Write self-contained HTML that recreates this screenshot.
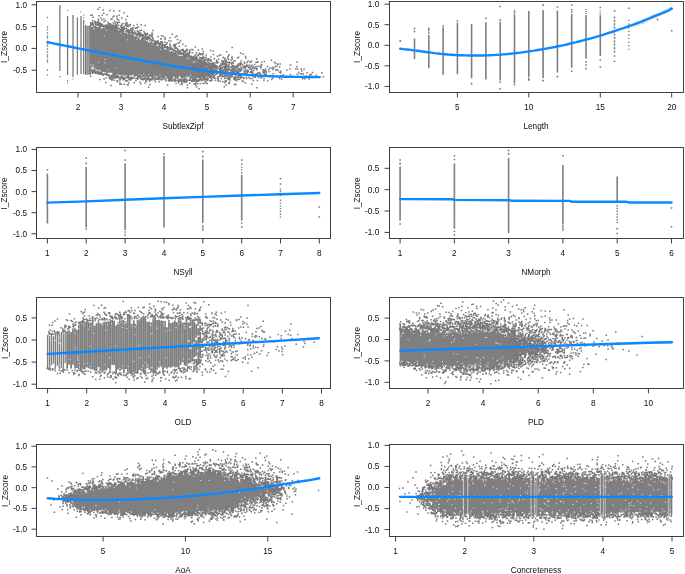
<!DOCTYPE html>
<html><head><meta charset="utf-8"><title>Scatter plots</title>
<style>
html,body{margin:0;padding:0;background:#fff}
svg{display:block}
text{font-family:"Liberation Sans",Arial,sans-serif;font-size:8.2px;fill:#0d0d0d;filter:grayscale(1)}
</style></head><body>
<svg width="685" height="574" viewBox="0 0 685 574">
<rect width="685" height="574" fill="#fff"/>
<g>
<path d="M59.9 5V71M67.6 16V75M73 15V77M77.4 17.5V74.8M81 16V74M83.7 20V74M85.6 25V75M87.2 25.7V74.8M88.9 25.7V74.8M90.3 25V74.8" stroke="#777" stroke-width="1.25" fill="none"/>
<path d="M47.5 17.5h0M47.5 27h0M47.5 29.5h0M47.5 33h0M47.5 36h0M47.5 38h0M47.5 44h0M47.5 46h0M47.5 49h0M47.5 52h0M47.5 55h0M47.5 57h0M47.5 60h0M47.5 62h0M47.5 70h0M47.5 74.8h0" stroke="#787878" stroke-width="1.3" stroke-linecap="square" fill="none" opacity="1"/>
<path d="M59.9 76.6h0M67.6 10.5h0M67.6 80.6h0M67.6 83h0M73 79h0M59.9 8h0M81 12h0M83.7 15h0M83.7 18h0" stroke="#787878" stroke-width="1.2" stroke-linecap="square" fill="none" opacity="1"/>
<path d="M91 26.5 L92 27 L93 26.4 L94 25.8 L95 26.4 L96 25.9 L97 27.2 L98 28.9 L99 26.8 L100 26.8 L101 28.2 L102 28.2 L103 28.1 L104 27 L105 28.2 L106 29.2 L107 26.9 L108 28.2 L109 26.6 L110 27.5 L111 27 L112 29.2 L113 28.2 L114 30.2 L115 30.3 L116 30.2 L117 27.6 L118 30.2 L119 31 L120 31.4 L121 29.7 L122 31.2 L123 30.8 L124 31.4 L125 33.9 L126 32 L127 33.3 L128 34.7 L129 33.3 L130 34.2 L131 34.8 L132 35.1 L133 33.9 L134 35.8 L135 37.6 L136 34.5 L137 37.8 L138 37.3 L139 36.7 L140 40.3 L141 39.2 L142 37.2 L143 39.1 L144 40.1 L145 39.5 L146 40.9 L147 40.4 L148 41.7 L149 43.1 L150 41 L151 42.4 L152 42.1 L153 43.2 L154 42 L155 43.2 L156 44.1 L157 45.8 L158 46.5 L159 44 L160 45 L161 47.2 L162 44.5 L163 46.8 L164 47.7 L165 49.8 L166 49.5 L167 48.8 L168 49.2 L169 49.7 L170 52.3 L171 50.4 L172 51 L173 52.3 L174 52.2 L175 52.5 L176 51.9 L177 53.6 L178 53.6 L179 55.9 L180 55.8 L181 55.4 L182 56.6 L183 55.8 L184 57.9 L185 57 L186 58.1 L187 56.3 L188 58.6 L189 56.6 L190 56.6 L191 59.1 L192 58.9 L193 60.7 L194 63.7 L195 60.5 L196 61.3 L197 62.7 L198 63.6 L199 63.3 L200 63.8 L201 65.5 L202 65.9 L203 64.6 L204 66.4 L205 67.2 L206 66.5 L207 68.7 L208 68 L209 70.8 L210 70.6 L211 71.1 L212 71 L213 72.2 L214 70.6 L214 71.4 L213 74.5 L212 76.4 L211 75.2 L210 76.1 L209 76.4 L208 77.9 L207 76.6 L206 75.6 L205 77.5 L204 77.6 L203 79 L202 76.5 L201 80.7 L200 78.9 L199 78.9 L198 77.6 L197 78.7 L196 77.4 L195 77.3 L194 77.7 L193 77.3 L192 79 L191 78.4 L190 79.1 L189 76.5 L188 77.3 L187 78.3 L186 76.7 L185 77.5 L184 78.5 L183 78.2 L182 78.6 L181 78.8 L180 76 L179 76.5 L178 79.4 L177 78.3 L176 77.1 L175 79.2 L174 76.2 L173 76.8 L172 79.9 L171 80.3 L170 79 L169 78.5 L168 78.9 L167 76.4 L166 79.6 L165 77.2 L164 78.8 L163 78.6 L162 78.5 L161 78.2 L160 77.3 L159 78.6 L158 78.6 L157 75.7 L156 76.7 L155 77.8 L154 78.1 L153 78.6 L152 77.2 L151 77 L150 76.8 L149 77.8 L148 76.4 L147 76.5 L146 76.9 L145 77.3 L144 76.3 L143 78.4 L142 75.3 L141 75.4 L140 76.5 L139 76 L138 77.2 L137 75.7 L136 76.6 L135 76.5 L134 77.3 L133 74.3 L132 75.6 L131 76.1 L130 74.5 L129 77.9 L128 76.6 L127 74.9 L126 75.3 L125 78.1 L124 75.1 L123 74.3 L122 75.4 L121 75.2 L120 75.4 L119 74.6 L118 74.6 L117 74 L116 74.7 L115 75.6 L114 74.1 L113 75.6 L112 72.4 L111 72.9 L110 72.5 L109 73.2 L108 72.3 L107 74.1 L106 71.3 L105 72.1 L104 71.7 L103 71.7 L102 73.2 L101 72.7 L100 69.2 L99 70.8 L98 71.3 L97 69 L96 70.6 L95 67.2 L94 70 L93 66.1 L92 68.8 L91 66.6Z" fill="#7f7f7f" stroke="none"/>
<path d="M157 78.9h0M116.6 75.1h0M120.9 32h0M131.1 77.2h0M146.6 38.3h0M100.6 72.6h0M183.7 57.3h0M161.8 46.1h0M128.5 33h0M99.5 72.3h0M184.7 55.7h0M106.7 75.1h0M107 73.2h0M106.5 73.5h0M101 26.3h0M202.7 80.1h0M123.8 77.7h0M128.3 77.1h0M193.7 59h0M167.1 48.2h0M113.9 27.5h0M143.9 39.1h0M200.3 78.2h0M136.7 34.7h0M179.4 54.2h0M103.4 25.9h0M181.2 54h0M186.5 56.8h0M193.2 78h0M174.1 50.4h0M136.3 37h0M97.7 72.7h0M155.5 41.7h0M184.4 56.3h0M113.6 73.9h0M123.8 78.2h0M156.5 78.3h0M183.3 56.5h0M202.4 64.2h0M106.5 28.3h0M113.1 29h0M190.2 57.6h0M170.2 48.2h0M180.1 80.4h0M214.5 73.2h0M207.1 67.4h0M194.8 79.5h0M187 55.3h0M138.5 38h0M170.2 49.5h0M113.2 76.3h0M184.9 79.2h0M184.4 78.7h0M180.3 79.7h0M145.8 39.7h0M136.6 34.5h0M142.6 76.3h0M94.7 69.3h0M194.8 78h0M157.9 79.1h0M139.4 77h0M157.8 42.9h0M180.4 80.7h0M138.2 34.8h0M193.4 60.3h0M204.9 76.6h0M138.5 77.3h0M108.3 75.4h0M184.7 55.2h0M213.6 73.6h0M109.3 27.2h0M179.2 80.7h0M192.7 80.9h0M204.8 65.4h0M106.4 74.6h0M101.8 25.8h0M213.2 71.8h0M104.6 71.8h0M112.3 27.7h0M161.6 47.2h0M146 39.5h0M183.5 81h0M114.1 75.5h0M204.3 78.8h0M116.6 77.2h0M185.8 57.1h0M99.3 24.9h0M149.1 79.3h0M94.8 69.9h0M129.1 33.6h0M129 34.3h0M180.4 80.8h0M146.8 76.9h0M98.3 28.2h0M214.1 76.2h0M201.2 79.6h0M203.9 65h0M121.2 77.3h0M139.2 75.9h0M118.9 31.6h0M105.5 27.4h0M95.5 27.6h0M153.2 78.3h0M105.7 74.2h0M112.2 75.4h0M196.8 79.9h0M151 42.9h0M113.4 74.2h0M173.9 50.1h0M122.8 75.7h0M155.8 43.2h0M125.6 33.7h0M154.7 79.6h0M167.8 77.8h0M156.7 44h0M139.6 36.7h0M189 80.2h0M198.7 61.2h0M113.2 28h0M107.4 28h0M104.8 71.7h0M212.1 70h0M207 79.6h0M118.6 31.9h0M210.6 77.4h0M116.4 30.5h0M153 78.1h0M152.3 78.3h0M203.6 65.1h0M96.1 24.6h0M130.4 77.9h0M165.4 47.6h0M98.5 72.3h0M120 30.4h0M147.9 77.8h0M200.3 63.4h0M184.6 79.5h0M192.8 78.8h0M185.3 56.9h0M178 78.2h0M196 79.3h0M175.5 52.4h0M181.8 53.8h0M127.5 31.6h0M110.9 28.7h0M183.7 79.9h0M110.6 27h0M205.1 78.1h0M164.5 78.9h0M131.1 77.2h0M207.1 78.7h0M109.8 75.9h0M154.1 43.7h0M102.3 73.9h0M210.1 68.8h0M162.3 79.5h0M190.1 79.9h0M124.7 78.2h0M190.1 78.9h0M178 52.4h0M169.7 78.2h0M208.1 68h0M144.3 37.8h0M141.6 38.7h0M176 77.7h0M194.2 80.4h0M131.9 33h0M173.8 50.8h0M115.9 30h0M159 44.1h0M186.2 57.9h0M99.1 72.2h0M180.6 54.1h0M92.3 25.2h0M209.4 68.8h0M148.6 77.1h0M140.7 36.5h0M179.7 54.1h0M155.3 42.1h0M181.4 79.1h0M100.5 28.2h0M159.8 78.6h0M159.7 44.6h0M206 79.7h0M95.4 24.8h0M146.6 76.4h0M168.7 79.8h0M159 77.7h0M100 25.9h0M164.2 47.2h0M117.9 75.5h0M114.6 29.2h0M198.9 62.4h0M115.5 76.1h0M147.3 39.1h0M183.6 55h0M178.3 53.5h0M158.8 44h0M191.3 59h0M147.5 78.4h0M167.4 48.3h0M191.7 58.8h0M175 77.4h0M170.2 79h0M141 76.8h0M159.7 45.4h0M139.6 76.1h0M182.8 80h0M137.6 34.9h0M147.7 77.6h0M183.6 57h0M153 78.6h0M131.9 35.3h0M193.1 80.7h0M137.8 76.3h0M194.5 79.1h0M187.8 57.2h0M146.3 76.6h0M178.8 78.9h0M94.9 26.7h0M139.3 35.8h0M196.9 81h0M162.4 46.3h0M160.4 79.4h0M172.8 77.9h0M175.2 79.5h0M162.8 78.4h0M142.6 38.7h0M112.9 27.7h0M127.1 31.6h0M127.4 75.9h0M143.6 39.1h0M214.2 76h0M134 33.2h0M145.6 78.3h0M137.5 78.7h0M163.2 44.9h0M207.6 78.8h0M201.4 79.8h0M136.6 36.7h0M123.6 31.8h0M199.8 62.6h0M152.4 79.5h0M175.5 52.9h0M100.4 26.8h0M198.1 63.8h0M128.6 77.9h0M152.1 78h0M115 76.4h0M143.1 38.9h0M193.2 80h0M193.2 59h0M149.5 40.5h0M185.7 78.4h0M147.3 39.8h0M136.9 78.3h0M158.3 77.3h0M115.4 30.6h0M130.5 77.2h0M177.8 54h0M186 80.4h0M98.4 25.3h0M181.4 53.1h0M191.9 80.5h0M146.4 38.7h0M97.9 27.4h0M174.9 80.2h0M121.3 29.8h0M170 79.8h0M136.9 78.2h0M169.9 80h0M122.9 31.7h0M149.6 78.7h0M155.6 78.4h0M169.3 49.6h0M116.1 75.1h0M210.2 70.5h0M126.3 77.1h0M127.7 76.8h0M121.7 76.6h0M98.8 72.7h0M142.8 78.4h0M186.3 55.8h0M177.9 80.9h0M114.8 30.1h0M107.1 27.5h0M129.7 34.8h0M185.6 79.2h0M151.2 79.5h0M205.3 77.1h0M171.8 49.6h0M167.1 47h0M185.5 56.4h0M183.9 80.4h0M133.1 77.2h0M121.8 76.3h0M144.8 77.9h0" stroke="#787878" stroke-width="1.5" stroke-linecap="square" fill="none" opacity="1"/>
<path d="M111.6 25.6h0M124.3 27.9h0M124.1 12.9h0M212.7 70h0M127.5 31.4h0M115.2 23.3h0M207.8 79.6h0M106.4 26.6h0M210.9 77.6h0M196.4 57.9h0M167.8 48h0M138.5 26.8h0M111.6 76.3h0M102.2 24.4h0M101.8 19.9h0M128.9 78.9h0M136.1 34.6h0M205.5 62.2h0M151.7 80h0M213.6 69.2h0M178.2 51.8h0M105.7 82.4h0M155 42.3h0M107.8 24.5h0M94.7 72.1h0M208.4 64.7h0M127 23.2h0M111.2 75.4h0M102.2 24.9h0M169.3 81.2h0M141.8 78.8h0M91.6 70.8h0M178 49.4h0M117.7 20h0M186.5 81.8h0M146.4 78.5h0M152.1 36.2h0M141.9 35.8h0M171.6 47.9h0M213.3 67.6h0M189 57.1h0M97.7 22.2h0M147.5 37.8h0M116.5 25.3h0M102.4 24.8h0M112.3 27.5h0M117 26.5h0M209.8 59.8h0M182.2 80.2h0M195.7 59.6h0M175.1 44.5h0M124.6 79.2h0M133.5 78h0M140.2 78.3h0M121.8 24.2h0M137.2 28.3h0M185.3 54.1h0M99.3 25.2h0M121.1 77.6h0M145.3 83.1h0M172.2 49.3h0M168.4 80.5h0M179.4 52.1h0M101.5 73.6h0M109.8 25.3h0M123.9 29.3h0M120.8 26h0M182.7 80.5h0M214.4 76.2h0M172.5 80.6h0M93.7 70.8h0M123.3 78.8h0M189.7 51.7h0M205.8 78.9h0M160.5 43.1h0M129.3 32.2h0M128.9 25.3h0M165.6 79.5h0M197.8 80.1h0M128.5 30.6h0M111.3 75.6h0M90.6 76.2h0M106.2 25.3h0M195.9 54.7h0M165.2 38h0M213.8 71.3h0M97.6 72.6h0M130.5 78.6h0M188.8 56.6h0M170.4 46.2h0M98.4 24h0M135.2 28.2h0M167.2 42.7h0M173.7 46h0M140.9 33.2h0M111.4 27.5h0M211.5 68.1h0M142.9 79.2h0M178.3 43h0M152.4 34.4h0M100.5 74.2h0M115.8 77.4h0M98.2 72.2h0M110.9 24.2h0M112 75.7h0M137 33.3h0M125.8 25.4h0M129.5 30.6h0M191.3 57.4h0M93.2 72.8h0M102.3 15.2h0M189.7 83.3h0M151.7 36.3h0M140.1 82.2h0M119.4 28.7h0M153 40h0M113.7 28.2h0M197.1 60.6h0M192.5 58.4h0M126.4 31.5h0M93.4 25.1h0M200.9 61.2h0M122.8 27.5h0M169.4 47.4h0M197.3 80.2h0M189.4 55.4h0M197.9 81.2h0M145.8 80.7h0M194.7 59.8h0M142.4 79.4h0M119.4 22.2h0M144.9 37.9h0M127.4 84.8h0M184.9 81.7h0M193.9 59.1h0M106.1 78h0M107.7 26.6h0M132.8 27.7h0M142.8 35.3h0M209.8 64.1h0M208 66.4h0M210.6 68.2h0M180.3 51.1h0M171.7 80.5h0M119.9 77.7h0M131.1 32.2h0M90.6 22.7h0M193.9 58.5h0M120.1 29.4h0M99.1 15.8h0M125.4 81.1h0M126.3 23.1h0M178.6 81.5h0M91.3 69.7h0M115 28.1h0M202.2 61.8h0M196.7 59.9h0M165 39.4h0M155.2 79.2h0M115.3 25.6h0M199.3 61.5h0M183.7 80.1h0M149.3 37.9h0M108.1 26.2h0M114.2 26.5h0M132.4 29.7h0M126.9 80.7h0M98.4 24.6h0M136.4 27.5h0M141.3 79.6h0M121.9 30h0M133 78.3h0M126.7 31.2h0M132.3 27.7h0M164.4 45.5h0M146.7 78.5h0M112.2 25.9h0M189.2 52.8h0M177 36.1h0M182.8 44.3h0M195.5 83.4h0M191.3 56.2h0M170.8 48.9h0M178 52.1h0M107.7 26.9h0M175.1 81h0M117.9 22.7h0M118.3 77h0M104.2 25.4h0M134.2 82.7h0M92.8 70.3h0M168.6 47.8h0M182.4 80.7h0M186.4 82.3h0M105.1 26.6h0M167.4 47.2h0M194.2 59.2h0M95.1 21.7h0M110.9 76.9h0M119.9 84.3h0M143 34.8h0M108.7 23.8h0M152.9 37.9h0M128 31.9h0M168.5 47.7h0M173.8 79.8h0M117.1 80.7h0M176.3 51.4h0M180.1 80.6h0M178.2 80.3h0M98.1 22.4h0M208.8 64.2h0M157.9 41.1h0M120.3 79.7h0M139.4 32.9h0M149.7 81.3h0M149.5 37.3h0M117.5 27.8h0M119.4 80h0M130.1 80.1h0M187.3 84.9h0M139.1 34.2h0M95.4 73.2h0M140.7 35.4h0M111.9 27.8h0M92.2 73.2h0M211.7 80.2h0M122.2 78.2h0M151.8 41h0M130.2 24.4h0M97.3 73.2h0M202.9 58.4h0M207.5 66.2h0M111.1 85.6h0M137.3 24.5h0M108.6 74.9h0M170.2 80.5h0M187.4 87.8h0M184.1 82.3h0M172.4 80.9h0M92.6 23.8h0M115.4 28.7h0M149.4 79.7h0M176.1 79.9h0M132.9 29.5h0M141.2 24.8h0M194.7 55.8h0M93.2 24.5h0M120.2 77.9h0M122 77.4h0M213.8 66h0M114.5 21.3h0M95.7 24.1h0M137.3 31h0M167.7 48.1h0M194.7 59.4h0M112 80.3h0M176.1 48.2h0M108.4 74.7h0M200.4 54.6h0M112.5 27.1h0M180.4 80h0M194 57.3h0M117.6 81.7h0M101.5 73.4h0M158.7 79.4h0M147.1 38.4h0M144.8 38.1h0M187.3 49.4h0M142.7 78.8h0M146.9 39h0M145.7 35.4h0M142.4 78.4h0M135.1 32.7h0M108.1 26.2h0M122.8 28.6h0M118.7 28.6h0M117.4 28.3h0M187.3 80h0M103.2 75.3h0M113.5 26h0M151.1 78.8h0M124.7 78.6h0M116.1 78h0M131.8 78.6h0M148 38.3h0M172 48.7h0M212.1 80h0M196.4 52.7h0M138.3 33.5h0M140.9 84.1h0M137.3 78.4h0M116.4 76.8h0M209.3 66.4h0M98.1 9.3h0M113.4 76h0M170 38.1h0M159.6 44.4h0M120.8 78h0M207.2 80.6h0M135.9 80.7h0M160.9 44.3h0M100.9 23.9h0M201.7 80.6h0M101.6 73.6h0M133.5 33.8h0M201.2 60.6h0M207.8 67.3h0M203 62.3h0M193.4 59h0M116.1 27.3h0M94.3 72.2h0M141.3 78.5h0M209.6 67.1h0M90.9 23.3h0M126.4 28.4h0M113 17h0M92.4 15.1h0M146.7 79.6h0M98.6 74h0M203.4 62h0M173.9 50.8h0M131 79.6h0M195.4 46.9h0M188.7 54h0M126.5 22.6h0M195.9 80.1h0M206.7 64.4h0M163.7 45.5h0M129 32.1h0M203 79.5h0M208.4 58.8h0M128.6 30.6h0M99.5 22.7h0M197.7 80.9h0M170.1 45.5h0M116.3 25.3h0M157 41.5h0M124.1 26.4h0M205.1 81.8h0M127.5 29.5h0M111.7 27.3h0M96.5 22.4h0M127.8 31.5h0M213.4 69.2h0M114 16.1h0M141.7 30.2h0M90.7 15.2h0M122.8 28.1h0M191.9 57.1h0M100.9 23.5h0M206 57.7h0M194 80.3h0M105.5 26.3h0M159.8 43.5h0M155.5 81.7h0M174.5 80.9h0M124.2 84.2h0M133 33.5h0M117.2 80.9h0M121.8 77.7h0M109.9 10.4h0M203 79.6h0M201.4 58.2h0M129.8 32.7h0M173.6 50.8h0M145.5 36.4h0M121.4 29.9h0M128.8 83.1h0M210.6 69.3h0M128.1 85h0M158.3 42.4h0M208.1 59h0M122.7 30.5h0M189.9 80.1h0M102.8 26.1h0M179.5 80.4h0M190.5 56.4h0M211.6 77.6h0M177.4 49.1h0M212.5 68.4h0M121.3 27.6h0M149.8 35.5h0M113.7 11.1h0M100 73.4h0M140.1 30.4h0M186.5 53.9h0M93.4 70.8h0M207.8 61.4h0M117.1 28.5h0M121.6 30h0M194 59h0M201.6 63.3h0M179.6 42.5h0M126.6 30.7h0M142.8 36.3h0M193.8 80.9h0M189.6 53.2h0M186.6 49.4h0M143.2 35.7h0M202.2 54.2h0M133.2 33.6h0M182.2 53.8h0M167.2 46.8h0M127.1 26.3h0M152.2 79.2h0M161.6 35.7h0M151.7 40.9h0M103.2 26.3h0M213.7 75.9h0M211 66h0M94.8 71.2h0M207.9 79.3h0M152.3 40.9h0M104.2 21.4h0M191.9 81.2h0M138.8 32.1h0M177.3 51.8h0M193.2 57.1h0M152.9 30.5h0M96.4 72.5h0M192.2 80.4h0M175.5 47.5h0M204.2 64.6h0M120.4 77.3h0M187.1 53.6h0M199.2 80.6h0M129.3 79h0M135.6 78.5h0M127 80.5h0M91.1 24.3h0M115.6 26.9h0M127.3 24.5h0M102.2 73.5h0M184.4 80.5h0M137.9 31.2h0M157 42.4h0M121.4 29.4h0M129.9 32.6h0M183.3 52.3h0M143.9 31.8h0M160.8 38.9h0M137.8 34.8h0M154.7 79.7h0M201.9 58.1h0M118.7 19.9h0M150.3 38.5h0M174.5 50.1h0M99.6 23.5h0M209.6 66.8h0M146.5 79h0M117.4 24.1h0M183.6 53.1h0M191.2 80.7h0M165.8 80h0M204.7 80.1h0M99.7 23.8h0M151.2 35.2h0M180.5 40.4h0M205.4 81.7h0M167.1 46.7h0M161.7 42.2h0M132.7 28.5h0M157.2 79.3h0M155.1 41.3h0M202.8 63.2h0M192.8 49.8h0M181 81h0M206.4 83h0M98 24.1h0M185.3 52.2h0M143.1 79.7h0M183.1 53.1h0M123 23.5h0M143.2 34.8h0M193 81.2h0M95.2 71.9h0M121.7 25.4h0M145.8 36.7h0M196.4 59.6h0M119.9 82.6h0M192.3 52.8h0M117.4 76.9h0M123.1 79.8h0M154.6 80h0M169.3 47.4h0M200.2 62.1h0M199.8 62.5h0M118.4 76.8h0M182 83.9h0M132.6 31.9h0M185.7 45.9h0M202.1 80.1h0M145.3 34.7h0M204.6 63.4h0M103.5 25.9h0M109.1 77.6h0M183.9 55.1h0M123.9 29.1h0M159.3 81.7h0M147.4 33.6h0M106.5 25.9h0M183.3 50.4h0M180.5 50.5h0M105.7 20.5h0M119.1 15.3h0M189.5 50.1h0M203.6 57.2h0M199 60.1h0M147.9 78.7h0M130.9 30.2h0M139.8 35.5h0M109.8 78.8h0M146.7 37.4h0M114.6 28.3h0M108.1 22.2h0M131.9 33.4h0M98.2 21.3h0M144.1 36.8h0M175.5 51.1h0M168.8 48h0M212.4 65.1h0M200.9 54.1h0M166.2 47.2h0M202.3 59.4h0M139.9 34.3h0M188.9 56.6h0M121.1 27h0M150.6 79.1h0M212 77.2h0M160.6 42h0M147.7 38.1h0M187.1 80.6h0M124.5 28.8h0M193.5 80.6h0M92.8 24h0M115.6 24.7h0M110 77.1h0M117.9 76.8h0M207.9 79.1h0M93.3 70.2h0M123.2 27.4h0M158.1 40.9h0M176.1 83.4h0M186.1 55.6h0M133.2 33.2h0M114.4 80.2h0M196.4 56.8h0M104.5 25.6h0M98.4 19.2h0M115.6 28.3h0M146 34.2h0M208.3 63.8h0M178.8 82.8h0M156.1 41.3h0M149.6 34.9h0M174.7 48h0M164.9 46.3h0M126.6 77.7h0M100.9 17.9h0M111.7 77.4h0M187.4 52.9h0M165.8 47h0M96.3 24.5h0M203.1 51.6h0M132.6 32.8h0M205.7 65.4h0M160.1 43.2h0M153.7 40.5h0M191.7 49.5h0M165.1 44.7h0M172 48.5h0M107.8 25.7h0M162.1 41.8h0M130.1 78.3h0M98.5 20.2h0M104.8 74.1h0M144.8 34h0M119.4 78.1h0M183.6 51.6h0M103.8 13.2h0M91.7 24.1h0M214.2 76.9h0M125.3 23.9h0M148.6 87.2h0M113.4 77.4h0M113.2 23.1h0M134.7 31h0M188.4 55h0M94.8 21.3h0M194.3 84.1h0M155 79.3h0M130 25.4h0M116.4 22.3h0M110.3 76.9h0M126 31.2h0M195.6 57.8h0M90.9 25h0M186.9 51.1h0M171.5 49.2h0M93.2 17.3h0M97.9 72h0M179.9 50.4h0M172.3 34.3h0M124.6 78.8h0M198.3 81.3h0M113.2 25.1h0M137.9 79.3h0M103.2 9.9h0M167.9 47.8h0M99.6 7.4h0M109.9 23.7h0M184.6 52.1h0M146.6 33.7h0M169.9 48.7h0M180.3 80.8h0M161.7 79.7h0M112 19.3h0M175.5 37.1h0M103.3 26h0M120.4 29.7h0M141.2 34.5h0M103.1 26.4h0M102.1 74.4h0M169.1 79.6h0M181 84.6h0M130.9 78.2h0M133.7 25.6h0M112.6 79h0M149.9 84.4h0M207.1 83.6h0M94.7 23.1h0M204.3 64.2h0M213.5 54.6h0M128.4 78.3h0M179.2 46.3h0M193.1 81.3h0M168.9 41.1h0M122.3 28.6h0M163.5 36.6h0M199.5 62.2h0M102 26h0M144.8 33h0M92.9 24.1h0M195 59.7h0M185.5 55.9h0M96.5 71.4h0M182.2 54.2h0M173.6 79.7h0M104.2 74.3h0M151 39.6h0M174.2 50.7h0M127.2 31h0M148.5 39h0M211.6 66.4h0M166.5 44.3h0M148 36.8h0M97.7 25.2h0M103.9 19.1h0M195.9 80.9h0M181.4 53.5h0M194 58.9h0M158.2 36.4h0M152 33h0M180.3 52.9h0M126.5 25.9h0M147.4 34.2h0M144.4 79.3h0M169.5 47.4h0M114 78.1h0M92.6 22.4h0M100 23.2h0M109.6 26.8h0M197.4 59.3h0M177.7 50.1h0M182.2 53.8h0M140.2 78.3h0M101.8 25.9h0M142.7 37.4h0M198.4 61.2h0M148.5 79.8h0M165.8 80.8h0M131.8 31.6h0M107.1 26.7h0M144.6 78.7h0M128.1 26.7h0M119.2 77.7h0M175.2 80.1h0M125 28.9h0M157.8 42.9h0M118.5 28.6h0M183 49.8h0M132.1 32.7h0M144.9 36.5h0M206.5 79.1h0M177.7 51.6h0M180.3 53.2h0M128.2 29.7h0M195.4 84.8h0M133.4 33.1h0M212.7 69.4h0M202.4 62.5h0M169.9 44h0M193.2 57.6h0M153.5 40.3h0M180.1 52.4h0M104.1 79h0M212.6 65.6h0M189.1 56.2h0M105.7 26.8h0M116.9 26.6h0M157.9 42.8h0M184.5 54.4h0M107.1 14.8h0M210.2 68.1h0M127.7 81.1h0M213.8 66h0M183.4 49.4h0M145.6 78.5h0M130.5 78.8h0M100.9 23.4h0M99.9 25.5h0M165 42.2h0M185.9 54.3h0M204 64.5h0M130.9 32.4h0M208.2 65.2h0M122.8 27.4h0M207.7 78.5h0M204.9 60h0M106.6 74.5h0M197.9 60.8h0M176 51.3h0M176.3 44.1h0M194.6 57.8h0M151.9 39.9h0M148.3 36.8h0M130.8 29.1h0M198.3 49.9h0M203.2 58.5h0M107.5 26.1h0M184.9 51.6h0M120.3 77.3h0M110 26.3h0M112.2 27.5h0M157.5 41.9h0M121.2 84.2h0M117 16.3h0M101.3 25.6h0M125.9 19.4h0M185.5 55.9h0M92.8 71.2h0M145.1 38.2h0M162.4 44.8h0M96.1 73h0M121.8 18h0M204.5 60.2h0M213.9 75.8h0M195.7 80.8h0M109.1 26.8h0M183.8 54.6h0M140.6 34.9h0M109.2 26h0M145.2 25.4h0M206.5 63.1h0M199.6 59.3h0M134.4 34h0M98.3 74.1h0M202.8 64.2h0M213 64.2h0M149.1 36.4h0M114.8 26.8h0M152.6 38.3h0M175.3 46.1h0M144.7 38.2h0M129 30.9h0M116.9 18.3h0M123.4 30.3h0M96.1 24.7h0M117.9 77.6h0M90.9 24.1h0M179.2 80.3h0M187.7 54.2h0M135.3 32.8h0M161.3 39.1h0M114.3 76.7h0M171 41h0M176.7 48h0M180.1 52.2h0M146.4 81.4h0M210.8 80.7h0M197.5 60.1h0M156.7 43.2h0M173.4 50h0M119.5 11.1h0M207.6 64.3h0M167.6 85.1h0M202.4 48.9h0M121.9 28h0M213.2 51h0M102.2 25.5h0M151.9 36.4h0M103.2 74.2h0M111 19.1h0M184 81.2h0M97.8 72.3h0M132.5 31.5h0M111.1 79.1h0M195.8 84.9h0M99.8 73.3h0M127.4 16.3h0M196.9 58h0M173.6 45.1h0M176.1 80.8h0M92.6 20.7h0M169.8 47.5h0M182.1 50.3h0M181.8 82.4h0M177.5 39.4h0M99.3 74h0M100 79.5h0M185.4 51h0M162.5 43.2h0M118.7 25.5h0M92.4 72.3h0M152 40.7h0M100.7 24.3h0M182.1 49.6h0M128.2 31.4h0M190.1 51.6h0M100.5 25.6h0M146.5 35.1h0" stroke="#787878" stroke-width="1.5" stroke-linecap="square" fill="none" opacity="1"/>
<path d="M195.7 64.5h0M146.9 40.5h0M93.8 28.4h0M160.6 49.6h0M133.4 76.1h0M178.8 78.2h0M104.3 36.1h0M116.4 68h0M188.8 77.9h0M174.5 77.7h0M187 76.4h0M136.7 39.2h0M154.4 75.8h0M190.7 75.2h0M152.2 44.3h0M98.5 62.2h0M104.8 59.7h0M90.7 65.2h0M101.4 28.5h0M93.1 64.6h0M125.2 76h0M146.6 76.9h0M177.8 54.6h0M127.4 39.9h0M105.1 62.9h0M187.3 58.4h0M188 78.1h0M201.7 66.7h0M93.4 66.5h0M143.8 73.9h0M148.7 74.6h0M139.1 74.3h0M106.6 30.5h0M189.3 58.7h0M139.2 37.8h0M93.9 28.8h0M121 33.3h0M160 75.1h0M108.6 69.7h0M165.6 76.5h0" stroke="#fff" stroke-width="1.0" stroke-linecap="square" fill="none" opacity="0.8"/>
<path d="M215.2 72.5h0M204.2 63h0M202.2 70.5h0M198.5 75.5h0M202.7 70.7h0M201.3 53.9h0M213.4 73.4h0M212 69.6h0M232.6 65.4h0M233.6 78.7h0M218.6 59h0M225.3 81.4h0M214.8 65.5h0M207.4 79.1h0M216.6 69.3h0M223.7 62.1h0M252.5 72.2h0M236.8 72.7h0M197.5 71.8h0M224.2 76.5h0M198.5 62.2h0M223.2 73h0M239.7 75.1h0M228 68.7h0M199.6 62h0M212.6 63.2h0M202.6 73.5h0M225.5 75h0M228.8 65.5h0M230.6 62.7h0M209.5 77h0M221.8 60.5h0M203.1 69.6h0M248.7 67.2h0M249.9 62.2h0M195.7 68.9h0M219.8 68.6h0M229.3 78.8h0M204 83.6h0M195.9 66.8h0M193 74.9h0M228.5 76.5h0M194.4 64.3h0M210.9 63.6h0M235.3 79.9h0M196.9 65.6h0M228.5 70.2h0M213 67.4h0M211 68.3h0M215.6 65.7h0M209.3 73.8h0M240.9 78h0M226.1 68h0M210.9 60.3h0M199.6 68.6h0M216.6 60.3h0M265.7 69h0M244 77.9h0M197.6 83.8h0M209.5 71.4h0M214.9 62.8h0M211.8 74.1h0M199.3 53.2h0M202.2 63.9h0M218.3 79.1h0M229.5 74.8h0M229.2 62.3h0M226.2 60.4h0M226.3 75.3h0M194 67.6h0M203.5 64.7h0M208.6 71.6h0M205.1 65h0M210.9 56.9h0M211.5 74.3h0M208.7 64.8h0M194.2 61h0M241.2 63.7h0M252.8 73h0M222.8 65.1h0M205.8 72.8h0M213.9 67.7h0M246.4 77.2h0M221.9 67.6h0M227.8 66.5h0M228.1 58.7h0M257.9 66.4h0M225.2 74.5h0M199.1 88.8h0M216.7 61.8h0M247.7 65.9h0M199.9 70.6h0M196.8 71.3h0M196.8 63.5h0M197.6 68.7h0M201.3 57.8h0M233.1 68.9h0M221.8 75.4h0M230.2 80h0M219.4 68.7h0M209.4 67.4h0M234.3 73.3h0M201.5 75.8h0M209.6 72.2h0M212.2 64.5h0M226.8 72.4h0M232.3 76.2h0M220 65.4h0M222.3 61.9h0M206.2 72.1h0M221.5 72.1h0M239.1 76.4h0M213.4 69.9h0M231.7 66.8h0M216.8 66.9h0M217.1 63.2h0M222.3 64.3h0M200.4 64.6h0M203.4 65.4h0M201.8 75.9h0M218.3 62.1h0M226 70h0M228.6 66.9h0M203.1 78.4h0M208.5 70.7h0M200.6 65.9h0M225.1 75.1h0M212.5 69.7h0M205.8 65.7h0M203.8 78.7h0M251.5 75.4h0M215.5 80.3h0M261.1 78h0M207.9 74h0M203.4 69.5h0M229.1 64.1h0M246.4 75.2h0M201.3 69h0M240.9 74.8h0M221.1 69.9h0M245.4 67.6h0M251.1 66.4h0M212.8 73.8h0M250.3 78.5h0M202 66.7h0M213.6 72.3h0M213.6 78.1h0M204.6 63.3h0M215.6 67.4h0M231.7 64.1h0M199.1 76.3h0M215.5 71.2h0M217.8 66.9h0M202.6 57.7h0M224.4 69.1h0M204.9 75.3h0M220.2 68.1h0M220.3 67.3h0M231.4 74.3h0M249.4 65.1h0M248.2 71.8h0M216.5 73.4h0M205.4 63.8h0M204.5 63.3h0M234.3 72.2h0M232.3 70.1h0M234.9 69.5h0M238.2 72.2h0M219.9 71.3h0M244.6 66.3h0M225.3 66.3h0M223.7 72.9h0M238.6 77.3h0M225 78.3h0M232.9 65.8h0M248.7 77.4h0M211.3 74.1h0M231.6 70.5h0M206.9 72.1h0M215.7 74.8h0M242.1 81h0M256.1 66.6h0M251.3 74.9h0M232.1 69.9h0M239.6 69.9h0M243.2 77.6h0M222.4 75h0M204.6 62.2h0M194.8 66.2h0M232.4 72h0M232.3 62.6h0M230.2 75.6h0M220.7 69.5h0M225.3 71.3h0M229.3 72.5h0M218.1 80.9h0M225.4 70.5h0M203.8 66.4h0M218.2 80.5h0M223.6 67.2h0M220.1 66.8h0M205.1 59.9h0M199.8 75.7h0M225.1 71.9h0M199.3 71.6h0M234.9 71.8h0M202 67.8h0M233.2 66.3h0M209.5 64.2h0M245.1 73.8h0M203.8 69.6h0M201.1 79.4h0M226.4 65.9h0M233.3 68h0M209.2 62.7h0M215 78.2h0M225.6 63.1h0M206.8 74h0M211 78.4h0M220 69.1h0M207.1 73.7h0M200.6 54.5h0M245.9 69.4h0M199.7 57.5h0M259.7 73.1h0M239.2 71.2h0M213.8 64.7h0M240.8 76.4h0M197.4 70.7h0M219.8 66.8h0M209.4 65.9h0M207 59.6h0M244.3 70.4h0M196.2 82.6h0M240.9 67.3h0M198 71.2h0M226.6 67.2h0M206.4 74.2h0M217.8 72.5h0M248.1 70.4h0M235.2 60.8h0M198.8 65h0M207.2 76.8h0M215.8 68.2h0M229.2 74.2h0M193.6 64.8h0M241.1 61h0M239 73.5h0M252.7 73.5h0M202.9 65h0M203.3 66.4h0M238.2 72.7h0M217.2 66.1h0M204.6 71.1h0M194.8 66.8h0M203.4 53.4h0M226.4 69.6h0M230.3 67.2h0M209.4 63.9h0M247.1 73.7h0M216.9 66.8h0M217.3 73.1h0M211.3 76.3h0M211.7 70.3h0M209.6 59.4h0M237.5 66.9h0M213.4 75.2h0M204.1 67.2h0M213.2 64.5h0M248.1 71.1h0M224.2 73.3h0M199 70.2h0M212.4 73.5h0M214.7 64.5h0M194.5 66.3h0M253.7 70.6h0M246.9 71.5h0M198.9 54.5h0M219.2 68.5h0M207.5 60.5h0M203.2 77.9h0M205.9 79.1h0M196.9 79.7h0M227.3 75.3h0M210 66.2h0M228 76.2h0M236.7 69.9h0M220.3 73.8h0M208.9 63.5h0M200.4 64.7h0M224.9 73.1h0M226.4 80.9h0M233.9 70.7h0M200.3 83.6h0M196.6 86.9h0M242.6 64.4h0M222.2 70h0M198.6 62.1h0M228.7 69.8h0M197.1 64.8h0M223.8 69.9h0M219.3 75.9h0M229.1 76.1h0M198.6 70.2h0M245.9 71.6h0M250.2 72.4h0M259 72.9h0M232.7 74.1h0M207.5 69.2h0M257.3 74.7h0M222.7 62.4h0M229.3 75.3h0M225.6 80.8h0M203 70h0M240 63.4h0M224.7 78.4h0M203.6 66.7h0M210.5 50.4h0M200.5 67.2h0M213.1 73.4h0M260.5 74.3h0M210.7 77.3h0M211.3 73.4h0M235.6 71.7h0M198.1 55.3h0M199.6 61.2h0M231.2 71.8h0M200 73.1h0M222.5 64.1h0M236.8 67.6h0M219.8 72.9h0M198 55.7h0M203 56.1h0M218.6 68.6h0M252.4 73.2h0M225.1 67.6h0M227.8 57.1h0M221.6 70.3h0M208.1 60.7h0M222.3 74.2h0M194.1 67.5h0M212.2 71.2h0M236.4 74.7h0M202.9 65.4h0M224.8 75.3h0M229.4 77.9h0M201 71.3h0M240.5 78.6h0M204.6 64.9h0M253.9 76.7h0M208.9 71h0M222.5 64.3h0M251.5 71.5h0M237.1 68.1h0M215.7 66.3h0M202.5 69.4h0M222.7 76.6h0M221.2 68.2h0M197.4 69.3h0M210.7 60.1h0M247.5 72.2h0M217.8 77h0M202 74.1h0M224.5 73.2h0M214.1 66.4h0M246.6 66.4h0M215.9 69.2h0M195.5 59.2h0M201.2 60.6h0M201.8 75h0M251.9 67.1h0M209.6 80.8h0M209.1 60.2h0M256.7 74.3h0M203 61.2h0M223.2 71.3h0M251.3 66.4h0M246.1 71.8h0M201.2 67.7h0M215 66.9h0M204.9 72.3h0M228 79.4h0M204.7 65.1h0M201.8 74.6h0M205.8 69.6h0M200 68.4h0M229.2 83.4h0M206.1 55h0M211.5 65.2h0M205.9 57.3h0M210.6 67.4h0M207.2 67.7h0M228.6 72.7h0M201.7 80.6h0M227.2 78.2h0M209.1 66.5h0M198.6 71.7h0M199.6 79.7h0M245 72.5h0M196.4 69.8h0M205.9 72.3h0M241.1 63h0M198 63h0M203.2 71.1h0M205.6 72.6h0M238.4 66h0M199.4 66.4h0M251 71.2h0M199.6 67.6h0M219.9 74.3h0M233.3 71.5h0M219.5 71h0M216.8 61.1h0M213.3 63h0M204.9 71.1h0M261.7 64.5h0M211.7 71.2h0M224.2 66.4h0M220.9 65.2h0M253.8 75.3h0M204.6 64.5h0M201 63h0M244.8 67.8h0M216.9 70.2h0M224.3 86.8h0M223.3 57.6h0M234 70.8h0M238.6 69.8h0M228.1 76.2h0M193.5 65.6h0M238.6 57.3h0M196.4 77.3h0M240.5 65.2h0M192.7 67.6h0M233.4 63h0M224.2 63.8h0M195.4 64.9h0M231.8 75.7h0M220.7 75.2h0M199.6 64.5h0M242.4 74.1h0M221.4 67.8h0M214.5 70.3h0M250.9 72.6h0M202.9 72.8h0M201.8 64.6h0M244.1 70.7h0M201.2 70.1h0M236.9 71.5h0M203.2 63.5h0M236.5 80.7h0M211.9 66.5h0M222.9 74.7h0M222.3 71.4h0M211.3 77.1h0M217.4 56.3h0M224.8 82.6h0M200.2 67.1h0M246.8 64.9h0M237.3 71.7h0M203.1 83.6h0M203.8 72.1h0M211.2 61.5h0M233.1 68.1h0M217.3 78h0M207.6 60h0M232.9 69.7h0M202.6 66.8h0M228.6 83.2h0M231.8 69h0M198.9 77.2h0M220.2 65.8h0M221.5 65.2h0M255.6 77.2h0M206.9 73h0M214.4 58.7h0M249.5 75.1h0M200 72.8h0M244.6 68.1h0M209.9 70.6h0M208.9 70.9h0M262.9 69.9h0M211.1 65.6h0M204.7 64.5h0M203.1 66.9h0M227.8 62.6h0M224 70h0M204.4 59h0M216.2 70.1h0M206.4 68.4h0M238.6 65.3h0M209.5 74.6h0M222.8 81.8h0M246.6 78.6h0M204.4 59.9h0M252.1 78.5h0M215.7 71h0M224.3 69.9h0M205.8 65h0M227.7 70.4h0M229.7 78.7h0M221.4 73.3h0M241 68.9h0M215 65.4h0M194.6 65.3h0M246.5 74.6h0M220.1 81.3h0M222.7 63.8h0M221.8 70.1h0M196.3 65.6h0M206.4 64.1h0M198.4 71h0M224.8 73.6h0M240.2 63.3h0M225.5 64.2h0M236.5 77.7h0M208.4 71.1h0M195.8 71.7h0M212 66.2h0M201.5 66.1h0M207.2 72h0M204.4 65.6h0M202 61.3h0M227.2 70.4h0M221.7 75.5h0M237.3 65.2h0M258.8 77.5h0M204.3 73.4h0M249.8 67.1h0M232.8 70.8h0M219.8 69.7h0M255.9 75.2h0M217.1 73.8h0M195.6 59.3h0M199.8 59.5h0M207.5 75.7h0M227.8 71.1h0M220 72.5h0M226.9 72.4h0M194.9 78.5h0M204.7 61h0M219.3 76.5h0M225.1 65.4h0M213 74h0M203.5 77.5h0M207.4 60.1h0M232.3 73h0M229.2 68.9h0M204.7 66.9h0M251.8 72h0M196.5 61.1h0M204.2 62.5h0M213.3 73.6h0M235.7 75.7h0M219.9 66.5h0M226.5 61.8h0M251.9 83.9h0M210 76.2h0M202 71h0" stroke="#787878" stroke-width="1.5" stroke-linecap="square" fill="none" opacity="1"/>
<path d="M226.9 64.9h0M231.7 74.8h0M297.3 77.2h0M244.3 71.9h0M256.3 69h0M232 57.1h0M251.9 75.3h0M220.2 72.2h0M257.4 61.8h0M303.3 74.1h0M266.8 75.8h0M264.8 70.5h0M255.4 76.1h0M238.7 75.7h0M275.6 63.5h0M243.2 67.7h0M239.8 73.7h0M254.8 77h0M309.2 79h0M271.4 60.2h0M265.6 70.8h0M227.1 75.3h0M279.6 78.6h0M245.6 82.9h0M261.5 64.8h0M255.8 68h0M277 66.1h0M221 76.1h0M225.4 58.6h0M236.2 79.1h0M231.4 77.1h0M266.2 74.3h0M226.5 51.7h0M225.1 63.8h0M253.4 75.8h0M223.6 57.6h0M278 70.6h0M239.3 69.1h0M237.6 76.8h0M258.8 72.7h0M309.7 75.1h0M236.3 66.3h0M232.8 69.7h0M241.8 69h0M276.2 75.9h0M298.7 72.6h0M228.6 77.9h0M220.8 55h0M237.8 79.2h0M238.7 68.6h0M272.8 78.2h0M266.2 71.8h0M272.8 76.6h0M243.5 81.4h0M246 65.9h0M300.5 73.8h0M222.3 67.9h0M219.9 71h0M219.3 55.6h0M280.7 71.2h0M252.5 68.6h0M267.5 66.4h0M263.7 69.8h0M280.2 63.9h0M253.4 80.5h0M239.2 73.4h0M226.2 84.9h0M244.7 63.4h0M231 60.2h0M297.3 74.4h0M274.5 62.2h0M236.4 71.6h0M252 65.3h0M248.9 67.7h0M259.4 72.5h0M301.6 73.7h0M235.9 84.4h0M260.2 75.1h0M251.5 60.9h0M303.4 77.4h0M232.4 58.9h0M263.2 71.6h0M225 59.1h0M254.5 64.6h0M304.7 78.7h0M269.9 68.1h0M220.9 63.8h0M312.6 72.6h0M254.2 68.3h0M257.4 80.6h0M301.3 68.9h0M257.8 62.2h0M232.5 74.2h0M246 58.1h0M273 69.5h0M243.7 78.6h0M229.5 69.5h0M243.2 66.3h0M225.7 63.5h0M225.5 61.8h0M226.8 64.6h0M251.8 71.3h0M238.8 79.5h0M230.1 77.3h0M271.9 68.2h0M260 65.9h0M281.1 75.7h0M229 54.7h0M260.8 67.9h0M235.1 67.1h0M250.8 62h0M247.2 62.6h0M257.7 73h0M256.6 59h0M295.8 69.1h0M261.1 66.5h0M240.7 70.4h0M278 64.3h0M229 78.2h0M275.8 70h0M257.1 68.7h0M234.9 66.7h0M273.3 67.6h0M226.3 61.2h0M221.3 78.6h0M235.6 71.2h0M251.5 69.3h0M261.7 77.3h0M238.3 64.1h0M257.3 74.8h0M311.2 74.3h0M321.9 72.7h0M270.1 75.8h0M237.5 57.9h0M249.4 74.8h0M279.6 67.1h0M290.4 74.4h0M302.6 78.8h0M243.1 74.1h0M239.9 65h0M239.7 69.4h0M276.9 69.6h0M304.1 69.2h0M256 62.6h0M247 70.2h0M264.8 74.3h0M245.5 56.5h0M256.6 69.8h0M230.6 73.3h0M225.5 69.9h0M244.4 62.1h0M235.4 77.5h0M228.5 59.3h0M306.2 76.1h0M267.7 80.9h0M243.2 54.1h0M316.3 75.3h0M225.9 71.6h0M240.5 71.3h0M289.9 68.9h0M307.1 72.7h0M277.8 64h0M230.5 70.2h0M256.3 74h0M223.9 63.4h0M223.4 61.2h0M286.8 69.9h0M216.6 68.5h0M225.4 69.4h0M225.9 68.1h0M269.1 71.5h0M261.5 61.9h0M232.2 47.5h0M244.7 74.3h0M302.7 78.8h0M231.9 57.9h0M223.7 63.4h0M263.1 72.6h0M226 76.7h0M255.5 74.7h0M234.6 79.3h0M221 68.3h0M264.1 73.3h0M273.2 73.7h0M238.3 66h0M228.9 78.7h0M309.8 76.1h0M234 76.9h0M234.1 66.1h0M241.7 77.3h0M233.7 60.9h0M234.1 72.3h0M296.9 62h0M224.5 60.6h0M282.9 75.7h0M253.8 66.8h0M221.3 70.1h0M228.4 55.9h0M263.9 80.6h0M255.8 74.3h0M233.8 69h0M236.9 72.5h0M297.4 74.3h0M271.7 79.5h0M264.4 72.1h0M296.8 66.7h0M233.2 67.1h0M239.3 79.2h0M283.4 74.8h0M246.8 66.5h0M247.2 74.2h0M279.7 72.3h0M323.4 76.7h0M290.5 65.1h0M275.3 66.4h0M247.2 74.6h0M268.6 69.6h0M232.8 71.9h0M234.5 84.5h0M231.6 66.6h0M266.3 72.3h0M301.8 71.1h0M273.7 67.7h0M235.3 68.6h0M264.3 61.4h0M240.7 53.3h0M281.6 78.9h0M250 69h0M234.3 78h0M236.8 70.2h0M224.7 70h0M241.4 74.5h0M239.9 74.9h0M248.1 60.8h0M264 78.4h0M297.7 69h0M280.8 72.8h0M256.9 87.7h0M241.4 70.1h0M229.6 82.3h0" stroke="#787878" stroke-width="1.5" stroke-linecap="square" fill="none" opacity="1"/>
<path d="M47.5 42 L50.9 42.9 L54.4 43.6 L57.8 44.3 L61.3 45 L64.7 45.6 L68.2 46.3 L71.6 47 L75.1 47.7 L78.5 48.4 L82 49.1 L85.4 49.8 L88.8 50.4 L92.3 51.1 L95.7 51.7 L99.2 52.4 L102.6 53.1 L106.1 53.7 L109.5 54.4 L113 55 L116.4 55.7 L119.9 56.4 L123.3 57 L126.7 57.7 L130.2 58.3 L133.6 59 L137.1 59.6 L140.5 60.2 L144 60.9 L147.4 61.5 L150.9 62.1 L154.3 62.8 L157.8 63.4 L161.2 64 L164.6 64.6 L168.1 65.1 L171.5 65.7 L175 66.3 L178.4 66.8 L181.9 67.3 L185.3 67.9 L188.8 68.4 L192.2 68.9 L195.7 69.4 L199.1 69.8 L202.6 70.3 L206 70.7 L209.4 71.1 L212.9 71.6 L216.3 72 L219.8 72.3 L223.2 72.7 L226.7 73.1 L230.1 73.4 L233.6 73.7 L237 74 L240.5 74.3 L243.9 74.6 L247.3 74.9 L250.8 75.1 L254.2 75.3 L257.7 75.6 L261.1 75.7 L264.6 75.9 L268 76.1 L271.5 76.2 L274.9 76.4 L278.4 76.5 L281.8 76.6 L285.2 76.7 L288.7 76.7 L292.1 76.8 L295.6 76.9 L299 76.9 L302.5 76.9 L305.9 77 L309.4 77 L312.8 77 L316.3 77.1 L319.7 77.1" stroke="#0b89ff" stroke-width="2.4" fill="none" stroke-linecap="round" stroke-linejoin="round"/>
<rect x="36.5" y="1.5" width="294" height="91" fill="none" stroke="#404040" stroke-width="1"/>
<path d="M78 92.5v5M121 92.5v5M164.1 92.5v5M207.1 92.5v5M250.2 92.5v5M293.2 92.5v5M36.5 4.8h-5M36.5 26.6h-5M36.5 48.4h-5M36.5 70.2h-5" stroke="#404040" stroke-width="1" fill="none"/>
<text x="78" y="110" text-anchor="middle">2</text>
<text x="121" y="110" text-anchor="middle">3</text>
<text x="164.1" y="110" text-anchor="middle">4</text>
<text x="207.1" y="110" text-anchor="middle">5</text>
<text x="250.2" y="110" text-anchor="middle">6</text>
<text x="293.2" y="110" text-anchor="middle">7</text>
<text x="27.0" y="7.7" text-anchor="end">1.0</text>
<text x="27.0" y="29.5" text-anchor="end">0.5</text>
<text x="27.0" y="51.3" text-anchor="end">0.0</text>
<text x="27.0" y="73.1" text-anchor="end">-0.5</text>
<text x="183" y="129" text-anchor="middle">SubtlexZipf</text>
<text transform="translate(7.4 47) rotate(-90)" text-anchor="middle">I_Zscore</text>
</g>
<g>
<path d="M414.5 38.6V58.9M428.8 35V68.2M443.1 27.6V74.8M457.4 22.7V74.3M471.6 24V78.3M485.9 22.2V79.4M500.2 21.7V80.6M514.5 14.5V83M528.8 11V77M543.1 10V78M557.4 10.5V72.4M571.7 14V67.8M586 15V58.4M600.3 15.2V56" stroke="#7f7f7f" stroke-width="1.6" fill="none"/>
<path d="M614.5 16.4V52.6" stroke="#7f7f7f" stroke-width="1.5" stroke-dasharray="2.2 1.2" fill="none"/>
<path d="M586 8.9V15M600.3 10.5V15" stroke="#7f7f7f" stroke-width="1.5" stroke-dasharray="1 1" fill="none"/>
<path d="M628.8 19.9V49.8" stroke="#7f7f7f" stroke-width="1.5" stroke-dasharray="1.2 2.4" fill="none"/>
<path d="M400.2 40.9h0M414.5 28.5h0M414.5 31.5h0M428.8 28.5h0M428.8 30.4h0M428.8 33h0M443.1 26h0M457.4 21h0M471.6 83.6h0M485.9 18.2h0M500.2 6.5h0M500.2 20h0M500.2 82.2h0M500.2 88.8h0M514.5 11h0M514.5 13h0M514.5 84.5h0M528.8 78.5h0M528.8 80h0M543.1 5.1h0M543.1 80.6h0M557.4 7h0M557.4 76.6h0M571.7 5h0M571.7 9.8h0M571.7 12h0M571.7 71.3h0M586 62h0M586 65h0M586 68.5h0M600.3 7.5h0M600.3 60.3h0M600.3 67h0M614.5 11h0M614.5 61.2h0M614.5 56h0M628.8 8.2h0M643.1 22.7h0M657.4 19.4h0M671.7 30.8h0" stroke="#787878" stroke-width="1.6" stroke-linecap="square" fill="none" opacity="1"/>
<path d="M633.1 24 L671.7 6.3 L671.7 11 L633.1 28Z" fill="#d9d9d9" opacity="0.8"/>
<path d="M400.2 48.6 L403.6 49.1 L407.1 49.5 L410.5 49.9 L413.9 50.4 L417.4 50.8 L420.8 51.3 L424.3 51.7 L427.7 52.2 L431.1 52.6 L434.6 53.1 L438 53.5 L441.4 53.9 L444.9 54.2 L448.3 54.5 L451.8 54.7 L455.2 55 L458.6 55.2 L462.1 55.3 L465.5 55.4 L468.9 55.5 L472.4 55.5 L475.8 55.5 L479.2 55.5 L482.7 55.5 L486.1 55.4 L489.6 55.3 L493 55.1 L496.4 54.9 L499.9 54.7 L503.3 54.4 L506.7 54.1 L510.2 53.8 L513.6 53.4 L517.1 53 L520.5 52.6 L523.9 52.1 L527.4 51.6 L530.8 51.1 L534.2 50.6 L537.7 50 L541.1 49.5 L544.5 48.9 L548 48.3 L551.4 47.6 L554.9 47 L558.3 46.3 L561.7 45.6 L565.2 44.8 L568.6 44 L572 43.2 L575.5 42.4 L578.9 41.5 L582.4 40.6 L585.8 39.7 L589.2 38.8 L592.7 37.8 L596.1 36.8 L599.5 35.8 L603 34.8 L606.4 33.7 L609.8 32.6 L613.3 31.5 L616.7 30.4 L620.2 29.2 L623.6 28.1 L627 26.9 L630.5 25.6 L633.9 24.4 L637.3 23.1 L640.8 21.8 L644.2 20.4 L647.7 19 L651.1 17.6 L654.5 16.2 L658 14.9 L661.4 13.5 L664.8 12.1 L668.3 10.5 L671.7 8.6" stroke="#0b89ff" stroke-width="2.4" fill="none" stroke-linecap="round" stroke-linejoin="round"/>
<rect x="389.5" y="1.5" width="294" height="91" fill="none" stroke="#404040" stroke-width="1"/>
<path d="M457.4 92.5v5M528.8 92.5v5M600.3 92.5v5M671.7 92.5v5M389.5 4.2h-5M389.5 24.7h-5M389.5 45.3h-5M389.5 65.8h-5M389.5 86.4h-5" stroke="#404040" stroke-width="1" fill="none"/>
<text x="457.4" y="110" text-anchor="middle">5</text>
<text x="528.8" y="110" text-anchor="middle">10</text>
<text x="600.3" y="110" text-anchor="middle">15</text>
<text x="671.7" y="110" text-anchor="middle">20</text>
<text x="379.2" y="7.1" text-anchor="end">1.0</text>
<text x="379.2" y="27.6" text-anchor="end">0.5</text>
<text x="379.2" y="48.2" text-anchor="end">0.0</text>
<text x="379.2" y="68.8" text-anchor="end">-0.5</text>
<text x="379.2" y="89.3" text-anchor="end">-1.0</text>
<text x="536" y="129" text-anchor="middle">Length</text>
<text transform="translate(359.5 47) rotate(-90)" text-anchor="middle">I_Zscore</text>
</g>
<g>
<path d="M47.4 173.4V223.4M86.2 166.9V227.6M125.1 163.4V230M164 156V227.4M202.8 159.4V223M241.7 174.7V220.4" stroke="#7f7f7f" stroke-width="1.6" fill="none"/>
<path d="M280.5 199.6V219" stroke="#7f7f7f" stroke-width="1.5" stroke-dasharray="1.3 1.5" fill="none"/>
<path d="M241.7 163.6V174" stroke="#7f7f7f" stroke-width="1.5" stroke-dasharray="1.3 1.5" fill="none"/>
<path d="M280.5 188.5V196" stroke="#7f7f7f" stroke-width="1.5" stroke-dasharray="1.3 0.8" fill="none"/>
<path d="M47.4 169.7h0M86.2 158h0M86.2 163.4h0M86.2 229h0M125.1 150.5h0M125.1 160h0M125.1 232h0M125.1 235h0M164 154h0M202.8 151.6h0M202.8 156.6h0M202.8 226h0M202.8 228h0M202.8 230h0M241.7 160h0M241.7 223h0M241.7 227h0M280.5 178.8h0M280.5 184h0M319.3 207h0M319.3 217h0" stroke="#787878" stroke-width="1.6" stroke-linecap="square" fill="none" opacity="1"/>
<path d="M47.4 202.6 L86.2 201.4 L125.1 199.8 L164 198.3 L202.8 196.9 L241.7 195.5 L280.5 194.3 L319.3 193" stroke="#0b89ff" stroke-width="2.4" fill="none" stroke-linecap="round" stroke-linejoin="round"/>
<rect x="36.5" y="147.5" width="294" height="91" fill="none" stroke="#404040" stroke-width="1"/>
<path d="M47.4 238.5v5M86.2 238.5v5M125.1 238.5v5M164 238.5v5M202.8 238.5v5M241.7 238.5v5M280.5 238.5v5M319.3 238.5v5M36.5 149.4h-5M36.5 170.5h-5M36.5 191.6h-5M36.5 212.7h-5M36.5 233.8h-5" stroke="#404040" stroke-width="1" fill="none"/>
<text x="47.4" y="256" text-anchor="middle">1</text>
<text x="86.2" y="256" text-anchor="middle">2</text>
<text x="125.1" y="256" text-anchor="middle">3</text>
<text x="164" y="256" text-anchor="middle">4</text>
<text x="202.8" y="256" text-anchor="middle">5</text>
<text x="241.7" y="256" text-anchor="middle">6</text>
<text x="280.5" y="256" text-anchor="middle">7</text>
<text x="319.3" y="256" text-anchor="middle">8</text>
<text x="27.0" y="152.3" text-anchor="end">1.0</text>
<text x="27.0" y="173.4" text-anchor="end">0.5</text>
<text x="27.0" y="194.5" text-anchor="end">0.0</text>
<text x="27.0" y="215.6" text-anchor="end">-0.5</text>
<text x="27.0" y="236.7" text-anchor="end">-1.0</text>
<text x="183" y="275" text-anchor="middle">NSyll</text>
<text transform="translate(7.1 193.5) rotate(-90)" text-anchor="middle">I_Zscore</text>
</g>
<g>
<path d="M400.1 166.4V220.4M454.4 163.6V228.8M508.6 158V233M562.9 165V224.6M617.2 176.6V202.4" stroke="#7f7f7f" stroke-width="1.6" fill="none"/>
<path d="M617.2 205V223" stroke="#7f7f7f" stroke-width="1.5" stroke-dasharray="1.5 1.3" fill="none"/>
<path d="M400.1 160h0M400.1 163.6h0M400.1 224h0M454.4 155.8h0M454.4 159.5h0M454.4 231.5h0M454.4 235h0M508.6 150.5h0M508.6 153.9h0M562.9 155.8h0M562.9 226h0M562.9 228h0M562.9 230h0M617.2 228.8h0M617.2 233.5h0M671.5 208h0M671.5 226.8h0" stroke="#787878" stroke-width="1.6" stroke-linecap="square" fill="none" opacity="1"/>
<path d="M400.1 199.1 L452.7 199.3 L454.4 199.9 L509.7 200.2 L511.9 200.8 L569.4 200.9 L571.6 201.7 L626.9 201.8 L629.1 202.5 L671.5 202.5" stroke="#0b89ff" stroke-width="2.4" fill="none" stroke-linecap="round" stroke-linejoin="round"/>
<rect x="389.5" y="147.5" width="294" height="91" fill="none" stroke="#404040" stroke-width="1"/>
<path d="M400.1 238.5v5M454.4 238.5v5M508.6 238.5v5M562.9 238.5v5M617.2 238.5v5M671.5 238.5v5M389.5 168.3h-5M389.5 189.7h-5M389.5 211h-5M389.5 232.4h-5" stroke="#404040" stroke-width="1" fill="none"/>
<text x="400.1" y="256" text-anchor="middle">1</text>
<text x="454.4" y="256" text-anchor="middle">2</text>
<text x="508.6" y="256" text-anchor="middle">3</text>
<text x="562.9" y="256" text-anchor="middle">4</text>
<text x="617.2" y="256" text-anchor="middle">5</text>
<text x="671.5" y="256" text-anchor="middle">6</text>
<text x="379.2" y="171.2" text-anchor="end">0.5</text>
<text x="379.2" y="192.6" text-anchor="end">0.0</text>
<text x="379.2" y="213.9" text-anchor="end">-0.5</text>
<text x="379.2" y="235.3" text-anchor="end">-1.0</text>
<text x="536" y="275" text-anchor="middle">NMorph</text>
<text transform="translate(359.8 193.3) rotate(-90)" text-anchor="middle">I_Zscore</text>
</g>
<g>
<path d="M67.2 331.1V368.5M69.1 330.3V364.4M71.1 332V368.5M73 327.8V364.7M75 328.2V368.7M76.9 329.7V368M78.9 321.6V369.5M80.9 321.5V370.4M82.8 320.2V369.2M84.8 322.3V369.5M86.7 321.3V367.7M88.7 322.3V368.3M90.6 322.7V369.2M92.6 316V369.8M94.6 325.7V370.8M96.5 323.3V371.3M98.5 320.2V366.9M100.4 323.5V373M102.4 322.6V371.5M104.3 322V370.4M106.3 321.5V370.6M108.3 321.5V368.3M110.2 318.8V372.2M112.2 319.5V364.8M114.1 320.7V365.3M116.1 325.4V372.9M118 322V369.6M120 317V370.8M121.9 320V369.5M123.9 320.3V373.3M125.9 321.4V369.1M127.8 313.9V371.8M129.8 317.9V373M131.7 323.9V375.8M133.7 320.2V374.4M135.6 323.7V371.6M137.6 320V373.5M139.6 319V370.1M141.5 317V371.2M143.5 317.3V373.1M145.4 317.9V374.6M147.4 322V367.8M149.3 321.5V369.8M151.3 322.2V371.9M153.3 318.4V372.2M155.2 317.1V371.2M157.2 319.7V369.8M159.1 319.8V367.5M161.1 320.4V366.8M163 320.7V370.8M165 321V368.1M166.9 327.3V368.7M168.9 319.7V367.2M170.9 323.3V367.8M172.8 322.2V366.4M174.8 320.5V367.6M176.7 322.3V367.6M178.7 317.7V368.9M180.6 317V365M182.6 322.4V362.3M184.6 322.5V365.5M186.5 318.3V366.6M188.5 322.6V340.5M188.5 341.8V363.8M190.4 319.2V326.1M190.4 327.5V347.6M190.4 348.9V362.7M192.4 320.5V343.9M192.4 345.4V361.5M192.4 363V363.7M194.3 322V342.2M194.3 343.2V357.3M194.3 359.1V364.5M194.3 366.3V369.9M196.3 323.9V337.5M196.3 340.2V356.1M196.3 359V367.5M198.3 321.5V326.1M198.3 328.2V335.5M198.3 337.6V350.2M198.3 351.2V364M200.2 319.8V323.2M200.2 325.4V331M200.2 332.1V343.3M200.2 344.9V357.3M200.2 359.8V363.5" stroke="#7f7f7f" stroke-width="1.78" fill="none"/>
<path d="M47.6 335V368.7M49.6 335.9V368.4M51.5 333.2V365.2M53.5 336.2V363.8M55.4 332.8V369.6M57.4 333.2V365.9M59.3 331.5V368.7M61.3 332.6V368.8M63.3 332.2V373.1M65.2 330.5V363.5" stroke="#7f7f7f" stroke-width="1.35" fill="none"/>
<path d="M182.8 316.3h0M69.5 314.1h0M171.9 372h0M136.1 316.6h0M126.9 373.8h0M64.8 327.7h0M50.4 369.9h0M169.4 375h0M162.6 309.8h0M75 373.2h0M135.1 310.6h0M82.7 371.4h0M162.2 317.4h0M85.1 371.2h0M82.1 322.9h0M100.2 317h0M118.8 316.4h0M174.8 369.8h0M112.1 317.3h0M84.4 316.1h0M187.4 368.9h0M55.7 334h0M173.2 370.1h0M195.4 308.9h0M65.3 325.3h0M182.1 314.6h0M172.6 318.6h0M124.6 314.2h0M96.3 315h0M115.9 374h0M115.2 377.1h0M117.9 375.3h0M49.8 368.9h0M98.3 371.7h0M101.5 372.1h0M154.5 316.7h0M160.6 317.8h0M168.8 303.5h0M152.1 314.6h0M187.3 370.9h0M140.8 312.1h0M104.2 371.5h0M56.9 332.3h0M164.5 302.1h0M141.1 373.4h0M79.9 370.4h0M134.3 372.5h0M194.1 320.7h0M148 372.9h0M105 314.1h0M176 309.6h0M117.2 318.9h0M50.1 329.9h0M64.5 370h0M196.5 364.4h0M67.5 369.9h0M172.7 305.3h0M54.9 332.3h0M121.9 317h0M101 375.3h0M109.8 316.1h0M118.2 314.8h0M136.6 372.5h0M75 369.9h0M175.5 377h0M184.2 369.6h0M126.2 374.9h0M111.3 376.1h0M52 325.3h0M62.4 370.5h0M115 377.5h0M71 320.4h0M197.9 316.4h0M154 371.8h0M104.4 373h0M145.3 316.5h0M80.3 370.6h0M190.1 307h0M161.3 314.5h0M83.7 318.9h0M129.4 316.5h0M163.6 314h0M116.5 317.9h0M61.8 332.7h0M128.3 315.2h0M178.4 307.3h0M127.2 373.2h0M198.4 363.5h0M141.9 378h0M186.1 378.6h0M54.1 369.1h0M151.9 316.2h0M134.8 375.7h0M111.2 317.3h0M188.3 316.4h0M130.3 312.4h0M104 312.3h0M195.6 303.1h0M173.1 376.4h0M86.6 319.3h0M73.2 324.1h0M52.7 369.8h0M82.5 313.6h0M191.2 366.9h0M184.9 371.7h0M175 370.3h0M119.1 315.6h0M130.7 316.5h0M143.7 313.7h0M176.3 369.5h0M49.1 334.6h0M83.8 321.9h0M144.8 382h0M193.9 366.3h0M57.4 318.9h0M197.2 367.8h0M85.1 374.3h0M121.4 374.9h0M129.4 318.2h0M188 317.7h0M186.7 370.7h0M199.7 317.9h0M112.1 316.4h0M129.5 311.1h0M52.2 331.5h0M115.5 313.9h0M72.5 321.4h0M179.4 369h0M99.9 379.3h0M73.6 372.8h0M52.4 368.8h0M168.2 318.2h0M137.5 372.9h0M137 318.2h0M120.5 319.1h0M196.9 319h0M114.8 317.1h0M129.4 316.5h0M159.3 372h0M191.2 318.6h0M182.5 368.1h0M185.8 317.8h0M83.4 373.6h0M194.1 370.4h0M178.1 377.5h0M107.9 319.9h0M175.3 316h0M195.1 318.1h0M167.2 317.4h0M167 316.3h0M180.5 368.7h0M185.4 369.5h0M172.1 318.4h0M63.3 331.2h0M87.5 320.8h0M73 326.2h0M128.1 310.8h0M61.2 327.7h0M140.7 376.6h0M191.1 308.3h0M198.2 317h0M55.7 334.2h0M158.6 317.4h0M184 368.1h0M54.3 330.8h0M68.7 326.2h0M48.9 368.5h0M155.7 314.3h0M87.6 321.5h0M163.7 371.6h0M194.5 370h0M128.7 310.4h0M129 316h0M200.4 361.8h0M105.5 307.7h0M186.5 318.1h0M164 307.4h0M49.3 332.9h0M102.5 318.5h0M164.9 371.2h0M57.5 373.4h0M183 319.2h0M189.6 318.7h0M169.2 380.2h0M146.2 375.7h0M175.5 381h0M119.4 372.9h0M161.9 308.6h0M128 373.6h0M104.9 319h0M97.9 315h0M124 312.8h0M116 318.5h0M168.3 316.9h0M173 317.5h0M174.3 378.1h0M180.4 370.5h0M112.9 373.6h0M113.2 318h0M180.1 317.8h0M83 320.5h0M161.1 312.3h0M136.7 372.5h0M157 315.2h0M160.6 316.1h0M156.6 372.7h0M92.7 376.8h0M52.7 322.4h0M194.7 320.3h0M134.1 380.1h0M155.2 372.8h0M66.3 369.6h0M126.1 312.7h0M161.3 301.8h0M90 318.5h0M66.4 319.7h0M196.7 371.1h0M181.4 371.9h0M83.1 318.1h0M177.3 308.2h0M176.5 310.1h0M83.5 373.6h0M175.3 318.8h0M115.2 372.6h0M108.5 313.1h0M79.3 374.6h0M145.1 317.6h0M150 307.4h0M134.4 313.6h0M68.1 328.9h0M174.7 369.6h0M105.6 314.7h0M97.8 313.4h0M153.5 378.2h0M83.2 371.8h0M189.7 319.2h0M153.5 374.9h0M174 373.6h0M109.4 312.7h0M122.3 317.6h0M95.3 372.5h0M95.4 319.3h0M173.6 312.6h0M133.5 377.6h0M180.1 370.9h0M70.3 327.6h0M55.4 371.1h0M189.6 368.6h0M138.9 317h0M158 313h0M87.6 320.2h0M198.4 319.4h0M198.8 363.2h0M92.8 320.8h0M75.1 324.9h0M154.2 372.1h0M135 372.6h0M147.8 317.7h0M149.9 313h0M195.3 320h0M171.1 372.7h0M104.4 377.9h0M167.2 318.4h0M125.5 311.4h0M197.5 313.6h0M129.2 379.3h0M49.9 368.6h0M191 315.6h0M99.3 319.6h0M177.7 313.4h0M149 310.6h0M167.5 372.4h0M166.6 302.4h0M188.3 305.4h0M179.6 313.2h0M153.4 371.5h0M107.9 376.9h0M131.3 307.8h0M99.1 319.4h0M109 373.1h0M127.3 377.3h0M121.6 375.1h0M101.8 371.3h0M103.4 320h0M105 372.6h0M84.4 322.2h0M144.3 307.3h0M66.2 326.6h0M95 320.7h0M81.3 322h0M163 316.2h0M99.6 314.9h0M69 327.7h0M177.2 372.9h0M124 313h0M176.1 375.9h0M106.8 315.2h0M110.2 377.5h0M62.9 330.7h0M75.1 322.6h0M189.2 308.8h0M155.2 312h0M88.7 320.5h0M187.5 367.6h0M138.2 378.1h0M120.6 314.7h0M86 370.9h0M81.2 311.4h0M183.7 370.5h0M197.3 364.7h0M120.6 316.2h0M164.4 317.5h0M161.4 377.5h0M131.1 317.5h0M130.7 373.1h0M140.5 374.2h0M110.8 375.7h0M167.3 371.1h0M121.1 316.7h0M133.1 376.3h0M83.3 313h0M197.7 316.6h0M155.6 310.3h0M109.9 371.9h0M199 369.6h0M98.8 308h0M108.1 374h0M154 317.3h0M145.8 316.5h0M163 372.5h0M182.3 317.3h0M51.6 334.2h0M141.8 312.7h0M118.1 375.8h0M159.9 311.3h0M136.8 378.4h0M110.9 316.2h0M48.3 369.2h0M104.9 320h0M124.7 318.7h0M115.2 315.1h0M155 309.1h0M181.4 377.2h0M112.5 372.3h0M123.8 375.1h0M123.2 301.5h0M188.3 319.2h0M147.7 378.3h0M197 368.9h0M48.8 331.7h0M85.4 309.4h0M187.5 317.2h0M57.5 333.4h0M182.5 318h0M151.4 308.8h0M159.9 316.6h0M116.4 377.5h0M116.5 378h0M78.6 375.4h0M76.1 321.9h0M150.4 372.6h0M109.8 313.4h0M53.4 334.3h0M81.5 370.9h0M85.1 319.6h0M189.4 366.5h0M144.4 373.7h0M69.1 372.7h0M160.8 317.5h0M183.6 372.7h0M200.7 307.2h0M162.7 371.5h0M148.5 314.1h0M196.6 319.8h0M73.6 324.9h0M174 308.1h0M163.4 373.9h0M164.3 375.3h0M111.2 377.1h0M64.4 330.3h0M75.7 324.4h0M158.7 373.6h0M104.8 313.6h0M72.2 370.4h0M176.5 316.7h0M129.5 317.4h0M101.2 319.4h0M95.7 379.5h0M111.9 319h0M113.1 378.9h0M90.6 320.7h0M89.2 316.1h0M197.9 364.4h0M121.7 318.8h0M150.2 313.2h0M161.6 312.8h0M107.3 374.7h0M192.3 313h0M101.8 320h0M84.5 311.9h0M58 331.9h0M97 317.9h0M61 371h0M151.5 315.6h0M144 372.6h0M52.2 334.3h0M194.9 368.8h0M165.5 379.1h0M193.1 371.4h0M137.7 315.2h0M82.2 372h0M172.4 309.7h0M195.7 313.8h0M60.2 373.3h0M133.8 313.1h0M90.6 372.1h0M188.3 366.6h0M67.6 329h0M175.5 318.1h0M87.1 320h0M153.8 306.3h0M160.8 377.7h0M59 333.2h0M130.5 316.3h0M73.7 374.4h0M73.7 326.8h0M79.2 323.1h0M77.8 370.2h0M192.4 320.2h0M130.6 316.3h0M59.4 333.6h0M90 320.6h0M151.2 316.1h0M160.7 380.8h0M149.3 312.7h0M200 366.5h0M199 310.7h0M179.8 315.7h0M128 373.5h0M169.9 317.6h0M94.8 318.3h0M183.8 312.8h0M94 305.6h0M199.3 319.8h0M50.8 333.9h0M132.6 318.6h0M177.4 312.9h0M179.7 368.8h0M163 318.1h0M152.9 315.7h0M194.2 320.1h0M71.3 320.7h0M191.1 369.5h0M162.4 314h0M157.1 373.8h0M137.1 318.5h0M197.9 321h0M131.9 310.4h0M190.7 314.1h0M50 368.8h0M143.3 316.5h0M160 372.4h0M118 375.3h0M64.7 326.1h0M173.8 309.2h0M168.3 315.3h0M115.6 382.7h0M67.7 320.5h0M180.4 309.8h0M171.1 317.9h0M180 312.6h0M177.9 316.5h0M96.5 373.2h0M150.6 317.1h0M119.7 312.3h0M128.2 373h0M113.7 318.1h0M152 381.5h0M151.9 376.2h0M120 374.2h0M153.3 317.4h0M155.9 371.5h0M167.4 371.7h0M81 370.6h0M154.9 315.7h0M120.5 317.7h0M185.7 376.6h0M149.6 303.9h0M177 379.9h0M176.7 369.7h0M88.2 371.2h0M63.6 369.5h0M169.1 304.5h0M59.2 369.9h0M194.6 312.5h0M159.6 371.5h0M157.4 315.9h0M74.4 318.8h0M152.4 379.7h0M190.5 378.5h0M47.1 368.3h0M193.1 320.1h0M104.3 317.9h0M117.8 374h0M194 302.5h0M174.9 371.7h0M198.9 363.5h0M54.9 321.1h0M155.9 375.2h0M134.8 318.3h0M51.6 334.1h0M106.5 319h0M129.1 314.9h0M63.6 331.4h0M153.4 372.9h0M182.1 371.2h0M188.8 367.4h0M76.9 371.3h0M199.8 319.8h0M62.9 329h0M161.6 315.1h0M100.4 376.4h0M189.6 317.8h0M187.5 313.1h0M58.4 332.2h0M147.8 315.4h0M122 318.3h0M69.4 326.5h0M120 313h0M166.2 317.1h0M144.8 373.6h0M146.4 378.8h0M99.6 372.9h0M134.5 316.7h0M125.2 375.7h0M189.3 379.1h0M186.1 302.9h0M123.5 314.7h0M134.1 373.6h0M101.6 305.2h0M143 307.8h0M73.5 372.5h0M197.1 372.2h0M120.6 372.9h0M49.4 324.9h0M102.3 318.9h0M194.2 314.2h0M104.2 308.1h0M116.8 313.8h0M173 377.2h0M112.3 318.4h0M81 322.5h0M114.4 372.3h0M187.4 309.1h0M138.4 307.4h0M199.9 310h0M184.2 368.8h0M119.3 318.7h0M116.2 317.6h0M139.9 311.3h0M158.2 301.2h0M181.6 314.4h0M178 305.4h0M104.4 319h0" stroke="#787878" stroke-width="1.5" stroke-linecap="square" fill="none" opacity="1"/>
<path d="M65.1 363.8h0M105 364.9h0M76 347.8h0M117.4 320.9h0M117.7 323.5h0M190 322.1h0M108.2 320.4h0M182.3 322.2h0M54.4 368.7h0M100.6 371.7h0M157.7 319.6h0M115.9 345.8h0M60 333.6h0M102.2 323.4h0M132.1 326.2h0M193.3 343h0M84.1 363.8h0M61.6 368.4h0M163.2 319.4h0M141.5 368.3h0M101.1 320.8h0M107.5 324.8h0M97.9 321.5h0M148.8 356.6h0M179.6 361.7h0M93.6 333.3h0M186.3 367.2h0M111.6 323.8h0M122.7 369.9h0M87 363.3h0M61.2 344h0M78.6 328.6h0M86.1 367.8h0M114.5 365.4h0M123.1 365.7h0M176.4 367.3h0M102.7 324.7h0M164.4 325.2h0M86.6 367.9h0M120.7 320.4h0M59.6 337.7h0M183.6 359.2h0M101.6 322.2h0M145.4 362.6h0M133.4 372.5h0M122.2 327.4h0M84.3 325.9h0M173.3 369.9h0M119.8 368.7h0M68 330.9h0M63.2 333.7h0M124.6 320.8h0M133.9 361.6h0M90 326.4h0M83.7 323.9h0M174.2 367.4h0M152 367.3h0M69.8 359.4h0M170.8 369.9h0M56.7 367.4h0M176.1 327.6h0M175.2 368.3h0M66.8 369.7h0M198.6 325h0M184.9 328.1h0M75.2 333.2h0M147.3 365h0M118.6 323.5h0M70 333.2h0M79.4 367h0M79.3 363.4h0M150.1 322h0M134.9 334.6h0M195.5 364.2h0M94.5 321.3h0M121.1 322.5h0M104.5 371h0M106.1 330.4h0M136.7 324.6h0M167.4 369.9h0M151.9 367.8h0M65.5 363.2h0M89.9 321.2h0M143.2 365.8h0M163.8 323.5h0M179.9 320.2h0M102.9 320.3h0M117.7 323.4h0M55.3 340.3h0M126.9 328.5h0M94.3 322.4h0M128 366.5h0M139.3 320h0M74 367.9h0M59.5 343.2h0M156.4 319.5h0M157.8 319.1h0M198.1 355.1h0M124.6 323.2h0M58.2 369h0M59.7 365.1h0M195.5 363.9h0M159.7 362.2h0M73.1 328.8h0M112.3 372.2h0M77.7 356.4h0M166 358h0M159.2 370.2h0M188.9 321.3h0M147.9 366.1h0M109.5 357.5h0M186.6 366.7h0M106.3 320.3h0M159.9 365.6h0M81.4 323.1h0M90.1 346.2h0M140 358h0M92.7 370.9h0M178.7 323.7h0M126.5 322.9h0M189.1 359.4h0M139.4 345.3h0M135.6 326.7h0M125 323.5h0M77.5 358.4h0M101.3 371.1h0M184.2 320.7h0M151 325.7h0M165.1 369.3h0M111.2 319.5h0M78.8 324.5h0M168.9 321.4h0M111.5 319.5h0M166.3 331.4h0M58.3 342.7h0M101.5 322.3h0M146.8 371.2h0M189.5 327.6h0M78.5 324.8h0M197.3 351.9h0M150.6 321.9h0M78.4 360.2h0M50.3 337.3h0M189.1 366.2h0M150.7 324.6h0M157.8 368h0M110.8 370.3h0M61.3 369.6h0M120.7 318.9h0M145.8 369.6h0M90.2 366.4h0M193.8 361.9h0M165.6 367.7h0M50.8 340.4h0M92.8 369.6h0M184.9 321.5h0M161.6 370.1h0M170 330.5h0M76.6 327h0M181.9 336h0M148.1 368.3h0M109.5 320.9h0M151.8 333.5h0M85.2 321.7h0M184.5 325.6h0M60 333.2h0M88.7 329.4h0M157.2 328.2h0M111.6 319.4h0M182.3 320.5h0" stroke="#fff" stroke-width="1.0" stroke-linecap="square" fill="none" opacity="0.85"/>
<path d="M202.2 337.9V343M202.2 327.9V331.7M204.1 336.1V339.5M204.1 333.5V335.3M204.1 334.8V339.6M206.1 347.9V351.7M206.1 336.3V340M206.1 332.4V337.3M206.1 329.7V334.1M208 356.4V359.6M208 353.7V358.5M208 332.3V334.4M208 361.1V362.5M210 319.9V321.4M210 347.8V350.6M211.9 312.1V314.4M211.9 350.4V353.3M211.9 345.5V349.2M211.9 339.7V341.8M213.9 347.5V350.9M213.9 342.9V345.2M213.9 334.6V335.9M213.9 343.6V345.7M215.9 333.7V336M215.9 339.4V340.8M215.9 325.4V327M215.9 341.5V342.6M217.8 338.6V340.6M217.8 349V350.3M219.8 348.7V350.3M219.8 336.9V337.9M219.8 352.9V354.8M219.8 351.8V353.8M219.8 339V340.8M221.7 338V339.3M221.7 350.1V351.5M221.7 351V351.7M221.7 354.2V355.4M223.7 352.7V354.6M223.7 350.6V351.6M225.6 326.3V327.9M225.6 346.5V348.1M225.6 340.4V341.9M227.6 374.3V374.8M227.6 341.6V343M229.6 328.3V329.7M229.6 338.6V339.8M231.5 351.6V352.3M231.5 346.7V348.2M233.5 330.1V330.9M233.5 351.6V353M233.5 336.3V336.8M233.5 338.4V338.7M233.5 331.1V332M235.4 337.8V338.8M235.4 354.5V355.2" stroke="#7f7f7f" stroke-width="1.3" fill="none"/>
<path d="M201.5 342.7h0M242.1 338h0M213 366.3h0M215.4 350.7h0M236.4 320.4h0M296.2 344.2h0M210.8 362.8h0M314 342.3h0M216.5 357.2h0M252.9 340.6h0M206.9 352.4h0M261.9 330.6h0M303.4 346.9h0M230.5 322.6h0M233.5 358.5h0M242.9 321.6h0M225.1 312h0M255.6 347.2h0M202.8 339.3h0M234.4 342.7h0M225.3 347.3h0M200.4 341.6h0M201.9 328.4h0M218 344.6h0M217.8 346.6h0M214.6 348.8h0M202.1 372.3h0M223.9 331.2h0M224.7 342.4h0M208.4 350.1h0M255.6 335.8h0M201.9 323.7h0M281.3 335.7h0M254.6 353.5h0M239.1 337.6h0M201 351.4h0M297.9 334.4h0M233.9 347.2h0M217.6 331.9h0M207.1 329.2h0M304.1 341.4h0M216.7 342.4h0M202.7 364.4h0M236.8 319.7h0M263.4 346.6h0M214.7 365h0M220.8 360.8h0M252.4 336.4h0M213.3 331.7h0M215 334.5h0M200.3 346.6h0M209 344.6h0M247.7 345.3h0M277.4 346.8h0M285.5 331.2h0M211.1 325.1h0M204.7 323.4h0M215.3 322.2h0M210.1 340.3h0M212.9 346.3h0M225.5 376.5h0M203.9 350h0M207.6 342.1h0M231.2 360.5h0M232 331.4h0M231.6 345.8h0M202.6 356.8h0M224.9 352.4h0M249.9 345.9h0M216.1 336.6h0M205.8 323.2h0M212.9 339.5h0M252.3 333.9h0M247.9 349.5h0M206 339.8h0M208.3 350.2h0M226.3 319.2h0M256.9 352.2h0M262.9 331.6h0M217 319.2h0M211.3 321.5h0M223.6 332.7h0M282.1 351.4h0M226.2 351.2h0M207.8 324.3h0M273.8 341.9h0M249.6 339.7h0M228.3 319.9h0M238.7 328.1h0M216.3 312.3h0M226.3 329.4h0M203.7 301.7h0M256 331.8h0M228.3 328.5h0M210 330h0M264.5 332.1h0M259.7 354h0M255.6 336.9h0M224.6 344.8h0M237.1 351.1h0M206 355.4h0M212.5 351.7h0M206.2 333.6h0M240.9 326.9h0M212.5 330.3h0M225.2 334.9h0M215.2 341.7h0M225.6 340.2h0M210.6 357.9h0M210 340.2h0M205.2 368.9h0M222.5 355.9h0M233.4 334.8h0M202.3 355h0M248 305.5h0M267.1 355.6h0M208.1 347.9h0M215.3 347.4h0M206.2 316.6h0M251.6 371.3h0M281.2 338.6h0M226 339.4h0M199.5 359.3h0M264.6 338.9h0M200.5 329h0M230.3 350.2h0M227.2 327.4h0M217.3 352.2h0M214 343.7h0M207.8 358.6h0M212.6 324h0M245.3 356.7h0M229.6 345.3h0M213.7 370.4h0M206.9 332.1h0M205.8 369.7h0M212.3 352h0M235.7 351.6h0M232.2 331.5h0M225 349.1h0M212.5 351.5h0M210.2 329.5h0M218.1 325.1h0M235.3 330.9h0M202.3 364.2h0M204.3 344.3h0M222.6 354.6h0M203 346.3h0M243.6 342.5h0M247.9 343.7h0M212.5 335.7h0M235 357.4h0M205 344.5h0M203.7 345.3h0M222.3 322.1h0M263.8 344.4h0M246.2 332.6h0M229.9 334.5h0M224.3 355.8h0M205.5 325.5h0M223.1 338.7h0M216 350.7h0M232.2 356.7h0M202.9 334.1h0M214.6 346.3h0M200.4 346.4h0M248.1 327.1h0M199.9 309.2h0M290.9 323.9h0M253.3 348.1h0M212.2 343.2h0M225.3 322.9h0M290.6 335.2h0M231.5 335.9h0M270 337.3h0M235.3 340.8h0M228.5 371.4h0M217.1 330.4h0M207.4 344h0M216.8 330.6h0M219.6 332.6h0M232.8 329.4h0M229 338.2h0M239.1 333.9h0M219.8 346.5h0M223 344.4h0M222.1 329h0M211.4 369.8h0M211.1 324.6h0M202.1 347.3h0M202.4 374.9h0M224.1 331.5h0M200.3 362.3h0M222.5 361.3h0M201.9 347.1h0M205.6 314.1h0M219 361.7h0M217.7 342.9h0M234.8 333.9h0M225 359.1h0M209.7 331.1h0M215.3 357h0M236 333.9h0M219.6 349.1h0M243.5 327.3h0M207 335.9h0M207.5 328.2h0M202.9 331.1h0M241.8 343.4h0M265.6 339.2h0M211.4 344.5h0M209.5 360.7h0M203.6 340.2h0M247.2 318h0M214 337.5h0M224 342.5h0M221 355.8h0M201.3 357.7h0M199.9 356.5h0M261.8 338.5h0M250.7 348.8h0M244.6 322.8h0M215.7 360.2h0M207 348.4h0M219.4 348.7h0M205.7 336.2h0M225.7 342.2h0M216.1 332h0M211.8 350h0M225.1 323h0M214.5 355.7h0M205.2 350h0M207.1 372h0M217.3 341h0M213.6 340.3h0M237.2 343.7h0M223.5 342h0M226 339.9h0M202.6 325.2h0M215 325.7h0M202.4 333.3h0M209.9 337.5h0M230.8 325.3h0M209 324.6h0M212.4 337.6h0M222.9 351.8h0M211.9 338.9h0M247.7 349.4h0M210.5 356h0M214.9 352.7h0M256.7 336.1h0M222.3 335.8h0M216.3 314.9h0M278.2 334.5h0M225 347.9h0M256.8 328.5h0M233.4 359.3h0M235 360.2h0M259.3 336.8h0M231.4 353.7h0M213.3 321.1h0M217.7 326.6h0M219.4 336.3h0M253.3 341.1h0M245.6 338.7h0M225.2 329.5h0M221.1 369.2h0M224.9 345.4h0M250.5 344.5h0M281.8 347.3h0M226.6 343.8h0M206.2 338.4h0M203.5 333.5h0M205.9 317.4h0M282.7 354.7h0M203.5 328h0M213 317.5h0M222.4 330.2h0M207.4 318h0M222.9 369.3h0M231.1 346.2h0M227.1 360.7h0M248.8 358.8h0M285 346.1h0M199.6 350.8h0M288.2 334.4h0M248.6 340h0M209.1 332.9h0M254.9 341.5h0M227.9 331.8h0M205.8 360.8h0M212.5 352.8h0M202.8 340.3h0M239.1 319.4h0M215.8 351.5h0M261.6 350.8h0M216.4 340.6h0M215.2 323.5h0M205.7 348.3h0M279 350.9h0M215.2 314h0M257.9 347.5h0M263.3 321.2h0M229.9 342.4h0M223.7 365.7h0M214.4 343h0M221.1 348.3h0M233.9 336.9h0M241.2 341h0M258.2 367.7h0M243.3 358h0M222.4 337.1h0M207.1 336.2h0M208.8 342.1h0M215.7 373.2h0M239.3 343.8h0M247.9 354.7h0M210.3 336.4h0M213.3 323.2h0M199.7 362.2h0M199.6 340.8h0M233.1 330.8h0M207.5 331.5h0M207.1 331.9h0M204.9 332.8h0M220.7 319.9h0M201.1 360.3h0M305.1 343.5h0M217.1 355.5h0M255 337h0M205.3 347.1h0M219.2 343.9h0M250.9 355.1h0M198.7 354.4h0M202.9 347.3h0M229.2 332.5h0M289.9 330.3h0M222.3 330.3h0M206.1 332.4h0M220.4 333.9h0M200.5 323.1h0M242.6 362.2h0M223.4 345.2h0M221.4 313.3h0M207 325.6h0M243 324h0M199.2 345.6h0M237.3 355.1h0M208.4 327.2h0M202.2 351.3h0M208 337.7h0M231.1 356.7h0M252 357.2h0M234 345.3h0M219.6 351.7h0M217.6 341.5h0M227.6 336.3h0M210.2 324.7h0M209.5 346.6h0M226.5 340.4h0M233.3 336.1h0M199.1 340.8h0M220.7 338.9h0M213.3 326.7h0M221 334.1h0M268.4 352.8h0M291.8 338.7h0M232.3 359.8h0M259 328.1h0M246.9 324.3h0M198.9 343.9h0M227.1 351.9h0M199.3 332h0M216.5 350.5h0M213.8 355.1h0M254.2 353.5h0M215.1 340.1h0M201.1 341.2h0M214.7 318h0M207.1 342.2h0M203.1 346.1h0M238.1 359.4h0M216.9 323.6h0M263.3 331.8h0M224.6 327.7h0M276.4 349.6h0M208.8 304.7h0M209.8 326h0M209.8 371.9h0M220 350.7h0M261 326.4h0M229 340.5h0M202.9 354.6h0M225.1 349h0M199.2 338.6h0M216.8 330.4h0M209.5 353.9h0M273.1 340.9h0M233.1 351.9h0M253.3 345.7h0M220.3 335h0M245.2 358.9h0M212 334.5h0M229.1 347.1h0M224.7 332.8h0M224.6 338.3h0M221.1 338h0M205.6 332.1h0M233.4 344.4h0M218.3 360h0M211.1 368.7h0M222.4 361.3h0M239.7 338.9h0M222.7 361.6h0M217.4 347.5h0M247.9 362.9h0M202.3 323h0M236.7 360.4h0M212.5 333.1h0M220.1 357.7h0M221.7 335h0M282.4 349.3h0M198.7 337.7h0M240.8 317.1h0M232.9 328.5h0M225.1 338.1h0M211.9 342.1h0" stroke="#787878" stroke-width="1.5" stroke-linecap="square" fill="none" opacity="1"/>
<path d="M290 339.6 L319 336.6 L319 339.8 L290 341.4Z" fill="#d9d9d9" opacity="0.8"/>
<path d="M47.6 353.9 L86.7 351.7 L125.9 349.5 L165 347.2 L204.1 345 L243.2 342.8 L282.4 340.6 L318.8 338.2" stroke="#0b89ff" stroke-width="2.4" fill="none" stroke-linecap="round" stroke-linejoin="round"/>
<rect x="36.5" y="297.5" width="294" height="91" fill="none" stroke="#404040" stroke-width="1"/>
<path d="M47.6 388.5v5M86.7 388.5v5M125.9 388.5v5M165 388.5v5M204.1 388.5v5M243.2 388.5v5M282.4 388.5v5M321.5 388.5v5M36.5 317.9h-5M36.5 340h-5M36.5 362.1h-5M36.5 384.2h-5" stroke="#404040" stroke-width="1" fill="none"/>
<text x="47.6" y="406" text-anchor="middle">1</text>
<text x="86.7" y="406" text-anchor="middle">2</text>
<text x="125.9" y="406" text-anchor="middle">3</text>
<text x="165" y="406" text-anchor="middle">4</text>
<text x="204.1" y="406" text-anchor="middle">5</text>
<text x="243.2" y="406" text-anchor="middle">6</text>
<text x="282.4" y="406" text-anchor="middle">7</text>
<text x="321.5" y="406" text-anchor="middle">8</text>
<text x="27.0" y="320.8" text-anchor="end">0.5</text>
<text x="27.0" y="342.9" text-anchor="end">0.0</text>
<text x="27.0" y="365" text-anchor="end">-0.5</text>
<text x="27.0" y="387.1" text-anchor="end">-1.0</text>
<text x="183" y="425" text-anchor="middle">OLD</text>
<text transform="translate(7.6 343) rotate(-90)" text-anchor="middle">I_Zscore</text>
</g>
<g>
<path d="M400.4 324.2V366.7" stroke="#7f7f7f" stroke-width="1.6" fill="none"/>
<path d="M400 326.9 L401 328.9 L402 329.9 L403 330.9 L404 331.8 L405 330 L406 328.7 L407 332 L408 330.9 L409 333.1 L410 330.5 L411 332.7 L412 329.9 L413 332 L414 331.7 L415 332.3 L416 329.4 L417 330.4 L418 328.6 L419 329.5 L420 330.4 L421 334.3 L422 328.5 L423 329.3 L424 328.4 L425 330.5 L426 329.5 L427 330.8 L428 329.8 L429 333.7 L430 332.1 L431 326.7 L432 330.5 L433 330.2 L434 326.2 L435 328.7 L436 329.5 L437 329.1 L438 330.7 L439 327.3 L440 332 L441 332.1 L442 331.4 L443 330.3 L444 330.9 L445 330.2 L446 333 L447 331.8 L448 334.4 L449 330.1 L450 333.3 L451 329.6 L452 330.2 L453 328.6 L454 331.4 L455 330.2 L456 331.4 L457 332.9 L458 330 L459 330.8 L460 331.6 L461 329.8 L462 328.7 L463 330.2 L464 330.3 L465 330.7 L466 330.7 L467 327.8 L468 329.7 L469 331 L470 327.7 L471 329.1 L472 327.2 L473 328.5 L474 331.1 L475 328.4 L476 326.5 L477 329 L478 328.8 L479 330.6 L480 326.2 L481 327.1 L482 328.8 L483 326.2 L484 331.2 L485 325.6 L486 327.9 L487 326.8 L488 328.4 L489 331.2 L490 330.9 L491 331.6 L492 331.2 L493 326.5 L494 330.9 L495 327.1 L496 329.6 L497 330 L498 329.8 L499 331.8 L500 329.6 L501 334.5 L502 332.9 L503 334.3 L504 334 L505 334.6 L506 333.3 L507 337.4 L508 332.3 L509 335.4 L510 335 L511 335.2 L512 336.8 L513 335.5 L514 339.1 L515 339.6 L516 338.9 L517 340.7 L518 338.1 L519 337.6 L520 340.6 L521 342.1 L522 347.8 L523 343.8 L524 346.9 L525 347 L526 349.8 L527 346.7 L528 348.2 L529 347.2 L530 346.5 L531 346.3 L532 346.7 L533 350.8 L534 348.8 L535 348.1 L536 348.4 L537 347.4 L538 348.5 L539 348.4 L540 349.7 L541 350.2 L542 345.6 L543 348.9 L544 351 L545 346.7 L546 348.1 L546 348.6 L545 348.5 L544 351.5 L543 352.4 L542 349.4 L541 353.1 L540 350.2 L539 349.4 L538 351.9 L537 351.1 L536 351.6 L535 350 L534 349.6 L533 351.3 L532 351.9 L531 349.7 L530 350.5 L529 350.6 L528 350.6 L527 352.1 L526 350.3 L525 353.3 L524 353.6 L523 353 L522 353.5 L521 357.5 L520 355.6 L519 356.5 L518 361.7 L517 359.8 L516 361.7 L515 359.9 L514 363.4 L513 361.6 L512 363.3 L511 362.2 L510 362.3 L509 364.1 L508 362.5 L507 362.7 L506 366.1 L505 366 L504 366 L503 363.4 L502 366.2 L501 368.2 L500 366.7 L499 367.8 L498 368.7 L497 368.7 L496 365.8 L495 366.7 L494 368.9 L493 369.3 L492 369 L491 368.3 L490 370.3 L489 367.9 L488 367.1 L487 370.6 L486 366.3 L485 370.6 L484 370.5 L483 368.3 L482 369.7 L481 369 L480 369.4 L479 367.6 L478 371.6 L477 368.9 L476 367.7 L475 363.6 L474 369.7 L473 370 L472 363.6 L471 372.2 L470 371.4 L469 370.8 L468 365.5 L467 369.3 L466 367.4 L465 369.5 L464 364 L463 368.7 L462 368.1 L461 371.7 L460 367.1 L459 369.8 L458 369.9 L457 366.8 L456 369.5 L455 369.2 L454 365.7 L453 366.4 L452 369.3 L451 365.8 L450 367.6 L449 369 L448 365.6 L447 368.8 L446 368.4 L445 366.9 L444 366.7 L443 365.1 L442 367.7 L441 369.1 L440 366.2 L439 368.7 L438 368.5 L437 368.7 L436 367.4 L435 368.9 L434 366.3 L433 368.1 L432 364.1 L431 366.3 L430 367.5 L429 366.2 L428 365 L427 363.2 L426 367.9 L425 368.8 L424 364.5 L423 366 L422 366.5 L421 365.4 L420 366.4 L419 364.3 L418 363.5 L417 367.4 L416 366.1 L415 367.6 L414 365.1 L413 365.4 L412 363.8 L411 363.9 L410 362.6 L409 362 L408 364.6 L407 367.1 L406 364.3 L405 365.4 L404 364.3 L403 362.9 L402 364.3 L401 365.1 L400 363.3Z" fill="#7f7f7f" stroke="none"/>
<path d="M518.7 338.6h0M431.2 328.9h0M468.2 319.8h0M545.3 348.1h0M439.8 325.3h0M426.7 327.1h0M447.3 329.3h0M483.2 327.2h0M532 346.6h0M405.9 331.1h0M482 327.5h0M403.5 329.8h0M544.6 346.8h0M473.1 328.8h0M503.4 330.2h0M444.6 325.5h0M475.2 321.5h0M523.3 344h0M421.7 327.9h0M437.8 326.8h0M451.9 326.7h0M523.5 344.6h0M532.4 346.2h0M513.4 333.7h0M441.9 326.7h0M454.4 327.1h0M511 331.3h0M472.1 319.7h0M458.2 323.2h0M546.2 348.3h0M443.8 324.8h0M516.9 338.6h0M430.6 330.6h0M533.4 341.1h0M449 323.9h0M534.5 348.2h0M507.8 328.8h0M529.1 347.6h0M497.5 322.9h0M420.2 327h0M465.4 326.2h0M543.4 342.1h0M423 326.7h0M482.7 325.3h0M481.1 328.8h0M471.2 327.9h0M447.8 327.9h0M452.7 323.9h0M435.8 328.7h0M445.3 331.8h0M407.8 331.2h0M513.3 333.8h0M530.9 348.3h0M438.3 330.4h0M412.1 331.2h0M464.4 322.5h0M420.7 326.8h0M469.3 328.5h0M443.9 328.1h0M488.7 325.8h0M511.7 332.1h0M528.7 340.5h0M508.2 330.7h0M524.3 345.4h0M545.8 345.9h0M465.8 324.9h0M427.6 326.4h0M430 329.5h0M473.6 327.1h0M504.8 328.9h0M524.4 338.1h0M430 329.9h0M480.8 322.5h0M416.3 329.3h0M487.5 325.1h0M528.2 339.4h0M458.3 330.4h0M503 327h0M495.7 325.1h0M500.7 328.8h0M432.4 329.2h0M480.2 324.5h0M411.5 329.1h0M466.7 326.6h0M410.9 329.5h0M541.3 343.6h0M458.1 324.3h0M443 323.6h0M531.6 337.2h0M470.4 329.2h0M479.7 320.1h0M528.2 337.8h0M481.1 318.4h0M465.3 322.9h0M512.3 327.9h0M451 322.4h0M427 328.8h0M508.6 334.6h0M478.3 324.3h0M545.8 343h0M483.6 325.5h0M530.5 344.1h0M408.8 327.1h0M403.6 329.2h0M458.7 323.8h0M523.9 340.2h0M474.8 324.3h0M492.8 327.1h0M460.7 323.8h0M458.1 330.1h0M456 328.7h0M448.9 330.9h0M406.7 328.8h0M503.3 330.1h0M452.6 323.5h0M533.9 346.2h0M489.7 321.7h0M428.2 327.9h0M450 323.2h0M432.4 323.5h0M514.2 336.2h0M444.1 328.1h0M485.6 329.6h0M469.5 323.8h0M461.1 325.2h0M528.3 343.5h0M480.4 325.9h0M453.5 327.8h0M430.4 324.2h0M451.1 330.1h0M433.2 324.3h0M500.9 326.4h0M512.5 334.1h0M491.5 320.8h0M508.2 330.5h0M512.7 333.7h0M488.1 326.1h0M433.2 328.7h0M497.3 327.4h0M405.1 331.9h0M475.3 323.3h0M429.3 327.9h0M506.2 329h0M500.6 327.5h0M456.2 321.5h0M490 324.2h0M508.3 334.9h0M479.6 328.6h0M444 328.4h0M421.8 325.3h0M529 343.8h0M418.5 325.9h0M435.3 323.2h0M517.4 339.7h0M410.3 328.9h0M425.6 327.5h0M462.2 327.6h0M427.2 321h0M408.3 332h0M516.8 338.7h0M430.9 327.2h0M534.1 341.8h0M409.8 326h0M447 323h0M487.9 321.2h0M419.6 324.2h0M475.6 325.2h0M476.7 326.8h0M492 322.9h0M535.4 342.1h0M467.3 323.5h0M532.8 341.2h0M438.3 323.7h0M499.3 327.5h0M470.4 327.4h0M517.2 340.1h0M481.1 327.7h0M527.2 340.8h0M427.6 327.4h0M446.1 330.5h0M483.5 329h0M497.1 331.2h0M463.2 325.8h0M519.9 336.6h0M462.7 320.9h0M536 341.9h0M535.7 348h0M408.9 331.3h0M498.2 322.1h0M526.5 344.8h0M410.4 329.4h0M512.4 330h0M488.9 325.2h0M481.3 329.3h0M447.3 328.5h0M511.2 332.4h0M437.9 327.6h0M431.9 330.1h0M458.7 321.7h0M545.3 346.4h0M467.2 323.9h0M426.5 323.3h0M466.1 328.1h0M514.5 338.7h0M494.7 326.3h0M508.5 327.1h0M522.8 335.5h0M450.1 324.1h0M458.1 329.6h0M527.1 337.4h0M462.9 329.9h0M480.4 327.2h0M523.9 337.3h0M495.7 330.7h0M532.9 341.1h0M402.9 327.6h0M493.7 322.5h0M480.1 320.9h0M467 323.4h0M450.5 330.3h0M462.8 329.6h0M521.6 343.5h0M474.8 326.3h0M437.7 329.3h0M504.6 324h0M521.9 335.4h0M466.5 329.1h0M423.6 325.6h0M513.2 330.6h0M504.7 331h0M505.3 329.9h0M402.9 326.9h0M423.1 320.4h0M541.3 348.2h0M484.6 322.4h0M444.5 328.8h0M409.9 332.2h0M475.5 326.4h0M454.9 323.4h0M427.9 328.7h0M497.1 330.3h0M431.5 322.6h0M538.1 346h0M440.2 323.9h0M531.4 346.4h0M459.1 330.5h0M450.2 323.6h0M513.6 336h0M478.9 319.2h0M425.7 324.3h0M524.8 337.5h0M484.6 327.6h0M486.9 324h0M462.6 323.1h0M522.8 338.6h0M493.5 322.2h0M415.5 326.1h0M529.9 343.2h0M486.8 320.7h0M447.2 326.4h0M408.3 326.6h0M409.2 331.6h0M422.8 326.7h0M444 330.8h0M481.9 329.5h0M439.3 326.7h0M518.9 331.1h0M482.4 324.2h0M469.9 318.6h0M469.7 321.3h0M442.4 327.2h0M482.6 326.6h0M440.5 330.2h0M455.5 322.3h0M480 319.4h0M496.8 323.1h0M454.6 328.9h0M508.9 329.2h0M460.2 326.8h0M533.7 340.7h0M427.2 325.6h0M488.8 330.4h0M459 329h0M473.3 326.7h0M422 327h0M457.2 328.6h0M432.8 330.8h0M503.1 329.2h0M517.3 330.6h0M518.4 335.5h0M533.4 347.2h0M462.8 320.6h0M496.6 323.5h0M538.5 341.3h0M477.7 328.3h0M481.2 323.2h0M499.7 329.5h0M406.3 327.8h0M525.6 343.5h0M468.3 327.8h0M513.9 328.5h0M424.7 321.9h0M477.1 323.2h0M487.3 326.5h0M515.6 334.9h0M490.9 325.3h0M494.6 328h0M535.5 345.8h0M446.9 330h0M472 323.4h0M530.1 346.2h0M473.3 325.4h0M491.4 328.6h0M478.9 319.7h0M541.9 345.8h0M503.3 332h0M516.2 338.7h0M406.2 328h0M465.3 320.7h0M513.4 336.1h0M429.6 326.3h0M517.1 336.3h0M533.8 345.3h0M515.4 332.9h0M508.5 328.6h0M446.9 325.2h0M423 327.3h0M536.6 344.2h0M468.8 328.3h0M531.9 347.4h0M500.6 329.8h0M536.3 344.3h0M404.9 329.9h0M520 342.1h0M512.3 333.3h0M487.4 329h0M428.8 329.1h0M436.3 324.2h0M534.8 343.3h0M464.5 328.4h0M514.4 331.5h0M542 340.6h0M439.6 324.7h0M414.4 331.6h0M407.2 328.8h0M470.3 326h0M523 341.2h0M520.5 341.1h0M489.9 329.7h0M400.3 325.2h0M442.6 328.6h0M427.4 328.6h0M427.8 326.7h0M424.6 326h0M406.9 331.6h0M478.6 322.4h0M457.1 326.2h0M459.1 325h0M446.7 325h0M518.6 332.9h0M450.3 322.1h0M428.2 324.5h0M448.1 322.8h0M443.5 322.9h0M457.6 329.6h0M463 327.5h0M439.6 328.2h0M496.4 327.8h0M428.3 329.3h0M532.9 345.6h0M530.1 340.1h0M478.2 324.9h0M511.1 331.1h0M437.2 326.2h0M449.8 326.9h0M533.2 348.9h0M475.2 325.7h0M512 330.7h0M522 341.1h0M505.9 324.8h0M473.1 318.1h0M463.4 326.4h0M411.5 325.4h0M528.3 346h0M505.2 330.3h0M412.9 326h0M523.7 345.1h0M449.1 328h0M526.3 343.1h0M426.7 327h0M404.1 330.1h0M527.2 341.5h0M530.8 338h0M478.3 328.9h0M533 347.8h0M417.6 326.3h0M427.3 325.8h0M540.5 343.8h0M537.3 341.2h0M505.1 326.7h0M455.5 328.9h0M507.7 333.5h0M399.6 328.4h0M459.1 330.5h0M526.3 341.2h0M439.9 327.1h0M424.1 325.5h0M477.1 320.4h0M502.4 332.2h0M452.7 331.1h0M521.6 334h0M532.9 340.1h0M438.3 331h0M463.8 324h0M524.3 340.4h0M478.6 328.3h0M513.4 334.6h0M452.9 326.9h0M522.3 338.7h0M524 344.2h0M517 340.1h0M530.2 348.3h0M464.7 328.3h0M479.5 327h0M520.9 341.7h0M508.6 333h0M482.7 329.1h0M406.7 330.4h0M437.6 329.1h0M473.3 326.5h0M514.1 335.4h0M531.9 339.5h0M544.4 343.8h0M463.5 329.3h0M541.4 348.7h0M463.3 325.9h0M432 330.3h0M535.4 341.2h0M420.8 327.2h0M474.6 317.5h0M516.6 337.3h0M495.2 327h0M525.8 346.3h0M481.8 328.4h0M472.3 327.7h0M457.4 322.3h0M494.9 321h0M486.8 324.9h0M480 323.9h0M502.9 326.7h0M479.4 325.7h0M505 325.1h0M477.8 327.4h0M516.5 331.1h0M436.4 331h0M459.8 326.3h0M452.4 326.8h0M529.4 340.2h0M488.9 329.2h0M536.7 346.6h0M486.2 320.9h0M535.6 347.7h0M511.6 334.9h0M530.5 343.3h0M451.1 322.2h0M546.3 347.6h0M451.1 330.3h0M513.4 336.8h0M494.6 321.2h0M459.2 329.1h0M420.2 324.6h0M409.2 332h0M402 329.9h0M484.6 325.2h0M485.8 323.6h0M420.7 325h0M408.5 330.2h0M404.3 331.5h0M489.4 327.3h0M514.1 334.7h0M531.6 346.2h0M475.2 327.8h0M511.9 328.9h0M441.2 330.3h0M409.9 330.4h0M488.1 326.8h0M454.7 330.1h0M466.4 322.8h0M421.8 328.2h0M505.4 326.6h0M530.4 348.6h0M512.1 336.9h0M424.7 325.5h0M446.9 328h0M435 328h0M544.8 342.6h0M463.6 323.7h0M427.5 322.9h0M522.1 336.5h0M437 324.8h0M415.6 326.5h0M462 322.3h0M407.3 328.1h0M472.7 327.5h0M470.4 325h0M452.7 325.9h0M485.6 326h0M518.3 336.6h0M456.7 328.8h0M447.4 330.6h0M496.8 323.1h0M467.6 326.8h0M445.1 331.7h0M537.5 346.6h0M436.6 322.2h0M466.1 329.8h0M450.2 322.4h0M521 341.8h0M501.3 332h0M532.7 337.1h0M447.3 330h0M522.9 333.8h0M501.4 330.4h0M421.6 326.8h0M443 323h0M524.6 344.1h0M469.7 321.3h0M428.9 323.3h0M424.1 326.2h0M450.1 330.7h0M497.7 324.6h0M424.8 328.2h0M428.5 327.4h0M526.5 345.6h0M444.9 324.5h0M503.3 331.1h0M524.2 340.8h0M513.1 332.1h0M495.7 329.5h0M471.8 324h0M507.5 328.8h0M461.1 320.9h0M514.8 335.6h0M506.4 331.8h0M422.3 326.8h0M401.3 329h0M500.7 330h0M474.9 325.4h0M493.3 325.8h0M500.8 326.1h0M475.5 321.9h0M423.9 323.9h0M489 329.5h0M450.3 326.5h0M477.6 327.5h0M406.1 327.4h0M540.1 341.4h0M431.7 329.1h0M544.7 342.2h0M518.5 336.1h0M463.9 323.9h0M487.1 323.9h0M437.6 326.5h0M402 331.4h0M477.7 324h0M414.3 325.3h0M431.6 324.4h0M412.5 329.9h0M485.2 319.6h0M500.9 324h0M540.4 346.1h0M441.9 324.9h0M525.3 344.1h0M490 329.6h0M402 329.5h0M460.9 323.6h0M543.2 344.4h0M510.5 334.2h0M502.3 328.9h0M506.2 327.8h0M539.2 343.3h0M482.6 319.9h0M425.2 328.3h0M410 328.1h0M487.2 324.6h0M431 328.8h0M536.4 339h0M542.3 346h0M487.1 324.9h0M493.5 320.7h0M424 325h0M520.8 337.2h0M469.4 324.5h0M513.7 330.6h0M470.3 323.2h0M520 341.4h0M423.5 328.4h0M541.5 341.9h0M503.8 327.1h0M458.4 330.1h0M467.1 321.3h0M437.7 326.5h0M480.2 324.1h0M531 341h0M476.1 318.9h0M455.7 329h0M473.5 328.4h0M468.4 323.6h0M469.2 327.1h0M481.5 323h0M509 329.9h0M508.8 330h0M405.6 327.7h0M537.1 348.1h0M459.3 329.7h0M471.4 324.7h0M479.9 328.2h0M532.8 344.5h0M407.7 331h0M525.4 334.5h0M503.2 325.7h0M483 322.5h0M466.4 321.6h0M483.2 328h0M506 330.2h0M472.3 323.5h0M535.2 348.7h0M487.3 328.4h0M472.8 320.5h0M533.2 346.9h0M404.7 326.9h0M531.5 344.6h0M477 324.8h0M426.3 328.7h0M504.7 326.3h0M444.4 329.1h0M476 327.2h0M483.2 328.6h0M541.4 348.3h0M503.3 326.5h0M473.2 325.9h0M498.8 327.1h0M499.7 329.4h0M427.1 321.5h0M463.1 326.4h0M431.1 327.5h0M421.9 320.6h0M455.7 324.3h0M408.4 325.8h0M433.2 325.1h0M433.2 329.5h0M483.5 326.2h0M469 322h0M421 328.2h0M544.6 346.7h0M513.7 337.4h0M503.7 330.2h0M498.1 327.3h0M510.4 334.6h0M435.1 326.9h0M509.8 334.8h0M461.3 326.9h0M436.1 326.1h0M450.3 325.9h0M524.1 342h0M466.7 328.5h0M528.9 336.1h0M545.8 346.2h0M536.8 345.3h0M475.6 328.7h0M487.3 323.5h0M492.1 323.9h0M417.8 326h0M515.2 335.4h0M521 339.4h0M435.6 324.7h0M457.3 322.5h0M497.3 326.8h0M539.1 344.2h0M460.1 323.5h0M530.1 345.7h0M413.8 331.4h0M484.6 323.3h0M451.1 326.9h0M527.8 344.8h0M433.2 324.3h0M418.8 325.1h0M462.9 330.1h0M514.4 334.3h0M510.6 330.7h0M457.8 322.8h0M510.2 330.1h0M426.9 328.1h0M472.4 327.9h0M528.6 336.4h0M428.5 323.1h0M442.3 328.8h0M459.7 327.8h0M437.8 325.5h0M482.7 324.2h0M468.9 327.5h0M491.4 327h0M404 325.9h0M522.2 340.3h0M464.7 329.9h0M414 331.8h0M494.7 330.2h0M430.7 325.9h0M437.8 328.9h0M513.9 332.8h0M415.2 330.8h0M537.6 342.3h0M442.8 328.3h0M493.5 321.9h0M422.9 322.4h0M545.5 346.7h0M539.4 339.8h0M499.5 329.5h0M445.9 328.6h0M461.2 328.1h0M489.4 330.3h0M448.4 329.6h0M490.4 330.1h0M533.1 348.1h0M427.5 328.9h0M446.7 329.3h0M539.8 345.2h0M527.2 341.9h0M407.1 329h0M420.3 329h0M497.6 329.5h0M523.9 344.8h0M543.1 342.2h0M423.6 328h0M475 323h0M480.4 325.3h0M526.5 346.7h0M477.3 320.7h0M408.2 329.7h0M414.9 329.1h0M477.7 322.1h0M425.3 327.2h0M479.9 326.3h0M490.1 329.6h0M478.6 320.4h0M489.3 327.6h0M403.4 327.1h0M505.4 326.3h0M408.5 330.3h0M478.6 324.1h0M427.3 328.1h0M465.7 326.1h0M520.6 340.8h0M525.3 335.8h0M530.4 341.9h0M504.6 325.7h0M482.7 327.9h0M520 340.9h0M414.4 332.3h0M406 329.3h0M529.5 346.1h0M509.2 333.5h0M470.5 325.6h0M443.7 327.8h0M542.3 343.7h0M437.5 324h0M443.9 330.5h0M537.3 345.3h0M515.1 329.9h0M526.5 344.1h0M537.2 344.7h0M538.8 346h0M465.2 323.5h0M442.8 326.3h0M486.9 327.2h0M462.5 328.5h0M456.6 326.2h0M488.7 321.2h0M531.2 345.2h0M485 326h0M456.9 329.3h0M433.1 323.7h0M523.8 345.4h0M496.8 328.7h0M438.1 330.7h0M522.2 340.4h0M416.2 328.2h0M418.1 330.4h0M450.5 326.5h0M518.5 338.8h0M482.4 328.1h0M504.8 331.4h0M533.2 338.6h0M543.6 342.8h0M525.5 343.7h0M471.1 329h0M483.6 329.2h0M399.6 329.5h0M416.1 331.7h0M471.2 322.8h0M454.9 326.7h0M480.9 326.2h0M401.3 331.2h0M538.3 339.7h0M476.3 325.9h0M428.9 328.6h0M496.8 321.6h0M489.2 323.9h0M506.6 330.5h0M544.2 347.3h0M471.2 321.2h0M400.3 327.8h0M434.7 323.9h0M466.8 319.3h0M443.7 327.7h0M476.9 320.8h0M496.1 322.7h0M481 328h0M411.4 328.8h0M405.1 327.5h0M406.3 327.8h0M504.5 327.3h0M467.3 326.1h0M484.7 321.7h0M465.8 326h0M504.5 331.8h0M544.9 346.8h0M493.9 323.7h0M435.8 330.6h0M509.9 335.7h0M436.7 330.8h0M504.3 332.5h0M487.9 328.7h0M401.5 331.4h0M432.9 330.8h0M439.9 329.7h0M462.7 325.5h0M530.2 340.8h0M507.9 331.5h0M476.3 318.9h0M467.1 329.5h0M406.5 327.1h0M437.8 331h0M529.5 342.8h0" stroke="#787878" stroke-width="1.5" stroke-linecap="square" fill="none" opacity="1"/>
<path d="M435.9 369h0M525.2 355.4h0M437.9 366.3h0M508.5 364.7h0M422.3 365.4h0M531.9 350.1h0M473.2 370.3h0M456.6 369.8h0M534.8 355.8h0M519.5 360.6h0M508.8 367.4h0M535.7 349.9h0M529 353.9h0M400.8 363.2h0M536.6 353.4h0M438.7 368.2h0M522.9 353.2h0M458.1 367.9h0M456.8 367.7h0M478.9 368.4h0M401.4 362.9h0M531.9 352.4h0M452 367.7h0M513 360.5h0M428.4 367.6h0M418.7 364.3h0M404 363.2h0M490.3 369.6h0M478 369.4h0M521.8 357.4h0M480.9 368.4h0M493.7 370.4h0M504.2 365.8h0M429.3 367.9h0M471.2 369.2h0M530.5 356.1h0M545.3 348.4h0M490.2 368.1h0M459.9 371.1h0M531.8 349.5h0M501.5 368.9h0M407.6 363.9h0M432.3 366.9h0M513.8 360.4h0M424 365.7h0M498.2 370.3h0M542.4 350.6h0M496.3 367h0M484.6 370.5h0M529.4 351.1h0M497.5 368.2h0M530.5 355.5h0M401.8 363.5h0M531.4 349.7h0M433 367.9h0M442.5 369.6h0M504.3 367h0M519.5 361.8h0M431.6 366.9h0M528.4 351.5h0M489.1 368.4h0M525.1 357.3h0M467.5 371.3h0M468.5 368.5h0M498.5 369.3h0M515.6 361.8h0M526.3 352.5h0M463.9 370.3h0M510.5 363h0M450 367.2h0M520.3 358h0M476.1 368.9h0M537.6 351.7h0M523.4 360h0M414.9 364.2h0M514.1 361.7h0M471.9 369.6h0M462.5 367.8h0M441 368h0M520.3 356.1h0M532.4 356.8h0M483.1 371.2h0M492.3 368.7h0M463.7 368.2h0M528.7 350.6h0M545.2 349.1h0M484.2 369.7h0M484.5 369.9h0M436.9 366.4h0M455.7 369.5h0M473.9 369.6h0M478.4 372h0M433 366.8h0M467.8 369.1h0M412 365.7h0M455.2 368.2h0M515.6 362h0M537.2 351.9h0M442.9 366.8h0M520.4 360.9h0M445.3 369.6h0M540.3 349.2h0M448.5 367.7h0M410 364.7h0M540.6 349h0M465.9 368.8h0M440.7 366.5h0M485 369.6h0M531.7 352.4h0M473.8 371.7h0M485.3 370.7h0M515.3 359.6h0M404.3 364.4h0M537.2 355.9h0M520.9 354.8h0M507.5 364.9h0M467.6 368.2h0M543.1 349.4h0M415.5 365h0M401 362.3h0M508 364.7h0M518.4 357.6h0M429.9 365.6h0M531.7 352.8h0M482.5 368.7h0M463.5 368h0M522 360.3h0M476.7 369.5h0M431.7 367.1h0M481.4 368.5h0M408.2 366.2h0M460 369h0M506.6 364.4h0M416.4 365.7h0M481.9 370.2h0M488.6 368.9h0M407 364h0M440.6 366.6h0M409.4 365.3h0M495.9 366.8h0M513.8 359.5h0M399.8 363.7h0M503.7 368h0M532.7 356.4h0M409.1 363.6h0M507.7 366.4h0M462 367.8h0M428.4 365.7h0M533.2 352.1h0M460 369h0M531.9 352.8h0M535.8 355.7h0M448.8 368.2h0M533.9 351.2h0M537.5 351.4h0M400 362.6h0M534.8 353.8h0M512.8 360.6h0M399.9 363.3h0M497 366.8h0M531.8 354.6h0M532 351.5h0M535.2 354.5h0M495.2 367.2h0M420.2 365.6h0M466 370.7h0M458.3 369.5h0M511.6 361.5h0M452.1 367.2h0M502.3 367.3h0M460.2 371h0M487.5 368.9h0M513.6 362.6h0M530.2 354.6h0M408.3 366.3h0M483.9 369.3h0M461.8 367.6h0M512.9 360.3h0M522.3 359.9h0M520.7 355.3h0M431.3 367.2h0M429.2 367.1h0M533 356.4h0M460 368.4h0M520.4 356.1h0M402.6 365.2h0M507.6 365.3h0M446 370.2h0M516.6 361.4h0M415.8 365.7h0M534.6 351.8h0M519.4 355.5h0M512 364.6h0M487.8 368.6h0M527.8 350.5h0M481.7 370.6h0M513.9 365h0M473.7 370.6h0M402.3 362.8h0M486.1 368.8h0M528.6 352h0M514.4 360.5h0M417 365.9h0M405.5 364.9h0M434.3 366.5h0M512.2 362.2h0M459 368.1h0M447.9 367.4h0M534.2 353.5h0M402.5 364.6h0M530 355h0M466.4 371.3h0M529 358.3h0M455.7 370.6h0M496.2 369.3h0M428.3 366.2h0M453.6 369.3h0M514.7 364.3h0M517.6 357.5h0M432.5 366.6h0M513.8 359.3h0M544 353h0M509.1 365.9h0M455 367.3h0M518.3 358.5h0M506.7 364.3h0M516.5 359.3h0M531.3 352.2h0M538.6 355h0M429.6 366.2h0M447.6 368.4h0M426.1 367.2h0M546.1 351.1h0M543.8 348.5h0M525.2 353.7h0M511.8 364.6h0M431.3 366h0M459.2 368.5h0M425.7 367.4h0M468.6 368.4h0M419.1 365.5h0M403.6 365.7h0M411.1 363.5h0M483.2 369h0M431.6 365.8h0M411.3 363.4h0M524.9 357.4h0M526.1 354.7h0M540 351.9h0M529.2 351.4h0M540 352.5h0M515 359.1h0M498 367h0M477.7 368.4h0M464.1 371.1h0M402.5 363.3h0M520.9 355.7h0M461.3 368.5h0M523.4 354.1h0M540.3 354.3h0M528.2 352h0M494.5 367h0M502.5 368.5h0M534.9 353.9h0M447.2 367.2h0M506.7 364.7h0M508.1 363.5h0M508.8 366.6h0M456.4 370.3h0M484.6 368.1h0M493.7 367.5h0M528.1 353h0M542.1 351.5h0M410.1 365.7h0M528.1 357.8h0M489.5 370.9h0M515.1 361.2h0M499.9 368.6h0M528.7 357.5h0M477.3 370.6h0M475.2 369.6h0M501.2 368.7h0M542.9 351.3h0M478.7 369h0M479.5 368.3h0M494.4 369.4h0M546 348.3h0M432 368h0M508.8 365.8h0M509.9 362.8h0M535.1 355.2h0M465.9 369.3h0M511.3 366.2h0M449.7 370.1h0M472.6 368.2h0M415.4 364.3h0M454.7 369.7h0M472.8 369.7h0M458.2 367.5h0M477.5 369.7h0M456 368h0M449.8 367.9h0M466.4 367.9h0M517 360.1h0M512 364.6h0M544.1 349.9h0M427.3 365.9h0M528.8 357.7h0M415.5 365.6h0M445.1 370h0M402.9 364.9h0M491.7 367.7h0M402.2 364.2h0M413.2 363.9h0M515.5 359.1h0M515.4 361.6h0M418.7 364.3h0M511.9 361.6h0M480.2 371.9h0M532.5 350.9h0M505.3 366.8h0M497.2 368.8h0M544.8 350.4h0M454.4 369.8h0M485 368.5h0M525.7 352h0M522.3 358.7h0M408.4 363.9h0M401.6 362.8h0M454.4 368.5h0M542.7 351.7h0M413.2 364.9h0M404 365h0M538.4 350.5h0M428.5 367.6h0M460.6 370.7h0M533 353.1h0M475.4 370.3h0M408.9 364.6h0M477.7 369h0M523 354.2h0M430.5 367.6h0M451.7 367.3h0M464.4 368.7h0M402.3 363.2h0M519.3 361.3h0M417.6 365.5h0M442.2 367.1h0M483 369.5h0M525.2 352h0M415.8 364.5h0M541.8 351.9h0M494.4 367.6h0M433.2 366.5h0M435.1 368.9h0M499 367.1h0M417.8 365.6h0M431.9 369.1h0M541.4 348.9h0M534.4 351.5h0M510.6 365h0M524.3 357.3h0M422.2 366.3h0M454.2 369.2h0M402.8 362.8h0M506.4 364h0M401.1 362.6h0M421.3 367.3h0M545.6 348.8h0M418 366h0M543.7 348.6h0M498.9 369.5h0M489.8 370h0M425.1 367.5h0M473.6 372h0M466.9 369.7h0M519.8 360.7h0M544.2 353.9h0M461.7 367.6h0M404.8 362.8h0M541.8 352.3h0M490.4 369.2h0M476.6 368.9h0M524.7 356.2h0M514.4 362.3h0M498.9 367.3h0M428.3 365.4h0M527.6 359.3h0M447.6 368.3h0M510.1 362.5h0M436.7 368.5h0M445.7 369.5h0M511.9 362.2h0M524.1 357.6h0M542.7 348.7h0M517.6 360.2h0M513.9 364.9h0M509.2 365.6h0M456.3 367.8h0" stroke="#787878" stroke-width="1.5" stroke-linecap="square" fill="none" opacity="1"/>
<path d="M497.7 318.1h0M457.5 318.8h0M537.7 336.7h0M456.6 316.7h0M522.4 326.1h0M521.8 326.5h0M510.3 312h0M492.8 308h0M440.6 321.5h0M497.8 319.7h0M403.1 323.7h0M541.5 338.7h0M492.1 313h0M485.3 314.8h0M541 329.2h0M531.4 326.9h0M454.4 319.7h0M539.5 331.2h0M537.3 323.8h0M434.2 319.5h0M477.3 316.2h0M469.4 314.6h0M508.6 322.6h0M471.9 304.6h0M511.5 316.5h0M505.2 310.1h0M487.9 309.7h0M408.4 322.6h0M448.9 320.7h0M467.9 307.8h0M517 305.3h0M465.2 316h0M448.1 318.8h0M409.8 322.9h0M516.1 319.9h0M465.9 316h0M492.2 319.3h0M534.1 313.6h0M509.6 323h0M446.1 312.2h0M452.4 319.6h0M505.1 321.7h0M528.6 326.1h0M436.1 318.7h0M473.7 315.3h0M439.9 314.1h0M424.7 314.1h0M514.4 326.9h0M472.3 311.2h0M473.1 304.2h0M529.8 332.3h0M404.6 324.2h0M444.2 317.1h0M412.7 323.9h0M406.4 319.6h0M493.4 301.2h0M458.7 317h0M513.5 315.3h0M426.6 317.3h0M519 318.5h0M496.1 314.6h0M413.3 311.9h0M538.8 334.3h0M534.6 305.2h0M412.9 323.6h0M539.7 329.9h0M496.2 303.6h0M518.8 321.7h0M530.1 332.4h0M480.6 306.6h0M480.8 317.5h0M504.3 317.7h0M408.1 321.5h0M513.1 324.5h0M518.6 308.7h0M514.1 326.2h0M505.1 306.8h0M457.7 315.4h0M468.6 316.3h0M508 322.3h0M446.6 320.9h0M449.3 318.1h0M508.9 317.9h0M435.5 309h0M528.9 330.4h0M528.3 323h0M496 310h0M448.5 320h0M461.8 306.6h0M431.1 319.8h0M520.3 329.5h0M541.6 316.8h0M425 317.6h0M416.3 313h0M476.7 316h0M542.8 337.8h0M440.8 303.3h0M440.2 316.6h0M471.8 316.2h0M460.4 318.9h0M450.3 316.1h0M499 319.9h0M423.5 309.9h0M419.8 318.4h0M439.3 305.9h0M444.4 318.2h0M442.7 306.8h0M417.5 321.4h0M421.1 309.4h0M457.9 314h0M452.7 311.6h0M501.2 319.3h0M433 309.9h0M537.1 323.5h0M498.4 315.2h0M526.4 327.9h0M526.6 333.2h0M533.7 308.8h0M478.4 314.6h0M453.9 319.8h0M471.2 316.1h0M501.2 302.1h0M445.6 321.2h0M488.2 315h0M459.3 318.3h0M426.5 316.7h0M408.5 320.9h0M527.6 314.2h0M535 330.5h0M452 315.6h0M522 321.5h0M473.5 314.5h0M462.7 302h0M460.4 318.1h0M463.6 314.6h0M424.5 316.3h0M527.8 328.4h0M475.5 313.5h0M437.6 305.7h0M474.3 313.3h0M483.5 318.2h0M520.8 324.9h0M432.6 316.3h0M487.6 316h0M522 324.5h0M527.4 329.3h0M431.4 311.4h0M464.6 318h0M515.3 325.8h0M461.4 310.5h0M509.7 317.6h0M448.7 320.5h0M458.9 307.7h0M417.3 314.9h0M508.5 303h0M454 319.5h0M418.9 320.6h0M448.9 312.4h0M435.9 321.2h0M466.7 317h0M541.2 310.6h0M538.1 336.2h0M529.8 331.7h0M536.3 320.7h0M433.7 321h0M487.9 316.4h0M524.1 316.5h0M540.2 327.9h0M503.6 300h0M427.6 313.1h0M462.3 317.7h0M437.3 320.3h0M521.7 313.1h0M525.9 324.6h0M471.2 314.3h0M400 323.9h0M538.3 320.4h0M533.7 335.2h0M538.9 331.8h0M519.8 324.9h0M545.3 338.7h0M450.8 320.2h0M427.2 318h0M528.9 334.4h0M526.7 333.5h0M450.1 319.1h0M501.7 318.2h0M419.6 317.4h0M431.4 311.1h0M543.4 334.2h0M532.8 329.8h0M434.9 321.1h0M509.1 319.5h0M516.1 323.6h0M493.1 312.6h0M487.8 316.9h0M406.8 321.4h0M542.4 328.5h0M504.4 320.5h0M484.8 315.8h0M452.1 316.3h0M504.7 319.1h0M438.5 317.9h0M514.9 316.4h0M419 313.2h0M468.9 312h0M451.9 318.9h0M400.6 321.8h0M515.4 325.3h0M535.4 331.2h0M469.3 316.7h0M446.5 321.6h0M510.4 323.6h0M424.1 316.6h0M530.5 318.5h0M489.5 317.4h0M513.3 326.3h0M456 308.5h0M492 316.1h0M498.1 304.9h0M505.2 321h0M525 307.7h0M476.9 308.6h0M476.6 306.6h0M475.9 314.9h0M409.6 321h0M465.9 312.8h0M539.4 333.5h0M513.3 326.3h0M467 316.6h0M528.2 327.6h0M450.9 313.8h0" stroke="#787878" stroke-width="1.5" stroke-linecap="square" fill="none" opacity="1"/>
<path d="M532.7 365h0M540.9 359.1h0M451.9 373.8h0M521.3 362.9h0M467.2 377.4h0M476.7 378.5h0M470.3 380.1h0M434.2 372.2h0M443.8 371.2h0M532.1 372h0M495.6 380.7h0M432.7 376.9h0M543.8 356.5h0M522.3 366.1h0M519.7 363.2h0M490.8 383.7h0M499 373.4h0M430.9 372.4h0M436.7 370.8h0M508 372.1h0M509.5 368.5h0M469 375h0M525.4 364h0M444.3 372.3h0M432.7 371.5h0M415 368.8h0M537.9 360.8h0M489.3 373.4h0M496.2 372.1h0M507.1 374.7h0M426.4 372.9h0M531.6 362.3h0M542.6 364.1h0M446 371.2h0M529.2 364.7h0M486.4 373.5h0M438.7 372.1h0M542.6 356.4h0M527.8 360.5h0M465.2 373.9h0M503.8 370.8h0M516.2 370.9h0M463 373.7h0M496.8 372h0M466.1 373.2h0M528 362.5h0M444.3 371h0M477.3 373.3h0M413.7 368.6h0M498.7 380.3h0M415.3 368.2h0M461.3 372.6h0M520.4 364.4h0M490.9 374.7h0M460.6 379.8h0M483 374.2h0M426.5 377.8h0M448.1 377.3h0M536.2 357.8h0M429.5 371h0M521.9 362.9h0M516.7 364.6h0M503.6 372.9h0M521.7 363.4h0M428.8 373.5h0M463 373h0M461.1 376.4h0M443 372.9h0M444.9 383.6h0M455.7 376.6h0M542 358.9h0M467.4 374.1h0M523.4 372.6h0M519.4 364.3h0M518.4 364.6h0M483.1 374.3h0M486 373.2h0M436.7 376.3h0M533.2 371.6h0M466.1 379.8h0M513.9 366.1h0M530.6 363.6h0M494.7 372.7h0M464.2 372.5h0M532 361.6h0M422.3 368.9h0M518.6 366.1h0M453.2 374.5h0M513.4 367.2h0M442.5 372.5h0M533.5 359h0M480.6 379.2h0M425.2 372.7h0M524 364.7h0M460.8 372.5h0M421.9 375.1h0M527.5 360.3h0M420.3 369.9h0M440.5 378.1h0M439.5 372.3h0M470.5 375.6h0M543.3 358h0M416.6 370.5h0M545.1 358.8h0M452.3 372.4h0M471.9 373.1h0M529.3 360.6h0M427.5 371h0M511.9 370.7h0M477.3 374h0M419.3 368.7h0M471.4 377.5h0M511.7 373.1h0M518.4 377.5h0M445.7 381.7h0M453.1 371.7h0M468.1 374.3h0M533.2 359.5h0M528.1 362.5h0M506.7 370.5h0M461.4 372.4h0M456.6 377.2h0M463.2 374.3h0M466.5 373.8h0M479.4 381.8h0M470.4 374.6h0M460.8 377.5h0M519.1 363.5h0M532 361.8h0M532.4 362h0M431.8 373.2h0M496.6 372.2h0M435.9 372.3h0M531.8 366.6h0M485.8 373.5h0M404.3 367.2h0M524.9 361.2h0M508.6 375.3h0M425.7 370.4h0M530.4 360.2h0M415 369.3h0" stroke="#787878" stroke-width="1.5" stroke-linecap="square" fill="none" opacity="1"/>
<path d="M424.8 357h0M457.5 354h0M413.7 333.5h0M458.3 366.3h0M429.6 331.5h0M446.6 335.4h0M510.2 362.7h0M459.1 333.1h0M486.4 330.9h0M440.3 367.1h0M424.4 329.7h0M443.4 366.1h0M426.5 332.6h0M462.4 363.6h0M478.8 329.4h0M432.6 361.7h0M483.4 330.1h0M461.8 334.3h0M492.6 358.2h0M489.1 332.1h0M512.3 360.2h0M480.8 366.9h0M408.4 362.9h0M442.5 361.6h0M449 330.9h0M501.7 365h0M500.8 344h0M426.7 329.3h0M504.9 336.6h0M450.9 367.6h0M478.8 365.8h0M478.9 329h0M452.8 335.4h0M467.4 333.3h0M457.4 361.8h0M479.9 368.8h0M495.6 367.4h0M464.8 332.8h0M503.2 363.8h0M461.5 331.7h0M407.3 361.9h0M470.6 365.4h0M439.8 332.2h0M485.6 331.4h0M435.1 335.9h0M475.9 364.1h0M423.9 329h0M476.8 357.8h0M471.6 367.4h0M481.3 330.3h0M403.8 333h0M454.6 367.5h0M486.7 337.5h0M453.5 341.1h0M436.4 333.6h0M487.7 365.9h0M480.4 359.9h0M454.5 366.3h0M497.6 360h0M480.3 365.8h0M528.7 347.9h0M478.2 332.6h0M517.5 340.4h0M486 329.6h0M454.7 339h0M401.2 336h0M486.1 364.9h0M451.7 332.2h0M501 358.7h0M503 357h0M496.9 360.9h0M465.9 356.9h0M475.4 364.4h0M476.2 344.2h0M453.9 353.8h0M449.1 348.6h0M520.1 353.2h0M400.4 362.8h0M501 365.1h0M417.3 364.4h0M414.7 362.7h0M490.2 330.8h0M402.2 361.3h0M477.5 328.7h0M430.1 339.9h0M499.6 331.5h0M468.4 368.3h0M429.1 341.3h0M469.7 330.7h0M486.2 331h0M498.8 364.7h0M401.6 361.4h0M509.1 336.8h0M496.3 343.2h0M429.2 330.5h0M472.3 329.5h0M463.2 338.2h0M471.9 332.6h0M429.7 339.8h0M508.8 362.3h0M483.3 368.9h0M467.5 368.3h0M512.6 337.5h0M445.4 333.3h0M464.5 348.8h0M475.1 330.9h0M473.4 365.9h0M441 332.7h0M471.2 328.8h0M451.5 342.4h0M485.2 337.6h0M445.1 365.5h0M455.1 366.2h0M469.8 368.6h0M424.1 354.2h0M466.3 367.9h0M503.3 362.2h0M481.6 329.2h0M461.4 332.3h0M417.2 363.6h0M469 364.8h0M450.2 366.9h0M446.2 365.4h0M484.1 331.7h0M519.4 342.8h0M463.4 366.5h0M424.3 330.6h0M479.7 329.3h0M454.9 367.6h0M499.4 363.6h0M488.1 363h0M443.7 336h0M496.3 332.1h0M463.7 329.4h0M483.5 357.6h0M408.2 362.3h0M434.4 365.5h0M499.8 332.2h0M402.4 333.5h0M480.8 366.6h0M508.6 360.7h0M498.3 343.6h0M420.4 335.6h0M417.4 361.4h0M445.6 366.5h0M408.1 339.5h0M473.2 330h0M477.8 357.8h0M480.2 363.1h0M495.9 342.3h0" stroke="#fff" stroke-width="1.0" stroke-linecap="square" fill="none" opacity="0.85"/>
<path d="M530.6 338.3h0M553.5 367.7h0M567.3 365h0M566.7 325.9h0M573.5 318.5h0M608 340h0M577.3 350.3h0M552.7 356.9h0M564.3 352.8h0M541.1 344.3h0M542.9 358h0M549.4 354.1h0M631.1 342.9h0M542.5 347.1h0M570.9 357.5h0M584.1 338.2h0M581.2 338.2h0M535.4 332.4h0M563.7 362.8h0M573.5 352.8h0M539.6 356.5h0M527.8 338.9h0M530 344.1h0M547.4 361.1h0M537 340.6h0M541.6 361.2h0M555.3 344.4h0M594.6 345.3h0M548.1 352.1h0M540.8 356.7h0M562.7 366.6h0M594 342h0M544.1 368h0M556.3 334.8h0M580.1 335.6h0M532.1 311.7h0M539.2 356.6h0M546.5 364.9h0M556.1 329.1h0M620.8 343.5h0M581.9 342.4h0M615.8 332.2h0M593.1 346.3h0M544.9 348.8h0M531.2 337.3h0M575.3 333.3h0M528.1 346.7h0M545.9 352.9h0M561 326.9h0M611.8 345.2h0M529.8 353h0M564 310.1h0M613.1 349.1h0M545.4 368.3h0M529.4 325.5h0M555 361.8h0M574 341.7h0M558.4 352.5h0M551.6 342.6h0M585.6 333.1h0M574.5 325.2h0M542.4 378.1h0M548.6 326.7h0M530.1 340.7h0M606.2 359.5h0M537.3 349.1h0M612.6 347.8h0M567.7 320.6h0M556.1 336.8h0M540.9 326h0M581.7 325.4h0M557.1 349.5h0M535.1 356.8h0M550.6 334.5h0M544.1 335.8h0M536.3 351h0M546.1 356.9h0M537 329.6h0M536.4 361.7h0M531.8 358.6h0M546.3 344.9h0M545.3 329.5h0M535 353h0M571.1 353.3h0M588.9 364.2h0M568.3 337.8h0M528.5 368.6h0M548.8 340h0M558.3 351.6h0M564.6 343.5h0M599.2 346.7h0M564.4 363.1h0M555.3 335.9h0M576 354.8h0M563.1 341.5h0M572.7 344.7h0M596.9 338.6h0M542.3 347.6h0M534.8 315.7h0M547 341.3h0M637.2 354.9h0M561.3 355.5h0M558.4 324h0M555.8 330.2h0M550.5 339.3h0M548.7 370.3h0M540.8 338.8h0M579.5 345.2h0M554 341.6h0M608.1 349h0M541.7 332h0M538.6 348.5h0M564.3 350.9h0M546.5 359.2h0M549.6 332.9h0M561.2 356.3h0M569.7 368.3h0M530 356.7h0M537.4 354.8h0M545.4 311h0M564.7 361.7h0M564.7 368.8h0M537.1 362.6h0M556.8 351.5h0M560.7 355.5h0M585.6 337.8h0M529.2 338.8h0M544.4 360.3h0M549.9 348.4h0M569.6 319h0M567.1 347.9h0M623.1 349.6h0M535.8 331.3h0M551.9 350h0M534.3 348.5h0M567.6 323h0M560.8 351.5h0M560.6 372.5h0M556.4 367.8h0M606.3 335.3h0M642.1 336.5h0M535.5 345.8h0M538.8 349h0M554.1 327.1h0M562.9 335.6h0M557.3 362.7h0M560.2 348.1h0M559.8 358.3h0M604.1 345.7h0M548.8 359h0M635.1 342.5h0M602.3 340.9h0M557 332.5h0M578.4 323.3h0M563.2 340h0M536.7 325.1h0M534.9 338h0M548.1 346.9h0M568.3 347.2h0M547.4 350.3h0M618 342.8h0M594 345.2h0M534.7 361.9h0M534.4 342.6h0M564.2 345.3h0M568.2 315h0M547.5 329.6h0M537.3 360.8h0M553.7 333.3h0M548.4 330h0M535.7 359.1h0M531.9 326.4h0M537.8 359.2h0M529.3 343.3h0M532.3 335.4h0M545.2 316.1h0M554.5 362.5h0M549.9 319.9h0M578.4 331h0M547.8 355.7h0M571.9 330.1h0M628.9 350.9h0M607.8 345.7h0M528.7 340.6h0M561.7 331.2h0M536.4 335h0M541.8 348.6h0M545.9 331h0M557.1 353h0M529.8 348.3h0M559.7 351.8h0M536.4 348.1h0M535.8 353h0M571.9 349.6h0M595.8 354.2h0M535.8 350.3h0M530.9 349.6h0M590.2 335.7h0M534.9 319.1h0M611.4 346.6h0M557.9 357.3h0M547.7 331.8h0M544.9 322.4h0M529.4 336.3h0M556.7 349.5h0M564.4 355.6h0M525.3 339.7h0M554.4 329h0M543.1 343.8h0M548.3 354.1h0M550.9 344h0M564.6 357.6h0M548 337.7h0M567.5 355.7h0M534.9 368.9h0M555.2 331.5h0M532.1 331.6h0M536 354.2h0M581.3 351h0M533.4 344.3h0M533.7 364.2h0M548.5 343.1h0M550 322.6h0M536.6 330.7h0M549.4 363.2h0M569.1 324.3h0M593.1 330.7h0" stroke="#787878" stroke-width="1.5" stroke-linecap="square" fill="none" opacity="1"/>
<path d="M545.6 345.4h0M551.7 341h0M541.4 337.4h0M532.6 338.2h0M570.5 355.7h0M517.7 335.6h0M546.3 338.6h0M528.1 350.3h0M509.1 342.4h0M587.2 325.6h0M552.9 338.4h0M560.2 341.9h0M514.8 367.9h0M557.5 353.6h0M531 333.2h0M522.6 331.5h0M537.4 340.3h0M560.3 348.6h0M572.4 337.7h0M534.5 351.5h0M551.3 329.5h0M558.6 349.8h0M543.2 360.5h0M582.8 319h0M531.7 345.6h0M514.4 349.5h0M531 351.8h0M535.6 347.3h0M551.8 345.2h0M558.3 349.2h0M511.5 347.5h0M520.5 347.2h0M516.7 367.3h0M567.2 357.2h0M514.4 358.6h0M562.3 338.9h0M518.4 339.5h0M562.2 357.8h0M534.5 332.8h0M555.6 357.7h0M574.1 331.8h0M582.8 367.6h0M513.5 362.9h0M563.9 339.9h0M550.6 340.6h0M526.2 319.5h0M519.1 345.3h0M543.5 360.4h0M546.9 353.3h0M515.9 342.5h0M549.4 370.2h0M537.2 352.9h0M545.8 351h0M558.3 342.6h0M531.9 353.4h0M569.6 374.3h0M538.5 351.6h0M522 324h0M527 348.8h0M523.3 371.2h0M572.3 358.7h0M544 339.8h0M536.5 350.4h0M568.2 330h0M540.5 353.9h0M534.6 335h0M531.1 339.2h0M562.2 339.7h0M535.1 337h0M526.9 368h0M518.8 365.8h0M523.2 342.2h0M553.4 347.1h0M519.1 368.5h0M560.5 342.8h0M556.2 340.9h0M520.6 334.7h0M514.9 367.2h0M559.8 347.9h0M539.1 346.1h0M559.8 341.2h0M572.2 336.3h0M517.9 358.8h0M543.7 336.6h0M521.3 339.1h0M533.9 324.8h0M515.2 331.1h0M555.3 340h0M528 339.6h0M516.3 325.5h0M515.2 337.6h0M529.5 344.2h0M523.8 311.5h0M547.4 352.9h0M517.5 342.2h0M523.8 328.3h0M569.8 342.9h0M525.8 351.6h0M515.5 345.8h0M518.3 346.4h0M566.4 346h0M517 354.6h0M519.2 327.7h0M538.9 338.6h0M526.8 350.8h0M511.6 346.2h0M529.4 332.2h0M519.4 342h0M529 336.8h0M538.5 346.1h0M533.7 324.9h0M515.3 323.8h0M545.1 328.4h0M519.2 344h0M556.1 374.2h0M534.1 358.2h0M511.2 362.6h0M585.4 345.9h0M520.8 366.9h0M508 350.7h0M560 346.6h0M530 359.7h0M527.1 330h0M551.9 320.1h0M590.1 334.2h0M516.1 364.8h0M554.9 356.2h0M581.1 347.7h0M571.1 343.2h0M523.8 343.5h0M511.9 351.1h0M534.5 334.9h0M541.5 355.2h0M520.4 332.8h0M539.9 362.3h0M510.7 341.1h0M561.2 335.4h0M526.2 342h0M511.9 332.9h0M522 343.9h0M565 325.8h0M518.4 339.1h0M521.4 346.7h0M525.4 350.7h0M530.4 340.7h0M518.1 362h0M520 323.1h0M554.8 343.2h0M540.2 339.7h0M519.4 345.6h0M580.4 343h0M525.5 363.8h0M536.9 345.6h0M542.7 334.4h0M580.3 371.4h0M546.7 346.2h0M560.9 343.9h0M528.7 357.1h0M523.6 337.8h0M551.9 343h0M540.8 356.3h0M530.8 330.5h0M514.4 339.4h0M531.3 357.7h0M513.2 370.3h0M549.2 344.7h0M520 344.2h0M535.7 359.4h0M532.6 326.8h0M508.1 335.9h0M576.6 337.4h0M518.8 318h0M549.9 311.3h0M569.4 341.3h0M532.6 357.2h0M524.8 354.4h0M513.6 363h0M523.4 309.5h0M531.5 343.8h0M528.5 362.9h0M519.6 334h0M541.3 329.6h0M553.4 349.7h0M528.2 345.8h0M520.2 354.2h0M523.4 345.6h0M518.6 362.4h0M575.8 353.1h0M561.7 348.6h0M513.3 340.5h0M515.4 355.3h0M557.4 338.1h0M533.3 357.9h0M524.3 360.9h0M569.8 356h0M528.9 329.1h0M530 351.4h0M562.2 349.9h0M550.1 356.1h0M536.4 326.1h0M510 337.3h0M534.7 344.7h0M558 361.8h0M535.8 338.2h0M517.3 357.9h0M541.4 347.6h0M553.1 368.5h0M535.1 349.9h0M533.8 325.2h0M554.6 342.5h0M525.2 349.1h0M522.9 362.6h0M528.8 354.4h0M525.8 342.1h0M544.7 330.4h0M551.8 346.2h0M534.9 344.2h0M569.7 360.3h0M561.7 356.3h0M560.7 329.9h0M549.6 318.1h0M573.4 341.4h0M522.9 349.4h0M546.6 334h0M528.6 339h0M530.3 361.2h0M578.3 353.6h0M535.8 324h0M539.2 350.1h0M514.9 348h0M554.1 343.4h0M522.5 353.3h0M530.6 353.4h0M520.9 379.2h0M543.9 348.6h0M520 336h0M538.4 339.6h0M530 355.1h0M538.9 370h0M563.4 352.7h0M533.1 352.7h0M540.5 349.2h0M539.5 340.3h0M518.6 346.9h0M558.9 331.9h0M535.1 355.3h0M559.4 351.3h0M512.1 348.4h0M534.7 334.9h0M524.1 342.4h0M513.5 337.9h0M574.7 349.1h0M545 342.4h0M564 350h0M539.8 357.5h0M525.6 362.6h0M533.3 332.8h0M514.7 341.3h0M541.4 332.3h0M544.9 361.1h0M537 335.2h0M551.5 361.9h0M523.6 339.2h0M566 357.4h0M545.2 339.3h0M520.4 342.9h0M545.3 347.4h0M546.8 347h0M567.5 344.3h0M533 354.5h0M520.4 362.1h0M516 357.7h0M525.1 339.6h0M529.9 321.9h0M550.8 347.3h0M512.5 306.6h0M514.8 355.2h0M550.5 353.4h0M518.7 329.5h0M510.1 354.1h0M513.8 336.8h0M543.6 361.5h0M539.5 336.4h0M570.6 336.9h0M516.2 337h0M544.5 348.9h0M512.9 331.6h0M556.8 372.1h0M534.6 341.2h0M512 370.3h0M507.5 341.9h0M573.7 342.6h0M532.7 336.9h0M568.5 337.6h0M515.7 352h0M532.6 361.3h0M546.7 347.3h0M512.4 333.6h0M537.7 348.6h0M576.3 337.6h0M521.2 310h0M521.4 347.6h0M521.2 322.5h0M535.5 337.9h0M525.1 346.7h0M539.6 341h0M577.4 343.2h0M513.7 367.3h0M572.1 356.3h0M553.5 363.8h0M542.2 348.6h0M526.9 348.9h0M552.3 366.9h0M516.1 337.4h0M509.8 350.6h0M538.5 347.6h0M519.3 349.9h0M522.2 354h0M523.8 347.6h0M525.3 356.7h0M538.2 335.4h0M562.1 351.6h0M566.5 334.4h0M535.3 359.6h0M516.6 359.3h0M526 343.2h0M577.1 340.6h0M515.3 345.5h0M555.6 352.3h0M538.6 327h0M552.8 334.1h0M555.3 356.8h0M537.8 343.2h0M557.3 331.1h0M556.1 320.1h0M559 340.8h0M563.5 326.2h0M516.4 347.5h0M533.1 344.7h0M583.9 364.5h0M522.8 329.1h0M525 354.1h0M560.1 332.1h0M552.9 333.6h0M555.4 343.3h0M560.2 336.1h0M587.7 363.9h0M516.8 344.9h0M536 336.2h0M529.1 375.6h0M528.6 335.3h0M560 341.4h0M584.3 343.6h0M547 336.3h0M510 353.9h0M529.4 361h0M573.5 331.9h0M535.4 339.4h0M519.8 340.4h0M515.4 326.4h0M518.5 327.7h0M513.8 340.3h0M557.2 335.1h0M545.2 349.2h0M542.3 355.5h0M553.2 347.6h0M532 349h0M554 334.7h0M555.7 338.5h0M545.6 350.1h0M518.1 353h0M576.3 344.5h0M533.8 352.2h0M549.2 342.4h0M521.9 329.9h0M514.8 349.5h0M512.1 339.4h0M512.4 321.9h0M579.3 354.1h0M513.7 350.5h0M516.1 355.1h0M566.9 340.2h0M508.5 365.9h0M558.1 350.8h0M553.4 356.7h0M567.8 338.3h0M543.1 341.6h0M521.3 362.3h0M584.6 345.2h0M553.2 345.6h0M521.8 365h0M522.2 360.5h0M552.4 348.1h0M537.1 369h0M565.1 329.1h0M526.4 344.5h0M518.6 338h0M550.6 362.7h0M512.6 366.8h0M523.8 339.1h0M529.5 347.2h0M537.7 357h0M535.1 351.9h0M564.7 348.4h0M558.1 356.8h0M517.2 371.4h0M516.2 347h0M544.2 332.2h0M527.3 344.1h0M580.7 345.2h0M523.5 340.5h0M518.7 354.7h0M525.7 354.9h0M547.5 356.2h0M538.2 351.4h0M521 348.9h0M567.3 334.5h0M571.1 341.9h0M556.3 335.8h0M523.4 349.7h0M512.3 343.9h0M543.2 345.1h0M544.4 351.8h0M565.6 342.4h0M510.1 360.1h0M520.4 359.3h0M571.1 335.6h0M586.9 358.5h0M525.6 341.2h0M562.3 337.6h0M557.4 342h0M514.8 328.5h0M552.6 349.5h0M528.8 360.8h0M524.7 326h0M548 350.5h0M530.2 352.9h0M564.1 352.8h0M522.6 353.9h0M520.7 351.2h0M513.3 339.2h0M560.3 355.5h0M527.5 349.8h0M512.5 356.2h0M579.6 348.8h0M516.7 342h0M519.7 344.9h0M545.4 352.8h0M578 356.2h0M576.8 326h0M583.7 332.9h0M525.6 324.6h0M526.1 338.7h0M512.4 336.4h0M552.8 347.8h0M561.3 342.2h0M509.9 363.6h0M524.9 337.6h0M564.9 337.8h0M529.2 335.1h0M554.7 342.1h0M529.5 347.5h0M576.3 340.6h0M513.8 333h0M549.7 329.6h0M572 347.5h0M554.9 339.3h0M560.3 334.6h0M524.3 341.9h0M537 349.5h0" stroke="#787878" stroke-width="1.5" stroke-linecap="square" fill="none" opacity="1"/>
<path d="M610 343.2 L672 340.6 L672 343.6 L610 345Z" fill="#d9d9d9" opacity="0.8"/>
<path d="M400.4 350.9 L428 349.7 L483.1 348.1 L538.2 346.4 L593.3 344.5 L648.4 342.8 L672 342.2" stroke="#0b89ff" stroke-width="2.4" fill="none" stroke-linecap="round" stroke-linejoin="round"/>
<rect x="389.5" y="297.5" width="294" height="91" fill="none" stroke="#404040" stroke-width="1"/>
<path d="M428 388.5v5M483.1 388.5v5M538.2 388.5v5M593.3 388.5v5M648.4 388.5v5M389.5 318.1h-5M389.5 339.5h-5M389.5 360.9h-5M389.5 382.3h-5" stroke="#404040" stroke-width="1" fill="none"/>
<text x="428" y="406" text-anchor="middle">2</text>
<text x="483.1" y="406" text-anchor="middle">4</text>
<text x="538.2" y="406" text-anchor="middle">6</text>
<text x="593.3" y="406" text-anchor="middle">8</text>
<text x="648.4" y="406" text-anchor="middle">10</text>
<text x="379.2" y="321" text-anchor="end">0.5</text>
<text x="379.2" y="342.4" text-anchor="end">0.0</text>
<text x="379.2" y="363.8" text-anchor="end">-0.5</text>
<text x="379.2" y="385.2" text-anchor="end">-1.0</text>
<text x="536" y="425" text-anchor="middle">PLD</text>
<text transform="translate(359.8 343) rotate(-90)" text-anchor="middle">I_Zscore</text>
</g>
<g>
<path d="M62 501.2 L63 500.3 L64 496.6 L65 496.9 L66 494.6 L67 494.3 L68 494.1 L69 497.5 L70 495.7 L71 493.4 L72 493.9 L73 493.5 L74 492.8 L75 495 L76 489.9 L77 491.3 L78 492 L79 492.1 L80 488.3 L81 491.3 L82 489.1 L83 489.8 L84 488.2 L85 491.1 L86 494 L87 491 L88 489 L89 486.8 L90 490.1 L91 490.3 L92 487.1 L93 489.7 L94 485.8 L95 486.3 L96 488.1 L97 485.8 L98 488.5 L99 489.2 L100 487.2 L101 487.6 L102 488.9 L103 487.3 L104 488.2 L105 488.2 L106 484.8 L107 489 L108 487.5 L109 486 L110 486.7 L111 485.9 L112 485.7 L113 483.9 L114 484.5 L115 484.5 L116 486.2 L117 485.3 L118 485.1 L119 484.2 L120 485.9 L121 480.8 L122 482.8 L123 485.1 L124 483.1 L125 484.4 L126 485.5 L127 484.3 L128 481.2 L129 482.7 L130 481.3 L131 483.4 L132 484.1 L133 482.3 L134 483.1 L135 482.1 L136 484.8 L137 482.3 L138 482.4 L139 482.7 L140 483.3 L141 482.7 L142 481.6 L143 481.6 L144 482.1 L145 482.1 L146 480.7 L147 480.4 L148 480.7 L149 481.5 L150 480.2 L151 479.3 L152 480.2 L153 479.8 L154 481.1 L155 479.3 L156 479.2 L157 482 L158 479.8 L159 477.8 L160 480.3 L161 478 L162 477.2 L163 478.8 L164 475.9 L165 477.4 L166 478 L167 478 L168 476 L169 475.8 L170 476.1 L171 477.6 L172 473.3 L173 476.5 L174 475.6 L175 476.8 L176 473.2 L177 476.1 L178 473.4 L179 474.8 L180 473.8 L181 470.9 L182 474 L183 474.5 L184 475.1 L185 473 L186 472.2 L187 474.5 L188 473 L189 474.8 L190 475.2 L191 472.9 L192 472.9 L193 472.1 L194 470.2 L195 472.8 L196 473.7 L197 474 L198 472.5 L199 474.9 L200 471.8 L201 472.5 L202 471.8 L203 472 L204 472.3 L205 471.8 L206 472.2 L207 473.2 L208 473 L209 471.5 L210 473.6 L211 471.9 L212 473.6 L213 473.2 L214 470.6 L215 471.8 L216 474.5 L217 472.4 L218 472.5 L219 472.8 L220 473.6 L221 474.2 L222 473.1 L223 476.1 L224 473.4 L225 473.9 L226 474.6 L227 475.5 L228 477.5 L229 479 L230 475.8 L231 476.4 L232 477.8 L233 477.1 L234 478.8 L235 476.6 L236 479.5 L237 475.7 L238 479.7 L239 480.2 L240 483 L241 478.8 L242 481.3 L243 481.7 L244 479.9 L245 481.9 L246 480.9 L247 480.8 L248 480.7 L249 482.9 L250 482.1 L251 481.2 L252 484.7 L253 482.4 L254 486.1 L255 485.8 L256 484.8 L257 484.2 L258 485.6 L259 485.4 L260 487.1 L261 487.6 L262 491.8 L263 485.9 L264 488.2 L265 490 L266 490.9 L267 491.6 L268 488.7 L269 490.9 L270 485.8 L271 489.3 L272 490.6 L273 490.2 L274 487.2 L275 487.9 L276 486.1 L277 488 L278 487.1 L279 489.4 L280 488 L281 489.8 L282 488.8 L282 489.3 L281 491.3 L280 489.5 L279 492.1 L278 489.7 L277 493.1 L276 489.9 L275 490.4 L274 490.9 L273 491.2 L272 492.1 L271 493.1 L270 492.5 L269 492.5 L268 491.1 L267 492.1 L266 492.7 L265 490.9 L264 492.7 L263 495.8 L262 493.1 L261 493.6 L260 496 L259 496.1 L258 497.1 L257 499.7 L256 498.1 L255 502.4 L254 498.9 L253 501 L252 499.2 L251 501.1 L250 498.2 L249 499 L248 501.4 L247 502.1 L246 500.4 L245 503.9 L244 500.9 L243 504.6 L242 502 L241 505.8 L240 506.6 L239 503.9 L238 507.2 L237 505.2 L236 507.4 L235 506.9 L234 507.9 L233 506 L232 510.2 L231 509.2 L230 510.4 L229 509 L228 510.4 L227 510.3 L226 511.3 L225 509.7 L224 509.6 L223 514.4 L222 511.5 L221 512.4 L220 510.6 L219 512 L218 510.5 L217 510.2 L216 513 L215 509.5 L214 511.5 L213 509.4 L212 513.3 L211 511.1 L210 512.2 L209 512.4 L208 512.2 L207 511.6 L206 514.9 L205 513.8 L204 513.3 L203 510.9 L202 511.7 L201 511.5 L200 511.4 L199 510.2 L198 513.4 L197 513.5 L196 514 L195 512.5 L194 512 L193 512.8 L192 513.6 L191 514.8 L190 514.5 L189 513.2 L188 513.7 L187 511.5 L186 510.7 L185 515.9 L184 510.8 L183 511.8 L182 511.4 L181 512.7 L180 514.7 L179 514 L178 511.6 L177 514.8 L176 512.1 L175 514.1 L174 513.1 L173 514.8 L172 513.2 L171 513.2 L170 515.9 L169 516.4 L168 514.3 L167 512.9 L166 516.2 L165 514.4 L164 513.6 L163 515.4 L162 513.4 L161 514.9 L160 514.8 L159 514.1 L158 514.7 L157 512.6 L156 515.4 L155 513.2 L154 515.6 L153 515 L152 511.3 L151 513.8 L150 516.4 L149 513.3 L148 513.8 L147 512.7 L146 514 L145 515.4 L144 516.3 L143 514.8 L142 515 L141 513.3 L140 515.2 L139 512.8 L138 514.4 L137 513.9 L136 515.6 L135 512.8 L134 513.2 L133 515.7 L132 512.3 L131 511 L130 512.9 L129 511.3 L128 512.8 L127 512.8 L126 512.1 L125 511.8 L124 514.5 L123 516.6 L122 510.7 L121 513.7 L120 512.4 L119 511.3 L118 513.3 L117 511.5 L116 514.3 L115 514.3 L114 514 L113 511.6 L112 512.8 L111 513.5 L110 512.6 L109 512.4 L108 510.1 L107 513.1 L106 512.6 L105 512.9 L104 510 L103 513 L102 510 L101 510.9 L100 510.3 L99 510.1 L98 514.6 L97 512.8 L96 509.8 L95 511.1 L94 511.5 L93 509.9 L92 510.5 L91 512.6 L90 514.4 L89 512.2 L88 509.2 L87 508.9 L86 511 L85 509.7 L84 508.3 L83 507.6 L82 506.8 L81 508.2 L80 509.2 L79 506.2 L78 508.2 L77 507.3 L76 506.3 L75 507.3 L74 503.9 L73 502.2 L72 500.1 L71 502.2 L70 499.6 L69 502.3 L68 503.2 L67 502.1 L66 502.6 L65 498.6 L64 501.7 L63 502.2 L62 501.7Z" fill="#7f7f7f" stroke="none"/>
<path d="M172.5 472.2h0M251.3 484.5h0M197.7 473.2h0M222.9 473.1h0M191.1 473h0M98.8 486.6h0M271.6 485.2h0M66.8 496.1h0M70.8 495h0M185.7 471.6h0M119.7 482.2h0M256.6 476.9h0M261.3 482.9h0M150 477h0M88.2 490.1h0M209.3 469.6h0M168.4 477h0M280.1 488.8h0M169.3 471.8h0M224.6 469h0M272.7 488.1h0M265.1 482.5h0M101.9 486.1h0M180.7 474.3h0M203.9 473.1h0M245.9 480h0M259.4 485.6h0M263.9 485h0M218.4 470.9h0M252.7 474.8h0M261.4 485.1h0M93.3 486.2h0M277.7 485.9h0M157.3 478.9h0M68.3 497.2h0M142.3 479.9h0M230.4 470.9h0M169 475.6h0M220 473.5h0M250.8 483.8h0M153 480.2h0M123.4 479.8h0M245.1 474.2h0M87.3 486.1h0M268.4 489.3h0M256.1 483.7h0M159.1 476.8h0M197.7 472.6h0M244.1 481.3h0M265.1 489.4h0M277.5 487.6h0M198.5 470.5h0M178.5 474.1h0M79.6 488.9h0M281.3 487.7h0M140.1 481.3h0M127.3 483.3h0M263 482.9h0M246.1 479.8h0M194.7 469.1h0M229.1 469.4h0M269.4 485.5h0M190.7 470.3h0M79.4 490.8h0M281.8 486.3h0M276.1 488.4h0M265.4 489h0M121.3 482.3h0M147.8 478.9h0M77.1 491.6h0M215.3 470.5h0M268.5 482.3h0M208.2 472.3h0M94.4 486.2h0M101 486.2h0M247.1 480.5h0M129.8 479h0M247.9 477.9h0M218.9 474h0M171.5 473.3h0M185.5 470.5h0M255.4 482.1h0M273.9 489.5h0M107.5 483.9h0M249.1 480.7h0M223.7 470.2h0M131 482.1h0M120.6 483.4h0M126 481.2h0M273.5 488.6h0M241.9 473.2h0M61.9 498.7h0M178.6 470.8h0M244 475.2h0M122.2 483.8h0M183.4 471.4h0M153.8 478.5h0M198.8 471.7h0M90.4 487.7h0M232.6 477.1h0M92.9 489.2h0M200 467.7h0M111.4 483.7h0M222.1 470.1h0M83.4 490.2h0M135.4 483.1h0M249.3 483.7h0M92.3 488.4h0M123.7 483.6h0M225.3 472.7h0M219.3 472.9h0M81.8 487.4h0M207.7 472h0M267.8 488.4h0M96.3 487.5h0M168.2 476.6h0M74 494.1h0M232.6 473.7h0M88.4 489.1h0M170.5 475.1h0M117.7 481.4h0M247.4 476.4h0M118 481.2h0M145.8 479.3h0M235 472.9h0M85.1 487.8h0M209.2 471.6h0M110 482.8h0M114.5 484.6h0M281.7 488.7h0M84.8 488.8h0M136 480.7h0M159.1 477h0M240.3 475.9h0M118.7 485h0M99.6 484.7h0M141.3 479.2h0M221.1 468.5h0M274.9 488.4h0M215.6 472.9h0M66.7 494.9h0M169.3 476.8h0M209 472.1h0M251.5 474.5h0M278 488.2h0M101.9 485.9h0M254.3 482.3h0M239.6 474.3h0M229.9 472.6h0M210.4 472.1h0M230.2 472.2h0M155.2 478.4h0M82.9 490h0M137.8 481.5h0M69.6 495.1h0M249.8 480.7h0M139.9 482.6h0M265.9 490.2h0M214.3 473.1h0M237.9 474.6h0M201.1 467.7h0M259.7 488.4h0M246.9 483.1h0M100.4 486.2h0M235.7 472.4h0M255.6 477.9h0M237.6 478.9h0M255.5 484.2h0M236.6 474.6h0M186.6 470.2h0M83.7 487.4h0M131.9 482.3h0M241.2 475.4h0M147.3 479.4h0M247.1 481.5h0M253.6 478.8h0M281.3 489.3h0M264.2 483.6h0M277.3 488h0M133.3 480.1h0M88.7 486.7h0M257.5 486h0M155.3 478.5h0M262.8 480.5h0M241.3 475.6h0M277.9 487.8h0M122.6 484h0M144.1 481.6h0M236.5 475.3h0M65.2 495.6h0M236.4 472.8h0M209.7 469.3h0M195 470.7h0M82.8 486.8h0M245.4 478h0M77.7 490.5h0M237.5 471.3h0M253 477.8h0M135.9 479.4h0M259.7 485.3h0M130.4 481.6h0M167.8 477.1h0M252.7 477.5h0M263.2 487.4h0M268.5 485.6h0M248.9 483.7h0M69.3 495.9h0M257.6 486.5h0M260.3 485.3h0M266 485.1h0M158.1 477.8h0M102 487.5h0M253.5 481.5h0M141.9 482.4h0M175.7 473.7h0M263.7 482.4h0M115.3 483.7h0M142.8 480.9h0M157.3 477.5h0M253.3 480.6h0M272.2 487.9h0M111 485h0M143.6 479.4h0M248.3 478.2h0M124.5 481.8h0M220.9 473.7h0M187.4 469.3h0M257.3 478.2h0M139.1 482.2h0M203.1 469.5h0M218.4 472.4h0M74.3 491h0M81 490h0M121.9 482.3h0M74.6 491.6h0M170.3 474.1h0M213.3 470.8h0M195.1 470.6h0M229.4 473.9h0M215.5 471.5h0M240.6 479.8h0M259.1 482.4h0M69.5 495.8h0M81.4 491.7h0M71.1 493h0M210.6 470.5h0M108.1 485.5h0M196.1 470.4h0M143.3 477.1h0M179.5 474.6h0M183.3 471.3h0M220 467.8h0M70.3 496.4h0M197.9 472.4h0M149 480.5h0M211 468h0M173.9 476h0M68.5 495.5h0M184.8 473.6h0M210.1 473.1h0M259.7 488.4h0M192.5 472.2h0M142.8 481.2h0M70.1 495.5h0M110.4 483.3h0M271.2 487.7h0M209.1 472h0M265.6 486h0M93.9 487.3h0M108.9 483.9h0M262.2 483.8h0M75 492.4h0M192.8 468h0M232 470h0M204.9 470.3h0M233.3 472h0M76 492.8h0M210 468.3h0M206.2 468.7h0M249 479.7h0M193.9 472.7h0M154.6 478.5h0M187 470.8h0M111.4 484.5h0M249.5 479.3h0M207.4 471.8h0M139.6 480.1h0M238.4 473.3h0M152 477.5h0M200.2 472.4h0M279.1 485.5h0M269 485.8h0M184.7 473.2h0M137.9 478.9h0M244.9 480.8h0M275.3 489.1h0M259.7 481.2h0M219.6 468h0M246.4 480.4h0M282.2 487.9h0M147.1 480.6h0M88.6 487.6h0M245.6 474.7h0M267.2 482.4h0M215.7 470.6h0M149.4 478.7h0M170.7 475.4h0M64.1 497.5h0M244.7 482.1h0M277.8 489.1h0M103.8 486.7h0M217.5 471h0M181.9 472.1h0M228.4 476.2h0M275 488.6h0M254.7 479.7h0M226 470.3h0M73.4 492.3h0M158 477.8h0M156 480.4h0M242.3 477.6h0M101.6 483.1h0M131.8 482.9h0M94.9 488.1h0M236.8 473h0M62 497h0M168.3 473.6h0M160.9 477.5h0M264.3 489.6h0M77.9 489.2h0M244.4 473.2h0M185.8 472.1h0M153.9 479.5h0M72.2 495.2h0M171.5 475.4h0M275.4 487h0M244.9 475.6h0M107.9 486.4h0M98.6 486.5h0M206.6 473.5h0M229 473.4h0M268.3 487.1h0M271.1 487.2h0M261.4 486.9h0M99.5 487.8h0M185 470h0M125.7 479.8h0M224.4 472.1h0M135.7 478.4h0M182.1 473.2h0M263.7 486.8h0M139.4 481.4h0M262.3 488.7h0M223 473h0M139.4 481.2h0M236.2 473.9h0M232.1 475.9h0M171.2 475.2h0M257.4 479.9h0M246.9 479.2h0M220.2 471.1h0M234.9 476h0M255.2 484.8h0M215 472.1h0M243.3 477.3h0M196 469h0M185 473h0M164.6 477.8h0M166.6 477.7h0M255.4 475.3h0M164 475.8h0M213.5 469.4h0M167.9 473.6h0M218.6 471.4h0M98.2 487.7h0M70.8 494.4h0M164.1 478.2h0M138.5 480.6h0M259.4 478.1h0M248.7 480.6h0M258.9 483.9h0M193.9 472.6h0M231 471.5h0M247.4 474.5h0M154.4 478.7h0M91.9 487.9h0M274.9 489.1h0M269.2 486.1h0M81.8 491h0M112.7 485.1h0M256.4 484h0M232.2 476.2h0M250.9 478.6h0M193.7 470.9h0M128 480.1h0M114.9 482.7h0M265.8 483h0M208.1 472.6h0M204.7 470.8h0M222.8 469.6h0M236.1 474.9h0M141.9 481.5h0M85.9 487.8h0M267.2 487.9h0M114.6 483.4h0M244.3 474.5h0M184.5 472.4h0M156.4 478.7h0M268.4 487.3h0M241.5 476.1h0M248.8 474.8h0M146.6 479.9h0M240.6 475.8h0M164.7 475.2h0M245.6 475.7h0M261.4 488.1h0M87.1 488.4h0M252.8 484.6h0M161.7 478.9h0M72.5 494.6h0M237.5 470.7h0M254.1 480.6h0M132 480.1h0M234.8 474.8h0M231 473.3h0M211.9 472.3h0M263.2 483.6h0M244.1 480h0M208.9 471.1h0M275.5 487.2h0M71 494.2h0M230.4 476.4h0M234.8 475.3h0M234.8 477h0M250.3 484.2h0M196.7 469.7h0M103.1 487.1h0M229.1 469.7h0M86.3 488.8h0M258.4 484.6h0M241.3 480.6h0M94.7 488.9h0M240.3 475.1h0M125.1 481.6h0M250.9 481.9h0M74.5 490.2h0M69.1 496.1h0M169.9 474.8h0M180.2 474.5h0M175.1 474.3h0M63.6 496.4h0M62.2 498.2h0M189.6 473h0M235.6 475.7h0M274.2 484.5h0M251.4 479.7h0M156.2 479.5h0M190.4 469.4h0M243.6 481.2h0M157.6 476.6h0M221 472.1h0M173.8 473.7h0M242.8 479.8h0M165.7 477h0M93.8 488.6h0M187.2 472h0M184.9 471.2h0M212 473.8h0M147.7 480.8h0M156.1 478.5h0M251.2 474.3h0M247.8 479.5h0M74 492.4h0M196.8 471h0M248.6 482.7h0M78.7 490.3h0M187.5 473.7h0M118.4 482.1h0M208.5 469.6h0M173.7 472.3h0M228.3 475.2h0M227.1 473.7h0M80.3 491.8h0M168.1 475h0M79 491.7h0M271.9 484.3h0M75.9 491.3h0M119.4 484.5h0M96.8 486.4h0M99.7 486.7h0M210.5 470.4h0M132.8 479.3h0M241.6 481h0M276.8 488.6h0M256.3 477.8h0M150.3 481.2h0M135.4 480.9h0M106.4 482.9h0M241.5 479.3h0M89.8 485.7h0M279.7 488.8h0M254.4 480.9h0M242.4 475.8h0M271 489.9h0M64.8 495.3h0M102.7 484.2h0M198.5 473.2h0M233.1 475h0M93.1 485.1h0M205.7 472h0M79.7 490.5h0M170.9 475.5h0M103.4 487.3h0M250.3 483.6h0M246.8 477.5h0M254.6 484.1h0M175.1 470.6h0M109.2 482.8h0M246.4 476.5h0M181.1 472.9h0M98.8 485.2h0M68 497.4h0M147.2 477.1h0M223.7 468.5h0M196.4 470.8h0M173.6 473.5h0M65.5 495.4h0M207.8 473.6h0M282.3 487h0M116.1 484.3h0M249.8 484.3h0M85.8 489.1h0M247 474h0M180.3 472.5h0M242.5 479.3h0M229.2 473.8h0M158.6 475.8h0M257.4 486h0M188.3 469h0M279.2 489.2h0M249.3 483h0M67.5 497.3h0M247.2 474.6h0M217 471h0M265.5 484.5h0M220.4 472.3h0M224 474.5h0M223.3 472.9h0M127.2 483.5h0M194.2 471.1h0M260.9 482.8h0M109.2 484.7h0M170.5 475.2h0M249.5 482.3h0M261.7 483h0M113.7 485.3h0M139.5 478.1h0M245.4 478.5h0M246.3 478.5h0M143.3 478.4h0M99.3 487.8h0M86.4 486.5h0M266.7 482.2h0M273 488h0M66.9 497.2h0M169.9 473.2h0M145.2 482h0M180.9 471.4h0M207.4 469.9h0M192.6 473.3h0M213.7 473.9h0M205.4 473h0M206.8 470.1h0M264.9 486.6h0M143 477.4h0M119.2 484.8h0M259.4 477.4h0M196.2 468h0M88.7 488.9h0M243.4 481.2h0M212.8 469.3h0M240.6 475.6h0M138.5 479.7h0M263.3 488.2h0M115 485.6h0M252.7 483.3h0M148.6 477.5h0M260.5 488.3h0M256.3 478.7h0M252.3 483.7h0M238.9 478.1h0M249.7 479.6h0M251.9 476.1h0M242.2 476.9h0M90.1 487.7h0M167.6 473.9h0M261.4 482.3h0M69.1 493.5h0M114.1 484.9h0M256.1 476.3h0M261.1 478.1h0M249.5 477.5h0M234.7 478.4h0M213.2 472.1h0M138.1 479.4h0M165.5 477.4h0M138.2 481h0M182.7 473.5h0M220.9 473.5h0M195.4 471h0M281.6 488.5h0M257.3 479h0M215 473.6h0M100.5 484.1h0M140.3 481.2h0M95.7 485.9h0M118.8 484.5h0M166 477.7h0M105.8 486.9h0M120.3 484.2h0M279.5 488.9h0M192.4 471h0M100 485.8h0M260.3 479h0M190.8 471.2h0M270 486.6h0M232 476.2h0M230.9 477.2h0M253.7 480.4h0M84.4 490.6h0M206.2 467.5h0M253.9 479.7h0M69.8 496.7h0M236.6 476.5h0M202 473h0M124.8 484.4h0M123.4 483.2h0M278.6 484.7h0M264.7 489.1h0M265.2 479.5h0M84.8 489.3h0M236.8 477.5h0M202.4 468.1h0M81.7 490.5h0M250.7 483.6h0M94.8 484.8h0M250.9 475.3h0M108 483.7h0M270.2 484.6h0M240.6 477.4h0M193.7 469.3h0M176.4 473.8h0M213.2 471.6h0M79.6 491.6h0M262.1 484.7h0M250.3 477.9h0M256.7 485.1h0M266 489.3h0M231.3 477h0M220.8 472h0M248.2 482.8h0M166.9 476h0M263.1 484.2h0M131.1 483.4h0M223.6 470.4h0M207.2 473.2h0M254.3 485h0M265.7 484.8h0M156.6 475.4h0M197 472.9h0M169 474.1h0M153 479.4h0M269.4 489.3h0M229.6 473.6h0M247.1 479.8h0M112.3 484.9h0M259.3 479.1h0M253.2 480.7h0M128.7 480.3h0M132.7 483.2h0M208.9 468.2h0M224.3 473.9h0M157.6 477.9h0M264.6 489.6h0M255.4 484.6h0M179.9 473.1h0M88.1 487.1h0M132.4 480.2h0M137.6 481.1h0M226.9 474.7h0M216.3 471h0M276.7 488.1h0M214.4 473.2h0M173.2 472.6h0M201.9 469.4h0M249.3 482.7h0M240.9 480.5h0M259.4 481h0M171.5 472.9h0M218.1 473.8h0M251.2 481.6h0M88.7 487.2h0M190.7 472.6h0M232.9 472.4h0M254.8 486h0M276 486.9h0M86.7 489.8h0M274.2 485.6h0M74 494.5h0M245.7 476.7h0M81.6 490h0M90.1 487h0M164.5 478.1h0M255.5 477.9h0M154.5 478.2h0M63.9 498.6h0M199.4 468.6h0M170.6 476.1h0M94.5 487.6h0M62.6 498.1h0M243.5 475.3h0M155.6 477h0M152 481.1h0M187.3 470h0M92.2 488.9h0M242 475.3h0M218.6 473.6h0M127.1 482.6h0M226.1 475.1h0M181.3 471.9h0M167 476.1h0M193.8 471.2h0" stroke="#787878" stroke-width="1.5" stroke-linecap="square" fill="none" opacity="1"/>
<path d="M157.7 516.3h0M207.4 513.1h0M153 514h0M276.5 493.8h0M94 512.4h0M240.7 508.5h0M185.6 513.5h0M188.1 515.4h0M216.4 513.1h0M166 513.8h0M247.4 503.9h0M231.9 511.3h0M204.5 513.7h0M195.4 514h0M223.9 511.2h0M247.9 504.2h0M121.5 512.3h0M109.9 512.9h0M116.7 513h0M184.9 512.8h0M213.1 513.3h0M193.4 512.7h0M253.3 504.9h0M237.9 511.8h0M239.4 508.7h0M214.1 513.9h0M275.8 489.8h0M70.7 502.5h0M202.6 511.9h0M176.7 516.6h0M279.7 493h0M164.7 516.9h0M189.7 514.7h0M250.9 504.9h0M191.5 514.5h0M114.7 514.3h0M137.1 515.1h0M212 513.3h0M181.1 514.6h0M226.2 513.4h0M143.2 513.6h0M276.7 492h0M171.2 514.5h0M181.3 515.3h0M233.2 509h0M260 496.3h0M261.6 501h0M218.7 513.3h0M262 499.5h0M238.8 508.4h0M172.9 516.6h0M205.8 514.7h0M169 517.3h0M255.3 503.6h0M226.6 513.3h0M214.5 515.3h0M170.7 515.6h0M249.3 509.4h0M149.7 513.8h0M163.8 513.9h0M64.4 500.4h0M100.5 512.5h0M169.1 515.5h0M168.2 516.9h0M192.8 514.6h0M237.6 507.2h0M151.8 514.2h0M120.8 515.1h0M233.8 510.3h0M247.1 501.4h0M267.7 492.3h0M208.9 513.2h0M81.1 508h0M172.5 517.4h0M242.1 505.4h0M187.2 513.4h0M112 511.5h0M273.3 493.9h0M260.5 497.3h0M148.9 513.6h0M105.7 512.8h0M203.9 512.3h0M144.8 513.6h0M211.2 514.9h0M249.1 500.6h0M157.2 516.9h0M179.9 516.6h0M232.7 508.2h0M215.7 512.1h0M67 501.5h0M168.7 513.5h0M107.9 513.5h0M262.4 497.5h0M200.8 515.3h0M254.6 505.2h0M151.5 515.3h0M81.3 508.9h0M264.6 501.6h0M264.4 494.3h0M225.1 511.1h0M106.7 512.4h0M84.2 508.2h0M239.9 508.7h0M215.4 515.7h0M173.5 515.4h0M224.6 511.4h0M79.4 508.1h0M132.5 514.2h0M277.4 489.2h0M197 514.9h0M194.6 512.9h0M277.9 490.1h0M196.8 512.1h0M77.2 508.2h0M241.2 509.2h0M210.9 512.2h0M148.2 514.4h0M213.5 514.4h0M158.7 514.9h0M245.6 506.4h0M276.7 491h0M83.8 509.9h0M249.7 506.4h0M262 499.8h0M245.5 503.1h0M222.4 513h0M157.3 515.3h0M184.3 512.9h0M109.6 513h0M80.6 509.2h0M245.2 506.4h0M99.9 513.3h0M77.7 507h0M144.6 515.4h0M65.8 501.9h0M229.9 512.2h0M213.5 513.1h0M194.9 514.3h0M87.7 510.9h0M212.4 516.4h0M243.2 505.5h0M171.7 514.3h0M152.6 514.1h0M192.3 513.1h0M156.3 514.3h0M182.5 514h0M224.6 511.2h0M75.1 505.1h0M158.3 515.3h0M102.9 512.4h0M139.7 513.7h0M256.6 502.5h0M183.8 513.6h0M197.9 513.5h0M162.2 513.8h0M272.6 489.8h0M263.3 497.5h0M80.6 509.2h0M147.8 516.8h0M193 512.4h0M251.5 499.3h0M165.8 514.6h0M125.4 513.9h0M111.4 514.1h0M261.3 497.1h0M184.8 514.5h0M170 513.4h0M194.3 512.8h0M279.5 492.6h0M244.9 504.1h0M141 515.8h0M128.1 512.6h0M102.7 511.5h0M266.8 493h0M198.5 513.1h0M243.6 505.5h0M264.3 495.8h0M83.1 509h0M134.5 513.2h0M189.1 514.3h0M251.9 503.3h0M195.5 515h0M163.1 517.3h0M86.1 509.5h0M191.3 515.8h0M126.8 514.8h0M275.1 492.2h0M263.3 502.5h0M187.7 512.7h0M90.7 510h0M182.3 515.7h0M277.4 489.4h0M235.2 507.2h0M206.1 511.8h0M184.6 516.3h0M130.3 513.3h0M112.5 512.1h0M192.4 515.8h0M276 492.7h0M271.6 491h0M261.9 494.7h0M173.4 515.9h0M228.2 514.6h0M124.7 512.5h0M147.5 513.3h0M123.2 514.9h0M180.3 515.4h0M79.6 507.2h0M262.1 494.6h0M270.3 491.6h0M129.7 512.7h0M168.8 516.3h0M137.4 516.1h0M244 505.5h0M279.3 489.8h0M270.3 491.6h0M77 508.7h0M269.9 494.4h0M201.2 515.9h0M115.9 513.7h0M163.2 514.2h0M212.6 512.2h0M180.2 516h0M230.3 513.3h0M91.3 509.5h0M233 508.4h0M172.3 514.3h0M260.7 500h0M230.5 508.9h0M80.4 508h0M277.6 491.1h0M133.7 515.3h0M222.8 510.9h0M184.5 514.4h0M224.7 512.2h0M109.9 512.3h0M147.7 513.6h0M140.4 513.9h0M190.6 515.1h0M178.8 517.4h0M185.7 516.9h0M185 516.6h0M180.6 516.5h0M257 496.9h0M200.7 515.8h0M231.3 509h0M222.9 514.6h0M220.9 514.3h0M265.4 499h0M272.7 492.2h0M73 504.4h0M188.2 514.6h0M279 492.7h0M133.5 514.2h0M210.5 513.2h0M178.6 513.6h0M231.4 510.6h0M254.4 508.2h0M237.6 506.5h0M142.3 515.3h0M235.8 511h0M246.8 509.7h0M102 513h0M232.6 510.5h0M71.3 503.3h0M189.5 513.9h0M173.8 515.4h0M115.5 512.1h0M241.4 506.1h0M241.9 510.2h0M238 505.7h0M238.1 511.8h0M245.6 507.1h0M219.7 511.3h0M275.1 491.8h0M228.9 510.6h0M217 513.8h0M251.7 502.1h0M147.5 516.7h0M273.9 491.8h0M231.7 507.6h0M173.5 514.1h0M155.1 514.3h0M173.9 513.6h0M280.2 489h0M170.2 516.5h0M105.6 511.4h0M262.6 493.3h0M121 512.1h0M172.9 515.5h0M170.9 514.8h0M119 512.8h0M124.9 514.3h0M261.3 497.7h0M272.1 492.1h0M65.8 501.8h0M184.9 513.7h0M261.7 495.1h0M159.1 516.5h0M70.4 501.3h0M263.1 498h0M252.4 499.4h0M72.3 502.9h0M250.1 501.6h0M193.3 512.9h0M231.2 510.8h0M116.5 513.3h0M171.1 517.1h0M274.3 494.2h0M197.3 511.9h0M183.8 514.1h0M261.7 500.1h0M230.5 514.1h0M208.7 513.1h0M76.7 506.3h0M245.8 502.7h0M150.6 515.8h0M166.7 516.1h0M144.6 514.7h0M188.7 514.8h0M262.9 500.1h0M219.3 513.3h0M256.4 499h0M273.1 493.3h0M246 502.6h0M110 513.3h0M137.4 513.8h0M72.4 503.8h0M260.1 499.7h0M122.8 513.9h0M258.3 498.7h0M139.4 515.7h0M264 501.5h0M84.7 510.8h0M252 507.7h0M268.8 493.4h0M203.6 512.5h0M168.1 516.5h0M229.1 511.1h0M271.1 491.5h0M104.6 512.4h0M241.2 506.7h0M189.9 514h0M264.8 500.8h0M113.8 512.8h0M252.9 501.2h0M218 514.4h0M232.3 512.5h0M209.1 514.3h0M185.5 512.8h0M133.9 513.3h0M240.2 511.3h0M199.9 514h0M269.5 490.4h0M121.5 513.8h0M87 510.2h0M240.7 505.6h0M257.4 502.7h0M237.6 506.5h0M202.6 516.2h0M91.6 511h0M87.7 509.1h0M195.1 514h0M266.4 498.5h0M121.9 512.3h0M244.4 509.4h0M252.8 506.7h0M256.8 497.2h0M244 509.2h0M232.3 507.6h0M244.2 507h0M204.9 513.8h0M216.8 515.9h0M264.8 496.3h0M257.4 500h0M92.8 510h0M170.7 515.8h0M150.8 516.3h0M67.9 501.4h0M73.5 506.6h0M192 515.6h0M138.4 513.8h0M280.4 489.5h0M158.1 514.5h0M162.2 515.1h0M69.6 501.5h0M243.9 510.6h0M278.6 490.3h0M253.6 499.7h0M262 498.4h0M79.3 508.5h0M97.6 510.7h0M158.5 514.6h0M190.3 513.7h0M116.9 514.1h0M71.6 503.3h0M212.4 512.7h0M279 489.6h0M188.3 514.2h0M124.4 513h0M141.6 515h0M121.7 512.8h0M68.4 501h0M237.8 506h0M245.1 507.3h0M276 489.8h0M183.7 513.2h0M102.8 512.8h0M103.6 513.1h0M205 511.8h0M253.1 499.4h0M85.5 508.8h0M257.3 499h0M132.8 513.8h0M80 507.2h0M110.6 514.2h0M238.8 505.8h0M78.6 509.1h0M217.1 512.3h0M272.8 492.9h0M194.4 513.6h0M271.6 490.6h0M144 513.4h0M245.5 505.2h0M273.8 491.6h0M150.4 513.6h0M267.5 493.1h0M265.6 491.4h0M265 492.1h0M186.9 515.4h0M73 506.3h0M156.3 514.1h0M186.3 514.1h0M164.8 516.8h0M243.1 505.1h0M238.5 506.2h0M135.7 514.6h0M203.7 512.4h0M262.1 497.2h0M235.9 507.6h0M249.8 502.7h0M259.3 496.7h0M215.5 511.4h0M246.7 503.9h0M221.6 515.1h0M131 514.2h0M84 510.2h0M215.4 512.5h0M257.5 496.5h0M263 494.2h0M254.1 500.2h0M198.1 515.8h0M241.5 510.6h0M202.1 512.5h0M256.2 498.9h0M164.8 514.7h0M192.1 513h0M246.9 507.9h0M265.4 497.4h0M257 505.8h0M109.1 512.3h0M108.7 514.5h0M139.2 513.9h0M159 514.2h0M106.7 513.5h0M272 494h0M210.7 513.1h0M75.8 507h0M179.8 513.1h0M202 513.7h0M250.1 500.1h0M254.3 502.3h0M121 514.4h0M164.4 513.7h0M264.3 494.4h0M194.5 513.1h0M224.8 510.4h0M276.6 491.5h0M189.4 515.7h0M87.5 510.2h0M214.7 511.7h0M132.1 512.9h0M133.6 513.7h0M165.4 515.9h0M185.8 513.8h0M121.6 515.2h0M255.6 501h0M62.9 501.7h0M269 496.1h0M234.1 507.7h0M140.6 515.8h0M63.7 500.2h0M142.8 516.2h0M268.6 492.5h0M173.6 516.2h0M174.8 515.9h0M101.9 511.5h0M241.2 504.6h0M157.5 514h0M158.7 514.6h0M88.2 511.2h0M112.5 512.8h0M117.7 514.6h0M278.6 492.6h0M221.6 515.3h0M272.7 492.8h0M163 515.5h0M202.3 514.2h0M266.4 500h0M249.4 507.6h0M223.8 512.9h0M238.3 508.9h0M82.1 508.7h0M275.2 493.1h0M273.2 495h0M244.8 502.5h0M182.4 515.1h0M160.9 515.7h0M151.6 513.9h0M121 512.2h0M73.1 505.5h0M67.1 501.1h0M197.1 514.9h0M201.5 516.5h0M145 515.3h0M202.3 513.8h0M279.2 489.2h0M159.1 516.3h0M269.1 495h0M151.4 514.1h0M212.7 515.1h0M233.3 511.9h0M107.9 513.6h0M261.2 496.9h0M117.5 513.7h0M171.9 515.3h0M215.3 512.3h0M263.9 493.7h0M260.7 496h0M172.7 513.3h0M233.4 507.5h0M148.5 515.4h0M181.3 516.8h0M169.8 516.8h0M215.4 515.1h0M188 513.5h0M279 489.7h0M172.4 514.6h0M261.5 499.1h0M271.2 496.5h0M262.9 496.3h0M275.3 494.9h0M259.8 502.8h0M190.7 513.6h0M227.1 509.9h0M255.1 503h0M199.9 513.1h0M250.9 507.7h0M251.4 503.2h0M232.7 510h0M134.2 514.2h0M176.9 514.1h0M262.5 494.8h0M176.5 515.1h0M221.3 511.6h0M122 513.5h0M211 513.5h0M267.6 498h0M241.1 504.4h0M265.3 493.4h0" stroke="#787878" stroke-width="1.5" stroke-linecap="square" fill="none" opacity="1"/>
<path d="M245.8 464h0M163.2 470h0M113.9 479.2h0M184.4 466.9h0M74.7 485.7h0M204.8 463.4h0M232.5 467.1h0M64.2 493.9h0M247.2 467.7h0M162 472.1h0M209.6 465.6h0M221.5 460.4h0M260.3 468.1h0M279.5 477.4h0M222 466.2h0M180.2 463.8h0M240.8 469.2h0M234.3 463.5h0M162.8 464.9h0M265.9 477.7h0M101.3 475.3h0M69 481.9h0M117 479.1h0M222.5 464.3h0M279.8 481.2h0M169.8 463.1h0M101.9 472.7h0M248.7 471.6h0M280.4 483h0M86.3 483.7h0M226.3 462h0M194.9 463.6h0M217.1 464.5h0M160.8 472.1h0M139.8 469.5h0M257.4 472.2h0M90.3 483.2h0M228.4 463.4h0M203.2 466.1h0M272.5 480.5h0M235.1 459.8h0M236.8 464.5h0M186.7 463h0M224.4 464.1h0M173.7 467.3h0M179.6 466.5h0M258.1 464.9h0M209.6 464.7h0M246 467.6h0M192.8 463.9h0M240.3 461.5h0M152.8 474.3h0M255.4 473.4h0M216.3 463.9h0M133.3 475.1h0M225.8 462.1h0M254.8 470.5h0M126.8 478.1h0M159.9 471.7h0M198.8 465.7h0M127.9 478.1h0M228.1 455.5h0M253.1 469.2h0M185.3 464.9h0M76.3 482.3h0M151.9 474.6h0M236.4 453.4h0M212.9 450.1h0M192.7 463.4h0M244.9 459.4h0M276.8 481.4h0M189.8 467h0M137.6 474.9h0M242.4 457.7h0M113.7 480.1h0M108.4 480.7h0M227.4 458.8h0M133.5 476.1h0M246.9 467.1h0M138.5 463.3h0M185.3 466.3h0M161.3 472.4h0M119.4 478.5h0M136 474.5h0M219.4 465.4h0M121.8 474.2h0M230.6 460.1h0M138.4 474.8h0M256.3 463h0M132.7 474.9h0M271.8 480.7h0M206 454.3h0M244.4 469.3h0M280.3 469.2h0M186.7 466.5h0M230.8 459.3h0M88.4 481.1h0M243.3 465.6h0M92.3 479.1h0M139.9 476.2h0M250.4 470.6h0M229.7 462h0M154.5 471.7h0M97.4 476.5h0M99.6 481h0M247.5 471.6h0M133 476.1h0M66.4 489.2h0M205 455.1h0M235.1 461.3h0M271 469.2h0M276 477.1h0M119.8 478.9h0M80.6 483.6h0M173 469.6h0M154 474.2h0M94.1 478.5h0M252.6 473.2h0M158.8 470.7h0M244.6 469h0M149.5 471.1h0M125.8 478.1h0M154.6 473h0M222.7 466.2h0M164.1 470.2h0M252 461.7h0M182.8 462.8h0M230.5 468.3h0M166.4 470.7h0M235.5 456.5h0M192.8 456.8h0M278.1 468.3h0M213.6 464.1h0M175.1 464.3h0M152 468.7h0M218.4 459.6h0M124.3 478.7h0M257.4 471.6h0M117.8 478.6h0M127.2 468.9h0M197.7 452.1h0M151.6 470.6h0M259.7 474.4h0M203.5 462.5h0M173.2 469.2h0M237.3 467.5h0M265.8 478.1h0M251.1 471.4h0M115 476.9h0M152.3 460.3h0M155.8 460.5h0M92.5 482h0M256.4 463.7h0M255.8 458h0M249.4 466.8h0M70.8 486.8h0M279.8 477.8h0M256.8 464.6h0M102.3 482.2h0M139.7 465.3h0M218.2 464.7h0M184 466.9h0M118 474h0M234.3 465.1h0M235.5 467.6h0M113.2 479.9h0M185.1 458.9h0M264.8 472.2h0M116.5 474.3h0M92.4 483.4h0M246.1 467.1h0M277.5 480.1h0M192.1 464.1h0M68.9 487.3h0M66.1 489.7h0M156.5 467.3h0M278.7 477.7h0M172.5 468.7h0M258.8 472.9h0M268 478.8h0M163 472.2h0M245.6 470.8h0M221.8 465.7h0M206.8 466.2h0M137.8 467.2h0M244.5 467.6h0M228.2 467.4h0M163.4 466.8h0M145.8 473.7h0M109.5 479.2h0M72.1 488.8h0M180 464.4h0M220.6 463.7h0M198.4 460.2h0M210.1 459.5h0M141.3 468.3h0M222.6 464.6h0M87.9 484.1h0M127.1 473.8h0M109.9 476.1h0M139.3 469h0M246.4 465.3h0M186.3 456.1h0M233.9 467.5h0M250.9 471.8h0M175 455.3h0M149.6 471.6h0M186.2 466.3h0M262.6 465.1h0M268.3 466.3h0M226.1 465.7h0M197.2 466h0M266.7 456.1h0M147.2 473.2h0M146.7 470.6h0M275.9 482.2h0M246.4 470.1h0M277.2 478.5h0M230.9 463.6h0M72.4 488.4h0M163.6 463.2h0M141.3 475.9h0M228.9 467.2h0M258.3 471.3h0M247.5 469.9h0M255.6 471.6h0M124 477.2h0M179.9 462.7h0M215.2 464.2h0M72 486.6h0M199.4 449.5h0M80.5 484.9h0M179.9 464.9h0M154.2 468h0M218.6 464.7h0M175.4 465.3h0M125.2 470.1h0M102.9 479.5h0M257.1 470.6h0M82.8 473.4h0M204 465.3h0M196.7 463.9h0M90.5 480.9h0M159.7 470.4h0M261.3 474.5h0M261.8 475.1h0M89.2 482.8h0M268.4 476.3h0M172.7 467.2h0M211.2 465.3h0M98.9 481.7h0M200.1 457.3h0M225.4 460h0M160.3 473.1h0M176.3 468.1h0M236.7 462.1h0M135.3 475.7h0M163.5 459.8h0M209.4 465.3h0M273.3 479.3h0M226.3 463.4h0M139.1 466.1h0M270.4 479.8h0M138.2 475h0M189.6 464h0M133.9 474h0M153.6 464.5h0M250.4 469.4h0M126.5 477.8h0M268 474.4h0M249.2 467.4h0M273.9 472.7h0M248.4 464.5h0M178.8 464.5h0M213.9 463.3h0M168.7 462h0M197.4 465.7h0M215.1 466h0M78.2 484.4h0M196.1 458.1h0M194.9 461h0M223.5 452h0M188.3 463.9h0M73.5 488.5h0M237.7 466h0M256.1 472.6h0M198.1 454.7h0M260.5 472.5h0M277 481.1h0M78.2 486.5h0M277.3 476.9h0M166 471h0M207.5 462.7h0M280 481.1h0M101.4 481.1h0M66 491.9h0M182.1 466.8h0M210.5 460.9h0M281.3 478.1h0M268.9 478.9h0M205.4 463.4h0M247.8 471h0M154.4 474h0M205.8 461.7h0M215.7 451h0M93.5 482.8h0M149.5 472.3h0M79 483.8h0M163.1 467.6h0M200.4 464.7h0M93.1 481h0M117 479.6h0M110.8 479.3h0" stroke="#787878" stroke-width="1.5" stroke-linecap="square" fill="none" opacity="1"/>
<path d="M140.7 519.2h0M135.4 519.4h0M191.5 522.2h0M79.7 512h0M258.9 512.6h0M270.4 499.8h0M168.1 519.5h0M231.1 515.3h0M278.4 495.6h0M254.7 512.9h0M192.6 521.2h0M81.2 511.5h0M170.9 519.1h0M128.7 516.5h0M79.7 511.1h0M88.7 512.8h0M197.4 519.6h0M241.9 513h0M70.6 507.7h0M129.8 518.5h0M239.4 516.8h0M235.8 516.8h0M111.9 517.4h0M241.9 513.5h0M266.1 503.2h0M264.8 505.9h0M263.3 505.1h0M243.9 516.3h0M281.8 494.2h0M220.7 517.5h0M235 515.7h0M77.4 511.3h0M197.5 519.1h0M245 512.6h0M262.3 505.5h0M277.4 496.1h0M141.1 517.4h0M104.8 518.3h0M67.2 506h0M145.1 519.8h0M260.9 510.4h0M198.1 519.5h0M70.5 506.1h0M172.8 520.9h0M191.7 521.5h0M250.1 510.5h0M228.1 518h0M236.8 516.5h0M211.9 519.2h0M237.5 515.3h0M229.5 517.6h0M263.8 503.6h0M223.4 519.9h0M255.1 509.7h0M156.4 519.8h0M237 516.1h0M67.1 505.3h0M63.2 506.3h0M211.1 517.9h0M203.6 522.4h0M84.9 512.3h0M176 519h0M120 518.9h0M251.5 511.8h0M172.8 519.4h0M199.2 517.7h0M87.9 513.7h0M229.3 517.5h0M130.8 520.9h0M264.2 506.4h0M259.5 506.6h0M80.3 511h0M120.1 517.3h0M88.5 513.4h0M268.1 502.3h0M234 517.1h0M67.7 509.6h0M217.4 520.2h0M246.7 511.8h0M66.9 505.1h0M117.5 517h0M96.4 516.4h0M87.2 513.6h0M222.6 518.3h0M96.2 514.9h0M238.1 514.3h0M184.5 518.4h0M96.4 516.4h0M191.6 517.8h0M269.5 500.9h0M268.6 500.1h0M280.3 494.3h0M211.9 517.4h0M96.4 516.7h0M101 516.2h0M253.5 509.9h0M210.4 519.5h0M271.8 498.9h0M267.2 507.9h0M235.4 516.6h0M198.2 520.7h0M271.8 502.2h0M194.3 523.8h0M217.5 517.9h0M280.7 493.6h0M256.3 509.7h0M213.5 517.5h0M95.6 514.8h0M268.1 501.9h0M63.2 503.4h0M223.8 516.8h0M231.5 515.5h0M157.1 519.6h0M118.7 519.1h0M215.9 519.1h0M278.2 498.4h0M197.6 519.3h0M225 516.4h0M177.7 519.2h0M123.2 516.9h0M223.9 520h0M245.1 519.4h0M203.8 517.4h0M266.2 502.3h0M280.6 498.3h0M94.1 518.1h0M240.2 521.6h0M209.4 521.3h0M81.1 514.8h0M163 524h0M158.4 518.2h0M277.2 495.9h0M90.4 515.1h0M268.1 501.7h0M274.4 509.3h0M154.5 518.2h0" stroke="#787878" stroke-width="1.5" stroke-linecap="square" fill="none" opacity="1"/>
<path d="M153.2 513.7h0M244.8 497.4h0M232.4 477.7h0M135.8 483.9h0M119.4 510.2h0M173.8 482.2h0M224.8 476.6h0M90.6 489.4h0M203.9 473h0M165.1 513h0M220.9 511.1h0M81.3 491.3h0M197.5 505.7h0M139.7 483.3h0M196.1 473.2h0M93.6 490.1h0M257.4 486.9h0M239.7 480.8h0M154.9 509.5h0M165.8 477.8h0M239.8 503.5h0M209.4 480.5h0M172.8 489.7h0M102.7 510h0M136.3 488h0M194 476.4h0M229.2 480.1h0M119.2 502h0M195.6 512.3h0M158.2 513h0M224.5 480.4h0M99.2 489h0M84.2 490.5h0M208.1 508.3h0M102.1 487.2h0M223.3 510.6h0M239.4 492.5h0M200.8 480.5h0M239.2 479.6h0M197.2 508.3h0M240 504.8h0M241.4 499.6h0M90.5 509.9h0M96 505.7h0M84.4 507.3h0M202.9 511.4h0M257.2 497.1h0M226.5 476.4h0M114.3 487.2h0M254.7 498h0M229.4 508.8h0M105.6 509.7h0M130.1 486.7h0M101.5 510.6h0M212 511.6h0M229.9 508.7h0M125.5 485h0M240.4 504h0M158.1 481.1h0M209.1 510.8h0" stroke="#fff" stroke-width="1.0" stroke-linecap="square" fill="none" opacity="0.85"/>
<path d="M47.5 478h0M52 481h0M54 500h0M51 505h0M58 489h0M60 507h0M62 486h0M64 495h0" stroke="#787878" stroke-width="1.5" stroke-linecap="square" fill="none" opacity="1"/>
<path d="M61.8 492h0M64.3 500.9h0M71.5 489.2h0M76.1 496.4h0M69.7 504.7h0M58.8 496h0M73.5 506.7h0M71.1 493.8h0M62.1 509.6h0M59.3 497h0M54.4 512.3h0M77 505.1h0M77.9 497.6h0M71.3 488.2h0M61.1 495.2h0M76.3 517.2h0M67.1 488.1h0M71.6 484.2h0M67.7 500.4h0M74.2 509.7h0M61.5 495.4h0M72.5 490.3h0M72.8 496h0M76.3 495.9h0M70.3 507.6h0M67.8 513.2h0M67.8 496.8h0M75.4 490.1h0M68.1 488.2h0M70.8 483h0M59.1 497.5h0M76.6 482.7h0M65.7 503.4h0M74.6 495.8h0" stroke="#787878" stroke-width="1.5" stroke-linecap="square" fill="none" opacity="1"/>
<path d="M266.2 486.2h0M261.4 489.9h0M273.8 490.7h0M272.5 465.9h0M280.7 497.4h0M260.8 511.7h0M271.3 497.6h0M277.7 490.3h0M268.5 483.8h0M264.5 492.9h0M268.3 511.7h0M267.5 506.2h0M265.2 479.9h0M261.8 507.8h0M266.1 479.9h0M292.1 480.8h0M263.8 486.8h0M269.2 495.7h0M274 485.5h0M279.3 498.6h0M272.3 491.7h0M273.4 506.1h0M262.6 471.4h0M263 490.1h0M271.5 496h0M285.9 503.2h0M269.6 463.7h0M278.2 485.3h0M288.1 467.4h0M278.2 492.7h0M277.1 481.8h0M263.7 492.8h0M267.4 500.6h0M264.1 499.4h0M268 486h0M281.6 494.3h0M276.8 522.5h0M279.3 482.6h0M263.2 495.9h0M277 482.6h0M287 496.1h0M267.4 479h0M280.5 494.4h0M279.7 471.9h0M277.1 490.3h0M267 519h0M272.6 475.3h0M268.2 481.7h0M265.6 500h0M265.4 475.4h0M265.4 460.4h0M272.4 469.3h0M293 489.1h0M287.1 498.8h0M288.6 488.4h0M268 489.5h0M271.6 501.1h0M267.1 488.3h0M267.8 504.8h0M292.4 501.7h0M268.6 484.9h0M262.4 504.9h0M263.5 497.7h0M266.3 487.3h0M288.7 487.3h0M271.9 501h0M263.6 473.6h0M284.4 471.2h0M277.9 501h0M272 511.2h0M279.9 491h0M271.3 500.6h0M297.5 472h0M285.3 473.9h0M274.7 482h0M278.1 484.1h0M274.3 490.1h0M270.7 482.8h0M269.6 487.7h0M281.2 485.8h0M281.8 494.4h0M280.7 499.4h0M276.4 498h0M266.1 505.7h0M290.7 485.4h0M283.4 482.9h0M275.7 466.9h0M269.8 468.5h0M260.8 499.1h0M284.9 492.5h0M269.4 488.8h0M267.5 484.6h0M269.1 473.6h0M268.8 462h0M265.1 481.3h0M289.2 484.6h0M280.6 459.7h0M280.3 502h0M297.7 480.5h0M264.2 493.9h0M266.3 504.3h0M269.5 506.1h0M273.5 484.4h0M260.6 501h0M263.6 499.9h0M284.4 488h0M284.7 490.8h0M265.2 477.5h0M262.8 491.8h0M285.3 480.4h0M289.4 484.9h0M269.1 489.4h0M267.1 499.8h0M266.6 485.4h0M273.2 484.9h0M272 483.1h0M291.8 513.9h0M272.8 483.1h0M270.9 493.7h0M282.1 471.3h0M271.1 488.7h0M288.4 474.9h0M278.1 481.4h0M266.5 497.4h0M261.9 510.5h0M275.7 489.8h0M269.4 495.5h0M277 489.8h0M299.4 482.5h0M270.5 489.1h0M289.5 496.9h0M283.6 489.6h0M264.1 483.7h0M267.2 482.5h0M294.5 491.4h0M289.2 483.8h0M265.8 499.8h0M282.3 472.4h0M274.6 496.7h0M263.2 478.2h0M268 487.3h0M283.1 510.1h0M260.9 502h0M266.9 482h0M266.9 483.6h0M263.9 499.7h0M278.4 498.2h0M263.4 488.2h0M272.8 496.8h0M276.6 483.1h0M260.3 453.3h0M263.2 502.3h0M275.6 482.3h0M261.3 496.3h0M272.8 486h0M264.7 484.9h0M273.2 477.6h0M282.1 495.8h0M295.5 494.8h0M274.2 502.5h0M280.2 495.3h0M295.6 490.9h0M274.1 482h0M273.9 488.5h0M285.3 491.9h0M264.7 457.4h0M268.5 474.2h0M270.3 486h0M270.6 497.9h0M276.7 503.7h0M268 509.1h0M276.9 479.2h0M279.9 488.4h0M268.1 482h0M270.6 478.4h0M288.6 483.5h0M268.6 489.6h0M264.9 498.5h0M271.1 470.5h0M286.5 485.9h0M269.5 476.2h0M272.7 504.4h0M283.7 505.6h0M262 482.5h0M285.8 479.8h0M285.8 493.7h0M269.4 499.6h0M271.4 476.2h0M279.5 482.8h0M296 489.2h0M276.6 475.7h0M273.9 505.2h0M283 487.8h0M272 488.6h0M266.4 473.8h0M273.4 502.1h0M293.9 473.7h0M268.4 479.3h0M281.8 480.9h0M273 486.2h0M268.2 470.6h0M261.9 478.4h0M268.4 495.1h0M262.9 487.8h0M294.5 487.8h0M277.6 498.5h0M277.7 492.5h0" stroke="#787878" stroke-width="1.5" stroke-linecap="square" fill="none" opacity="1"/>
<path d="M318.5 490.5h0" stroke="#787878" stroke-width="1.5" stroke-linecap="square" fill="none" opacity="1"/>
<path d="M47.7 498.2 L51.1 498.5 L54.6 498.8 L58 499 L61.4 499.1 L64.9 499.3 L68.3 499.5 L71.8 499.6 L75.2 499.7 L78.6 499.8 L82.1 499.9 L85.5 500 L88.9 500 L92.4 500.1 L95.8 500.1 L99.3 500.1 L102.7 500.1 L106.1 500.1 L109.6 500 L113 500 L116.4 499.9 L119.9 499.8 L123.3 499.7 L126.7 499.6 L130.2 499.5 L133.6 499.4 L137.1 499.3 L140.5 499.1 L143.9 499 L147.4 498.8 L150.8 498.7 L154.2 498.5 L157.7 498.3 L161.1 498.1 L164.5 497.9 L168 497.7 L171.4 497.5 L174.9 497.3 L178.3 497 L181.7 496.8 L185.2 496.5 L188.6 496.2 L192 495.9 L195.5 495.6 L198.9 495.3 L202.4 495 L205.8 494.6 L209.2 494.3 L212.7 493.9 L216.1 493.6 L219.5 493.2 L223 492.8 L226.4 492.4 L229.8 492 L233.3 491.6 L236.7 491.2 L240.2 490.7 L243.6 490.3 L247 489.8 L250.5 489.4 L253.9 488.9 L257.3 488.4 L260.8 487.9 L264.2 487.4 L267.6 486.8 L271.1 486.3 L274.5 485.8 L278 485.2 L281.4 484.6 L284.8 484.1 L288.3 483.5 L291.7 483 L295.1 482.4 L298.6 481.8 L302 481.2 L305.5 480.7 L308.9 480.2 L312.3 479.6 L315.8 479 L319.2 478.3" stroke="#0b89ff" stroke-width="2.4" fill="none" stroke-linecap="round" stroke-linejoin="round"/>
<rect x="36.5" y="444.5" width="294" height="92" fill="none" stroke="#404040" stroke-width="1"/>
<path d="M103.1 536.5v5M185.4 536.5v5M267.8 536.5v5M36.5 446.2h-5M36.5 466.9h-5M36.5 487.7h-5M36.5 508.4h-5M36.5 529.2h-5" stroke="#404040" stroke-width="1" fill="none"/>
<text x="103.1" y="554" text-anchor="middle">5</text>
<text x="185.4" y="554" text-anchor="middle">10</text>
<text x="267.8" y="554" text-anchor="middle">15</text>
<text x="27.0" y="449.1" text-anchor="end">1.0</text>
<text x="27.0" y="469.8" text-anchor="end">0.5</text>
<text x="27.0" y="490.6" text-anchor="end">0.0</text>
<text x="27.0" y="511.3" text-anchor="end">-0.5</text>
<text x="27.0" y="532.1" text-anchor="end">-1.0</text>
<text x="183" y="573" text-anchor="middle">AoA</text>
<text transform="translate(7.6 491) rotate(-90)" text-anchor="middle">I_Zscore</text>
</g>
<g>
<path d="M416 498.7 L417 497 L418 495.4 L419 499.4 L420 493.9 L421 494.3 L422 494.2 L423 499.4 L424 495.2 L425 496.3 L426 491.5 L427 491.8 L428 493.3 L429 491.3 L430 491.5 L431 491.5 L432 490 L433 489.2 L434 488.7 L435 487.3 L436 487.4 L437 487.8 L438 484 L439 485.2 L440 485.5 L441 483.3 L442 483 L443 485.7 L444 484.1 L445 485.5 L446 484.4 L447 480.4 L448 479.4 L449 479.6 L450 481.3 L451 474.2 L452 479.6 L453 481.2 L454 479.2 L455 479.4 L456 478.3 L457 475.8 L458 479.8 L459 477.6 L460 478.9 L461 478.1 L462 481.2 L463 478.8 L464 478.8 L465 477.9 L466 476.8 L467 478.7 L468 479.8 L469 478.1 L470 474.6 L471 476.8 L472 481.2 L473 477.2 L474 478.4 L475 475 L476 477.2 L477 476.7 L478 479.4 L479 479.1 L480 479 L481 479.7 L482 477.3 L483 480.9 L484 477.7 L485 479.6 L486 481.5 L487 477.3 L488 478.8 L489 478 L490 478.4 L491 478.7 L492 478.1 L493 478.2 L494 479.4 L495 476.1 L496 477.1 L497 477.5 L498 476.1 L499 478.8 L500 477.5 L501 476.9 L502 476.1 L503 476.9 L504 479 L505 476.3 L506 479.8 L507 479.3 L508 478.8 L509 475.7 L510 477.1 L511 480.1 L512 477.8 L513 477.2 L514 477.2 L515 479 L516 475.5 L517 480.1 L518 478.8 L519 476.8 L520 479.4 L521 474.1 L522 476.5 L523 479 L524 480.9 L525 476.6 L526 476.2 L527 478.4 L528 478.7 L529 477.3 L530 477.3 L531 481 L532 477.1 L533 476 L534 477.9 L535 480.6 L536 479.7 L537 478.5 L538 476.5 L539 478.4 L540 483.2 L541 479.5 L542 480.2 L543 476 L544 477.9 L545 477.7 L546 481.3 L547 478.1 L548 478.4 L549 477.8 L550 474 L551 480.4 L552 475.5 L553 477.6 L554 476 L555 477.6 L556 477.8 L557 477.7 L558 480.9 L559 476.6 L560 478 L561 479.4 L562 477.9 L563 477.7 L564 481.7 L565 479.8 L566 477.2 L567 479 L568 477.1 L569 479.3 L570 476.2 L571 479.8 L572 479.1 L573 479.1 L574 478.5 L575 478.9 L576 477.1 L577 478.6 L578 479.5 L579 479.2 L580 477 L581 479.4 L582 476.6 L583 477.4 L584 477.2 L585 477.5 L586 478.3 L587 479.6 L588 480.2 L589 479.2 L590 477.3 L591 479.7 L592 480.1 L593 477.3 L594 476.6 L595 478.3 L596 481.6 L597 478 L598 478.2 L599 479.7 L600 476.6 L601 476.8 L602 478.3 L603 479.9 L604 478 L605 477.5 L606 475.9 L607 481.1 L608 476.5 L609 480.7 L610 477.4 L611 480.4 L612 481.3 L613 477.2 L614 479.5 L615 479.8 L616 480.6 L617 478.1 L618 480.6 L619 478.8 L620 477 L621 480.3 L622 480.7 L623 478.7 L624 478.5 L625 479.9 L626 481.4 L627 476.7 L628 480.4 L629 482 L630 477.3 L631 479.7 L632 478.9 L633 479.3 L634 480.8 L635 476.2 L636 478 L637 476.6 L638 478.3 L639 481.8 L640 477.1 L641 478.1 L642 477.9 L643 479.5 L644 478.4 L645 477.6 L646 477.6 L647 478.6 L648 476.9 L649 475 L650 480.8 L651 479.1 L652 478 L653 478.7 L654 480.1 L655 477.6 L656 479 L657 478.1 L658 481 L659 475.1 L660 476.7 L661 481.3 L662 477.1 L663 477.7 L664 477 L665 475.2 L666 478.8 L667 480.1 L668 479.5 L669 477 L670 478.1 L671 481.6 L672 478.7 L672 515.4 L671 513.3 L670 514.7 L669 515.3 L668 511.8 L667 513.6 L666 516.6 L665 515.7 L664 515.3 L663 514 L662 513.8 L661 511.8 L660 513.7 L659 512.1 L658 512.5 L657 511 L656 513.2 L655 512.1 L654 512.7 L653 513.9 L652 517 L651 514.6 L650 514.1 L649 516.3 L648 515 L647 516.2 L646 516.2 L645 515 L644 512.8 L643 514.4 L642 516 L641 512.6 L640 515.5 L639 514.6 L638 511.6 L637 512.5 L636 512 L635 516.5 L634 513 L633 512.5 L632 512.4 L631 516.8 L630 516.7 L629 510.9 L628 514.7 L627 514.2 L626 516.9 L625 512.9 L624 513.6 L623 511.7 L622 512.4 L621 512.7 L620 512.7 L619 511.4 L618 515.6 L617 513.8 L616 517.6 L615 513 L614 515.4 L613 514.2 L612 512.7 L611 512.1 L610 514.9 L609 513.4 L608 514.7 L607 513.4 L606 514.5 L605 513.2 L604 515.5 L603 511.7 L602 516.5 L601 513.5 L600 513.9 L599 515.1 L598 514.3 L597 515.3 L596 514.4 L595 513.1 L594 516.5 L593 516.1 L592 512.9 L591 514.4 L590 515.4 L589 516.5 L588 515.2 L587 516.1 L586 512.6 L585 515.2 L584 516 L583 514 L582 514.6 L581 514.3 L580 516.9 L579 514 L578 514.1 L577 514 L576 516.3 L575 515.2 L574 514.3 L573 515.4 L572 513.7 L571 513.7 L570 514 L569 516.4 L568 515.4 L567 513 L566 514.7 L565 514.8 L564 513.3 L563 513.2 L562 516.6 L561 514.9 L560 517 L559 513.2 L558 514.5 L557 511.6 L556 515 L555 518.9 L554 513.9 L553 517.2 L552 511.7 L551 515.7 L550 514.9 L549 515.4 L548 512.5 L547 511.8 L546 512 L545 516.1 L544 513.7 L543 517.2 L542 515.6 L541 512.3 L540 511.4 L539 515.8 L538 516.4 L537 512.7 L536 513 L535 514.4 L534 516.3 L533 513.9 L532 512.3 L531 517.9 L530 512.3 L529 513.4 L528 514.1 L527 515 L526 513.6 L525 513.1 L524 515.1 L523 512.8 L522 512.1 L521 515.8 L520 516.5 L519 514.4 L518 516.1 L517 515.7 L516 513.3 L515 512 L514 514.2 L513 515.6 L512 512.3 L511 515.4 L510 515.6 L509 514.1 L508 515.1 L507 515.4 L506 516.3 L505 514.4 L504 518.1 L503 514.2 L502 513.9 L501 512.4 L500 512.5 L499 514 L498 513.1 L497 514.4 L496 512.5 L495 513.2 L494 514.2 L493 514.6 L492 514.3 L491 514.1 L490 515.7 L489 516.4 L488 516.1 L487 514.9 L486 515.9 L485 515.6 L484 516.8 L483 511 L482 515.9 L481 514.2 L480 518.9 L479 516.8 L478 513.8 L477 518.8 L476 515.4 L475 513.5 L474 516 L473 516.5 L472 513.8 L471 514.8 L470 514.3 L469 515.3 L468 514.3 L467 513.5 L466 514.9 L465 513.6 L464 516.5 L463 516.2 L462 513.4 L461 515.2 L460 514.3 L459 512.6 L458 516.1 L457 515 L456 513 L455 514.8 L454 513.8 L453 512.4 L452 514.7 L451 513.6 L450 513.2 L449 516.5 L448 512.9 L447 515.3 L446 512.5 L445 508.8 L444 514.1 L443 509.9 L442 509.8 L441 509.3 L440 510.4 L439 507.2 L438 507.2 L437 508.7 L436 508.8 L435 504.3 L434 508.8 L433 505.4 L432 502 L431 502.3 L430 501.6 L429 502 L428 500.2 L427 500.5 L426 497.7 L425 498.4 L424 500.3 L423 499.9 L422 498.1 L421 499.5 L420 496.5 L419 499.9 L418 497.2 L417 499 L416 499.2Z" fill="#7f7f7f" stroke="none"/>
<path d="M463.7 478.7h0M575.1 476.7h0M556.2 477.9h0M426.3 492.3h0M457.3 475.1h0M564.1 474.7h0M432.8 487.4h0M593.2 475.5h0M491.8 472.9h0M421.9 494.6h0M658.6 472.2h0M662.4 477h0M505.4 478.8h0M533.1 475h0M567.8 479h0M629.3 477.9h0M470.5 475.1h0M587.1 476.8h0M558.2 476.6h0M542.4 473.6h0M496.7 475.4h0M533.3 472.3h0M450.6 477h0M615.1 477.3h0M540.5 478.1h0M564.9 476.6h0M590.2 477.2h0M552.7 476.8h0M518.7 478h0M499.7 473.5h0M493.5 476h0M514.8 477.5h0M539.3 477.6h0M614.6 473.7h0M651.2 479.3h0M603.1 476.9h0M656.7 477h0M655.9 475.1h0M632.4 472.8h0M649.9 479.1h0M509.2 475.4h0M541.3 471.7h0M591.3 479.3h0M657 479.5h0M431.9 488.1h0M558.8 474.4h0M523.9 471.2h0M425.6 490h0M581.9 475.3h0M441.4 478.4h0M575.2 475.4h0M435.4 488.2h0M477 471.2h0M642.5 479h0M560.9 478.9h0M484.4 473.7h0M458.2 474.3h0M450.7 475.4h0M642.5 478.1h0M575.1 474.9h0M449.9 479.9h0M562.7 476.8h0M443.6 476.5h0M480.3 478.7h0M578.9 477.3h0M629 477.6h0M656.8 477.7h0M649.5 472.2h0M527.3 479.2h0M503 477.4h0M599.1 470.9h0M560.4 477.4h0M428.8 488h0M514.7 474.1h0M521.6 472.6h0M509.4 473.4h0M482.6 476.5h0M440.4 477.9h0M636.4 477.7h0M601.8 474.3h0M449.2 472.6h0M656.2 474.4h0M497.6 473.8h0M601.3 474.3h0M460.7 473h0M654.5 473h0M601.3 477.6h0M592.6 477.9h0M636.2 471.7h0M592.3 477.7h0M631 477.5h0M489.5 477h0M615.9 473.6h0M567.3 474.5h0M547.2 479.2h0M653.3 477.9h0M515.8 478h0M555.5 474.3h0M443.9 480.2h0M473 472.8h0M582.1 473.9h0M453.2 472.9h0M448.3 479.7h0M624.8 478.1h0M439.7 483.3h0M660.3 479.3h0M502.8 470.7h0M644.8 472.5h0M523.5 473.1h0M473.5 475.5h0M539.6 475.8h0M608.8 478h0M601.6 479.1h0M672.3 477.9h0M455.9 475.8h0M450.5 479.2h0M549.6 473h0M471.1 478.5h0M427.5 492.7h0M553.4 477.8h0M616.9 472.5h0M649.4 473.6h0M488.5 477.8h0M542.6 476.5h0M586 477.7h0M419.5 491.6h0M578.7 473.8h0M442.9 483.2h0M544.5 477.1h0M594.2 479.1h0M506.3 475.5h0M650 478.1h0M503.6 470.7h0M460.2 473h0M476.4 476.4h0M438.1 478.1h0M443.6 474.2h0M556.6 471.7h0M566.2 477.2h0M606.3 477h0M618.8 475.9h0M516 477.1h0M461.1 478h0M502.5 472.2h0M512.3 475.5h0M419.3 496.3h0M548.3 479.2h0M660.2 472.6h0M448 480.1h0M482.5 476.1h0M564.6 471.2h0M555.2 478.5h0M557.1 476.8h0M609.5 477.3h0M531.4 478.2h0M470.1 475.1h0M428.3 483.9h0M441.3 483.1h0M449.6 478.4h0M508.9 472.1h0M619.4 476.7h0M470.5 478.6h0M448 478.7h0M438.7 475.1h0M561.1 475.5h0M528.1 471.3h0M554.4 478.9h0M441.2 483.3h0M423.5 488.4h0M447.9 479.7h0M496.4 477.6h0M644.6 477h0M667.6 475.3h0M655.3 479.6h0M483.6 476.5h0M563.7 477.4h0M419.3 495.3h0M570.6 472.9h0M417.3 497h0M460.7 478.7h0M605.4 478.2h0M463.4 472h0M505 476.2h0M575.4 478h0M480.1 478.6h0M528.7 474h0M494.4 476.3h0M529.2 473.9h0M429.5 489.8h0M509.7 475h0M622.8 474.1h0M619.5 474h0M469.4 470.2h0M448 481.2h0M490.4 474.6h0M465.2 476.9h0M616.3 472.3h0M489.5 478.4h0M553.3 477.5h0M567.7 478.7h0M468.3 471.3h0M435.3 479h0M552.5 476h0M436.9 482.3h0M615.7 471.9h0M453 475.3h0M518.5 477.8h0M471.7 477.4h0M568.2 477.4h0M461.1 478.4h0M435.8 481.9h0M642.2 478.3h0M418.8 496h0M439.8 481.1h0M477.2 474.4h0M427.6 488.3h0M577.9 476.3h0M490.8 473.8h0M530.9 475.1h0M495.8 476.2h0M556.3 471.5h0M503.5 474.3h0M448 480.6h0M607.9 475.7h0M530.7 478h0M499.3 475.9h0M544.5 477h0M616.5 479.3h0M551 477.4h0M575.4 473.3h0M461.4 477.2h0M570.4 478.2h0M466 478.6h0M662.5 477.6h0M553.3 478.9h0M445.4 472.2h0M628.1 474.1h0M449 477h0M566.1 473.3h0M567.8 478.9h0M434.6 486.7h0M604.3 473.7h0M601.6 476.3h0M671.7 479.6h0M587.5 477.5h0M546.2 471.4h0M482 474.5h0M453.6 476.7h0M590.8 477.8h0M651.9 472h0M622.2 476.7h0M507.7 478.9h0M484.3 473.2h0M490.1 473.5h0M433.3 488.5h0M429.5 486.5h0M640.5 477.7h0M475.7 477.1h0M460.3 472.5h0M606.9 479.1h0M652.2 474.5h0M566.4 477.3h0M540.1 477.6h0M541.5 472.8h0M655.4 476.4h0M569.3 477.3h0M549.4 472.5h0M539.5 476.6h0M661 479h0M626.5 476.1h0M638.3 478.7h0M425.1 493.8h0M569 473.3h0M505.6 477h0M483.9 473.4h0M662.4 479.5h0M594.1 475.6h0M653.7 479.4h0M475.4 478.1h0M425.5 492.6h0M477.6 478.7h0M461.3 475.6h0M492.2 478.8h0M569.7 474.3h0M456 479.4h0M545.8 477.3h0M660.5 475.1h0M511.4 475.6h0M522.4 475.9h0M428.1 485.3h0M480.1 472.6h0M572 474.4h0M534.1 478.4h0M573.1 473.2h0M482.5 476.6h0M630.4 471.7h0M631 477.7h0M592.4 472.4h0M603.6 476.7h0M622.1 472.5h0M555.7 473.5h0M466.1 472.6h0M665.7 479.6h0M512.3 472.7h0M429.4 489.8h0M473.5 477h0M532 477.4h0M551.4 472h0M588.8 471.5h0M526.8 479h0M648.5 475.4h0M639.3 474.2h0M497.8 473.4h0M609.1 479.3h0M604.6 477.2h0M491.1 474.9h0M670.8 478.5h0M523.5 478.9h0M559.8 476h0M437 486.6h0M443.7 481.1h0M538.5 478.7h0M543.6 475h0M626.4 479h0M634.5 472.4h0M428.5 490.1h0M430.7 482.9h0M501.7 477.7h0M621.3 479.3h0M509.2 474.1h0M450.6 476.4h0M438.1 474.3h0M603.7 478h0M533.3 472.7h0M568.7 477.9h0M651 476.5h0M570.4 478.2h0M442.9 473.2h0M501.6 475.2h0M607.2 476.6h0M417.1 496.1h0M651.9 473.4h0M650.7 475.1h0M463.2 475.6h0M671.4 475.3h0M556.5 478.7h0M459.7 476h0M593.3 477.3h0M592.4 477.4h0M585.9 472.1h0M644.8 476.4h0M626.5 471.3h0M432.9 487.2h0M479.7 475.9h0M569.8 472.9h0M515 472h0M523.2 474.6h0M475.9 476.6h0M535.9 474.3h0M422.7 490.2h0M520.9 475.1h0M644.5 474.4h0M487.7 473.7h0M618.6 478.2h0M435.6 485.5h0M631.1 479.3h0M484.4 470.9h0M578.5 478.9h0M548.8 473.9h0M602.4 476.1h0M516.6 471.8h0M517.1 477.6h0M474 470.8h0M512.7 478.3h0M641.2 479h0M543.7 475.9h0M546.6 478.1h0M666.6 478h0M555.4 476.4h0M564.7 475.3h0M618.6 476h0M486.9 472.4h0M655.7 479.7h0M577 473h0M514.6 478.6h0M665.7 478.8h0M650.2 479.3h0M464.1 476.3h0M573.4 474.6h0M541.6 479.2h0M416.1 497.2h0M522 478h0M588.8 478.7h0M612.9 474.8h0M654.4 475.9h0M543.5 479h0M463.1 476.7h0M574.1 477.9h0M478.6 475.9h0M488.5 478.6h0M439.1 474.5h0M565.6 473.6h0M444.5 479.9h0M669.6 476.8h0M612.6 473.1h0M612.1 477.5h0M605 471.7h0M456.2 472.6h0M431.2 486.2h0M587.8 479.2h0M484.7 470.6h0M580 477.4h0M571.7 478.4h0M578 477.3h0M486.3 478.8h0M661.6 479h0M669.1 476.9h0M518.5 478.7h0M502.3 476.7h0M473.2 473.5h0M541.3 474.4h0M510.3 474.3h0M638.2 473.5h0M497.1 476.6h0M648.8 476.1h0M582.7 476.9h0M497.4 475.2h0M583.4 476.1h0M440.8 483.5h0M645.4 475.1h0M569.1 476.8h0M620.7 479.3h0M481.6 472h0M561.9 477.6h0M458.9 478.3h0M440.8 481.2h0M447.9 479h0M518.8 475.7h0M590.5 474.1h0M600.6 477.1h0M463.3 474.2h0M597.7 471.6h0M520 471.3h0M471.8 476.4h0M423.1 489.4h0M478.2 473.8h0M574.9 476.8h0M494.1 477.2h0M482.2 476.8h0M639.7 478.9h0M585.5 478.3h0M479.5 478.6h0M564 478.8h0M508.6 475.4h0M463.2 478.4h0M606.1 473.2h0M491.9 473h0M664.6 473.1h0M426.7 485h0M448.6 475.9h0M518.9 478.4h0M609.7 476.5h0M445 476.5h0M518.2 472.7h0M514.2 473h0M422.5 489.2h0M482.4 478.3h0M422.8 487.7h0M455.8 476.7h0M588 478.4h0M624.1 478.3h0M547.2 473h0M518.7 474.1h0M505.1 478.1h0M545.2 474.6h0M468.1 470.4h0M422.4 493.1h0M614.7 477.4h0M486.6 477.1h0M554.7 477.9h0M539.7 476.1h0M477.3 473.5h0M523.7 473.2h0M455.6 477.8h0M461.1 472.3h0M536.6 473.5h0M629.4 477.6h0M485.2 475h0M578.7 476.7h0M495.1 471.9h0M535.3 479.2h0M437 483.4h0M502.1 475.3h0M670.5 472.1h0M591.1 471.6h0M534.4 475.5h0M457.6 472.3h0M457 477h0M579.7 478.7h0M481.3 476.4h0M473.4 477.5h0M470.8 476.9h0M607.5 475.7h0M430.3 489.1h0M523.8 476h0M486.7 473.7h0M513.4 472.4h0M486.2 475h0M609.2 473.1h0M531.5 474.5h0M609.4 473.5h0M446.1 475.3h0M549.2 473.5h0M469.1 478.5h0M528.5 475.1h0M659.6 478.1h0M423.6 494.9h0M457.2 472.1h0M589.5 474.8h0M596.2 475.1h0M451.9 471.2h0M540.6 477.3h0M508.3 478.8h0M483.8 478.1h0M631.1 474.3h0M535.5 475.2h0M643.2 478.6h0M576.8 478.8h0M482.4 474.6h0M624.1 476.5h0M423.7 494.3h0M657.4 477h0M437.1 479.4h0M649.2 478.7h0M431.5 486.4h0M454 470.7h0M485.2 478.8h0M650.4 471.8h0M516.8 478.3h0M632.8 476.3h0M479.4 472.6h0M608.7 478.3h0M542 473.1h0M612.2 477.5h0M578.2 476.2h0M601.7 474.3h0M452 472.8h0M444 482.1h0M441 483.7h0M639.1 475.8h0M556.6 477.9h0M459.7 477.7h0M520.8 475.8h0M599 472.2h0M572.1 472.9h0M589.7 471.8h0M598.6 474.7h0M634.9 476.5h0M516.4 478.1h0M465.8 473.1h0M653.2 475.9h0M641.6 473h0M486.1 475.6h0M603.6 476.6h0M554.8 473.7h0M583.8 479.2h0M638.7 473.2h0M535.6 474.6h0M614.2 478h0M492.9 472.1h0M592.4 478.8h0M507.7 470.9h0M663.2 477.7h0M437.8 482.4h0M501.6 476.7h0M525.9 479h0M460.4 475.2h0M520.3 477.6h0M488.7 473.7h0M555.5 478.8h0M470.8 478.5h0M465.7 475.6h0M434.3 478.5h0M480.9 477.7h0M435 488.2h0M586.2 474.7h0M577.4 474.4h0M562.6 471.1h0M567.9 473.9h0M612.6 472.2h0M653.1 475.1h0M636.9 476h0M651.8 473.8h0M450.1 475.9h0M563.9 474.5h0M610.1 474.3h0M594.8 474.6h0M548.5 471.9h0M483.5 474.6h0M666.6 478h0M422.3 495.3h0M430.9 482.4h0M570.8 472h0M525.2 478.5h0M596.8 471.7h0M434.7 483.6h0M654.4 478.8h0M614.7 473.5h0M591.4 471.2h0M640.8 477.9h0M513.1 470.9h0M487.2 474.8h0M602.7 474.8h0M508.8 476.2h0M433.1 483.7h0M545.6 476.9h0M612.6 478.2h0M527.5 472.8h0M442.4 479h0M629.3 475.4h0M671.5 479.2h0M537.8 472.5h0M502.1 475.7h0M473.9 476.1h0M475.3 476.7h0M641.9 472.7h0M446.4 480.1h0M476.2 471.6h0M575.8 477.8h0M502.6 477.8h0M629 476.1h0M616.4 473h0M438.4 475.7h0M551.2 478.4h0M422.9 491.1h0M642 474.9h0M639.3 478.1h0M505.3 471.4h0M432.9 489.7h0M585.2 474.2h0M635.2 475.1h0M592.8 477h0M466.9 470.7h0M557.3 479h0M603.8 477.8h0M568.3 475.4h0M585.1 474.5h0M488 474.7h0M457.1 470.2h0M633.7 477.3h0M504.8 472.6h0M479.2 475.3h0M440 477.6h0M646.4 476.1h0M447.3 479.3h0M494.7 477.6h0M456.8 476.5h0M635 479.6h0M487.9 473.2h0M537.5 476.5h0M601.9 478.6h0M441.7 483.3h0M547 470.9h0M645.9 477.4h0M632 476.3h0M643.7 474.1h0M483.2 473h0M489.4 473.6h0M439 485.2h0M647.5 475.4h0M422 491.5h0M420.1 497h0M442.8 481.3h0M499.2 474h0M625.5 476.6h0M559.2 475.9h0M562.8 473.3h0M429.9 488.9h0M587.6 478.5h0M634.6 473.8h0M428.1 493.3h0M615.9 473.3h0M527 476.6h0M488.8 478.8h0M606.1 473.7h0M445.9 479h0M523 476.6h0M577.5 479.3h0M531.6 471.4h0M531.1 472.8h0M517.4 476.9h0M485.5 478.1h0M647 472.6h0M450 477h0M622.2 473.6h0M476.8 478.2h0M433 483.2h0M613.3 477.2h0M539.2 477.6h0M582.6 473h0M535.3 478.7h0M622.6 476.5h0M635.3 475.5h0M524.8 478.5h0M629 471.7h0M627 473.2h0M545.2 470.9h0M658 473.4h0M430 484.9h0M532.4 476.6h0M544.8 476.9h0M451.1 479.9h0M439.4 483.9h0M566.3 478.7h0M424.8 493.8h0M651.5 478.9h0M671.5 476.8h0M441 480.5h0M452.2 480h0M628.2 473.1h0M633.9 479.3h0M568 476.3h0M557.5 474.8h0M614.4 472.5h0M495.2 474.4h0M601.1 471.1h0M463.2 474.7h0M524.1 475.5h0M642.6 472.1h0M510.8 474.7h0M549.3 472.3h0M510.2 478.7h0M497.9 476.9h0M425.3 492.4h0M603.9 478h0M650.4 475.8h0M634.4 472.6h0M509.6 474.9h0M471.8 471h0M594.7 475.5h0M537.4 474.4h0M560.4 473.3h0M523.7 473.5h0M616.5 476.9h0M546.1 475.8h0M437.8 482.5h0M522.7 478.7h0M576.4 474h0M651.7 478.4h0M490.6 473.3h0M580.3 477h0M498 477.5h0M531.7 476.7h0M649.5 477.2h0M544 478.1h0M492.8 473.2h0M517.6 476.3h0M526.2 474.7h0M559.4 476.3h0M660.1 477.8h0M639.4 475.7h0M443.2 473.8h0M557 477.7h0M660.5 474.9h0M604.8 479.3h0M424.8 487.4h0M439.1 478.6h0M573 476.3h0M646.8 478.4h0M624 474.2h0M606.1 478h0M607.4 477.5h0M522.3 477.9h0M516.3 479h0M497.8 476.6h0M661 476.8h0M484.4 475.1h0M438.7 475h0M571.6 478.4h0M657.1 476.2h0M539.8 476.4h0M557.9 479.1h0M565.1 475.2h0M583.4 478.8h0M459.9 473.3h0M428.7 485.8h0M528.7 474h0M446.3 479.9h0M559.6 472.5h0M615.3 479.4h0M555.5 472.6h0M448.1 476.7h0M464.2 472.9h0M474.2 476.8h0M636.3 476.7h0M586.4 478.5h0M446.3 481.5h0M432.1 489.6h0M620.9 477.4h0M555.6 474.2h0M446.6 477.3h0M519.9 478.4h0M451.3 476.9h0M597.9 472.3h0M600.1 478.8h0M656.2 473.8h0M570.9 475.2h0M496.4 474.4h0M548.4 472.2h0M609.1 477.5h0M658 477.1h0M518.4 474.1h0M651 472.4h0M564 474.5h0M486.6 472.8h0M585.1 478.1h0M669.2 479.8h0M639.1 474h0M635.1 474.1h0M594.5 473.2h0M588.7 474.4h0M497.4 475.6h0M577.5 475.8h0M563.9 476.4h0M521 479h0M665.7 472.6h0M452 476.9h0M467.4 478.2h0M590.4 478h0M424.2 486.8h0M563.5 475.6h0M444.7 477.8h0M514.2 476.9h0M641 477.2h0M530.5 472.8h0M491.6 474.7h0M543 477.8h0M520.6 475.5h0M517.2 475.5h0M428.7 492.8h0M622 475.2h0M450.9 477.8h0M600.6 471.7h0M506.1 477.4h0M467.8 476.3h0M466.3 473h0M484.3 471.7h0M434.9 477.9h0M602.2 479h0M633.4 472.1h0M505.1 478.5h0M507.3 474.6h0M506.6 478.3h0M584 474h0M651.2 477.2h0M670.2 474.8h0M612.3 474.6h0M618.4 479.4h0M483.3 477.9h0M499.1 478.1h0M511.4 474.6h0M612.1 477.4h0M648.4 472h0M542 471.7h0M466.9 475.5h0M513.9 473.2h0M642.6 475.1h0M591.6 477.8h0M454.6 478.5h0M599.6 475.1h0M431.3 487.7h0M428.3 485.8h0M489.4 474.6h0M646 472.7h0M603.5 478.8h0M582.4 477.1h0M429.4 484.3h0M593.4 477.7h0M579.5 478.7h0M594.7 477.2h0M469.7 478h0M610.1 475.2h0M489 478.6h0M465.9 477.9h0M591.2 478h0M427 485.1h0M616 477.1h0M665 475h0M471.7 474.6h0M565.3 478h0M464.5 478.3h0M610.8 478.8h0M577.2 473h0M564 477.2h0M570.9 476h0M623.7 478.2h0M512.2 479.1h0M484.5 475.1h0M543.5 475.7h0M451.2 475.3h0M610.9 478.9h0M471.5 472.4h0M565.4 475.1h0M641.9 477.7h0M638.4 475.1h0M636.3 473.5h0M419.6 496.9h0M634.3 479.4h0M574.4 471.3h0M466.8 473.1h0M518.4 472.1h0M668.7 475h0M667.2 479.2h0M548.1 471.3h0M623.6 472.9h0M439.2 484.4h0M535.4 474.8h0M431.5 484.8h0M455.7 479.3h0M459.9 476.2h0M436.2 483.8h0M626.1 478.9h0M438.3 484.2h0M571.7 477.7h0M449.5 480.1h0M601.6 478.9h0M467.4 476.2h0M454.1 477.9h0M567.6 479h0M561.5 478.9h0M560.2 471.9h0M612.2 475.1h0M598.2 478.5h0M628.6 475.9h0M559.8 478.2h0M424.6 493.3h0M509.3 477h0M501.3 478h0M541.1 475.2h0M611.9 475.7h0M571.5 476.1h0M603.9 477.1h0M440.5 482.1h0M646.2 477.5h0M497 474.2h0M557.6 477.6h0M655.9 476.6h0M617.4 476.8h0M584.2 472.1h0M659 472.4h0M542.1 475h0M526 479h0M560.8 472.4h0M557.6 477.2h0M514.8 473.7h0M617.8 476.3h0M520.4 477.5h0M618 477.7h0M527.9 479.2h0M514.5 476h0M669.2 477.6h0M499.8 478.1h0M470.3 472.2h0M521.1 475.2h0M508.4 473.6h0M491 473.4h0M497.4 474h0M568.9 474.2h0M607.7 471.3h0M620.5 476.6h0M541.7 472.3h0M558.7 476.6h0M556.7 473.9h0M600.9 477.5h0M601 473h0M474.7 476.8h0M643.1 478h0M519.4 477.5h0M595 476.4h0M596.1 477.8h0M613.8 478.6h0M592.9 477.2h0M656.9 476.7h0M545.2 472h0M646.2 475.9h0M539.3 475.8h0M482.1 473.3h0M628 477.2h0M655.1 479.4h0M440.5 483.8h0M654.9 473.5h0M496.3 478.1h0M475.3 478.4h0M440 484.2h0M634.6 477h0M535.4 475.2h0M498.9 478.4h0M487.5 477.7h0M654.4 475.8h0M471 474.5h0M596.5 479.2h0M559.4 475.2h0M529.3 475.3h0M450.6 474.7h0M491 476.1h0M566.3 476.6h0M524.3 474.8h0M634.8 474.5h0M467.9 475.7h0M483.3 477.2h0M512.1 472.1h0M513.4 475.3h0M644.3 474.6h0M462.7 474.8h0M442.4 472.6h0M556.1 478.2h0M456.2 475h0M616.9 478.8h0M587.5 475.5h0M476.6 476.7h0M604.7 474.8h0M662.3 478.2h0M433.6 483.4h0M569.2 473.7h0M439.5 483.1h0M617.2 474.1h0M523.6 479.1h0M548.6 471.8h0M492.5 475.5h0M573.5 471.2h0M429.9 487.7h0M434.7 486h0M516.9 474.4h0M531.7 476.4h0M426.6 492h0M509.3 476.5h0M423.7 488.5h0M666 478.6h0M518.8 478.5h0M605.6 479.2h0M448.9 475.1h0M476.5 477.7h0M590.2 477.8h0M508.2 473.8h0M548.2 479.1h0M634.7 473.6h0M551.4 476.8h0M646.6 474.6h0M485.4 472.7h0M577.1 477.1h0M447.6 474.7h0M443.7 477.8h0M516 477.1h0M592.7 473.3h0M539.1 476.9h0M445.2 481.9h0M570.5 476.8h0M666.3 478.7h0M651.6 476.5h0M443.9 478.3h0M490.6 474.1h0M491.5 471.5h0M508.4 474.9h0M591.1 478.9h0M632.5 478.7h0M448.7 475h0M597.4 478.7h0M661.2 473.8h0M657.5 478.9h0M549.6 473.9h0M455.2 476.9h0M595.8 475.2h0M624.9 478.6h0M452.8 475.1h0M478.2 475.6h0M638.5 475h0M570.1 477.7h0M436.2 483.8h0M654.2 474.6h0M532.1 474h0M584.4 474.1h0M582.1 478.8h0M456.9 470.2h0M519.4 476.2h0M505.2 476.6h0M563.3 477h0M624.6 475.2h0M569.4 473.1h0M542.5 479.1h0M472.6 473.4h0M557.6 475.3h0M670.9 477.6h0M420.5 495.9h0M562.1 479.1h0M494.9 471.8h0M447 478h0M500.6 473.6h0M426.4 494.3h0M420.8 493.7h0M563.2 478h0M502 473h0M548.8 473.9h0M647.3 473.7h0M514.4 477.9h0M512.9 474.2h0M672.2 478.7h0M542.9 472h0M418.6 496.1h0" stroke="#787878" stroke-width="1.5" stroke-linecap="square" fill="none" opacity="1"/>
<path d="M563.2 515.7h0M477.7 517.2h0M558.8 515.6h0M580.8 515.3h0M503.4 515.8h0M621.6 514.7h0M470.2 516.8h0M498 514h0M578.5 516.9h0M432.2 508.8h0M569.6 516.4h0M545.3 518.3h0M627 516.5h0M583.7 513.8h0M589.3 516.2h0M613.9 515h0M583.9 517.3h0M493 516.2h0M436.7 512.7h0M640.8 516.6h0M649.5 514.1h0M501.7 515.5h0M560 518.2h0M658.2 516h0M432.7 510.3h0M654.8 513.3h0M666.9 513.9h0M427.9 503.6h0M437.9 516.3h0M461 513.8h0M428.5 505.4h0M443.4 512.2h0M614.7 515h0M574.7 515.3h0M434.4 507.2h0M506.1 516.1h0M613.6 516.1h0M471.8 514.1h0M550.5 513.9h0M498 514.5h0M449.1 515.1h0M648.7 516.4h0M451.2 514.9h0M551.3 514.3h0M553.4 515.2h0M585.9 513.7h0M565 514.2h0M578.1 516.5h0M667.3 515.8h0M670.8 516.3h0M567.5 516.7h0M493.4 514.8h0M638.8 514.1h0M595.6 514.8h0M650.5 514h0M480.8 517.2h0M428.3 501.3h0M510.8 515h0M513.6 513.7h0M538.5 514.6h0M660.9 513.3h0M620.8 516h0M625.6 516.4h0M588.1 516.9h0M451.9 518.7h0M460.1 518.9h0M528.5 518.5h0M486.3 515.6h0M571.8 514.8h0M485.1 514.3h0M440.7 512.5h0M434.3 508.9h0M437.5 516.6h0M445.5 515.2h0M545.7 514.8h0M592.4 517.7h0M539.4 515.6h0M503.9 514h0M523.9 516.9h0M476.1 518.1h0M537 515.2h0M513.1 515.1h0M662.1 514.9h0M642 513.4h0M493.7 516.7h0M495.5 519h0M493.9 516.4h0M536.7 515.9h0M446.7 516.1h0M636.8 514.2h0M480.5 516.6h0M429.6 503.6h0M636 514.7h0M549.1 514.8h0M433.1 512.8h0M544.6 514.7h0M561 517.9h0M496 513.9h0M443.5 514.1h0M604.2 517.3h0M419 497.1h0M572 516.9h0M645.6 513.9h0M637.4 515.5h0M643.4 513.8h0M459.8 514.9h0M509 514.7h0M520.2 515.5h0M526.2 517.4h0M501.6 514.2h0M566.4 515.6h0M578 515.9h0M613.2 514h0M466.5 516.3h0M511 517.7h0M423.3 501.4h0M421.5 497.5h0M450.6 515.2h0M450.1 514.5h0M494.4 516.8h0M465.9 516.8h0M417.8 498.1h0M593.7 518.2h0M451.5 513.9h0M664.8 516.3h0M470.5 515.8h0M536.8 515.9h0M427.5 501h0M491.8 515.6h0M618.3 514.7h0M600.1 516h0M627.8 516h0M498.9 514.8h0M475.9 517.2h0M421.2 504.1h0M427.3 500.4h0M583.1 517.8h0M505.9 515.9h0M573.2 516.1h0M466.1 516.2h0M494.5 518.9h0M491.7 514.3h0M531 515.9h0M490.5 518.7h0M463.1 518.9h0M517.9 515.3h0M493.8 517h0M502.5 517.8h0M613 517.1h0M607.1 516.9h0M477.2 515.3h0M635.6 514.1h0M552.8 515.3h0M573.8 517.8h0M460.8 517h0M528.8 518h0M454.1 515.6h0M546.6 517.6h0M575.5 516.4h0M557.7 516.3h0M481.5 517.1h0M432.9 506.1h0M629.7 516.8h0M616.3 516.8h0M460.6 517.6h0M666.9 514.1h0M438.8 508.8h0M581.1 516.3h0M590.3 516.5h0M433.7 506.5h0M492.2 518.9h0M581.4 514.2h0M433.5 507.2h0M419.2 498.4h0M420.5 497.7h0M432.5 507h0M569.2 517.1h0M497.2 517.6h0M598.5 514.2h0M541.1 518.3h0M571.9 518.1h0M490 514.8h0M661.6 514.5h0M453.1 518h0M434.7 513.5h0M626.6 516.4h0M634.3 513.9h0M424.9 505.5h0M605.1 517h0M595.2 514h0M454.2 515h0M494.2 516.2h0M592.7 515.1h0M618 517h0M575.1 518.6h0M427.6 502h0M427.2 500.9h0M482 515.5h0M469.6 518.3h0M578 517h0M487.8 516.1h0M599.2 515.9h0M544.4 517.7h0M544.1 517.6h0M651 516.7h0M483.4 518h0M432.1 505.8h0M563.8 515.8h0M630.1 515.3h0M504.2 517.2h0M606.9 514.9h0M503.4 517.3h0M521.8 515h0M559.2 515h0M576.4 514.5h0M505.7 516.8h0M650.3 513.7h0M525.9 515h0M604.7 516.5h0M424.4 501h0M668.7 515.5h0M624.3 516.9h0M460.6 516h0M586.2 515.8h0M496.2 515.4h0M428.4 507.9h0M532.5 515.3h0M518.7 516.2h0M582.2 514.6h0M550.7 514.1h0M652.6 516.6h0M527.2 514.9h0M434 510.8h0M437.3 509.3h0M653.4 516.7h0M573.6 517.6h0M607.1 515.4h0M484 517.3h0M482.9 517.1h0M440.8 516.8h0M512.6 516.8h0M609.6 515.3h0M576.7 513.9h0M604.7 514h0M417.8 500.3h0M606.7 515.1h0M595.7 515.8h0M521.4 513.8h0M438.1 508.7h0M557 518.4h0M507.1 518.3h0M573.9 514.2h0M612.2 517.2h0M520.4 515.3h0M469.7 514.8h0M600.3 513.9h0M544.1 515.1h0M443.1 514.6h0M446.5 513.9h0M603.7 514.6h0M417.9 498.3h0M632.4 513.9h0M541.1 516.7h0M597.2 514.4h0M559.1 514.9h0M486.2 516.1h0M420.9 499.5h0M444.2 516.5h0M532.7 515.3h0M517.8 514.7h0M535.6 518.6h0M505.5 515.7h0M425.5 499.5h0M526.3 514h0M638.1 516h0M527.6 517.6h0M472.9 514.1h0M491 516.7h0M651.8 514.3h0M423.8 503h0M504 514.9h0M554.5 517.8h0M651.5 514.9h0M580.5 513.7h0M437.5 511.7h0M431.1 506.9h0M429.8 504.9h0M523.1 513.8h0M585.2 517.5h0M596.4 517.1h0M568.4 514.7h0M487.9 517.1h0M538.8 514.5h0M431.3 508.7h0M433.1 513.4h0M424.5 499.2h0M427.6 504.9h0M614.3 514.5h0M469.9 517.2h0M615.4 516h0M552.9 517.2h0M436 508.2h0M425.2 499.6h0M418.3 498.7h0M656.1 517.2h0M489.8 516.8h0M478.4 516.5h0M581.2 516.4h0M505.8 515.3h0M584.8 513.7h0M476.4 513.8h0M520.2 518.6h0M631.8 514.6h0M445 515.1h0M452.9 513.5h0M441.4 511.4h0M434.1 507.7h0M659.9 514.7h0M572 514h0M427.5 502.2h0M446.9 513.9h0M528.9 515.3h0M513.9 515.6h0M625.5 515.2h0M422.6 499.7h0M442.8 515.9h0M517.3 515.6h0M439.7 509.6h0M443.1 514.9h0M483.5 518h0M434.9 511.1h0M439.4 509.2h0M421.9 497.7h0M430 503.8h0M514.1 514.7h0M460.7 514.8h0M595.9 514.7h0M554 516.5h0M618.4 514.4h0M583.5 515.4h0M630.2 517.2h0M453.7 514.3h0M469.7 513.8h0M594.5 515.6h0M525.7 516.3h0M439 511.2h0M418.6 497.2h0M451.6 518.3h0M593.6 514.2h0M580.6 515.4h0M588.4 514.5h0M435.3 510.2h0M543 514.7h0M426.1 507.9h0M639.6 514.5h0M611.4 514.8h0M579 515.7h0M433.2 506.4h0M489.5 514.4h0M493.3 515h0M426.1 503.8h0M489.3 519.1h0M593.2 516.9h0M516.4 517.9h0M668.4 518.1h0M575.8 513.9h0M561.3 516h0M451.3 515.3h0M594.6 516.5h0M557.9 518h0M540.4 515h0M664 517.5h0M542.9 514.2h0M647.6 516.1h0M437.4 506.8h0M474.3 517.2h0M567.8 517.3h0M587.3 516.4h0M638.5 517.1h0M580.5 513.9h0M424 506.3h0M627.9 514.6h0M648 514.4h0M562.9 513.7h0M545.5 517.5h0M509 514.2h0M448.3 513.7h0M569.8 515.2h0M656.4 513.8h0M490.1 517.2h0M587.6 516.1h0M426.8 505.2h0M432.8 507.2h0M430.3 506.2h0M530.2 514.6h0M451 516h0M444 512.8h0M512.3 515.7h0M492.8 516h0M551.5 514.8h0M491.1 518h0M430.2 505.5h0M603.5 515.6h0M441 515.6h0M646.3 514h0M491.9 518.8h0M586.1 517.2h0M550.1 514h0M430.6 506.6h0M575.5 517.7h0M600.6 515.9h0M568.2 516.5h0M633.2 516h0M641.7 515.6h0M650.5 515.3h0M472.5 515.2h0M532.5 515.2h0M666.6 513.4h0M606.2 516.6h0M507.5 515.3h0M612.5 517.6h0M524 518.1h0M600.2 515.3h0M610.6 514.7h0M592.1 514.3h0M475.6 517.2h0M489.9 515.6h0M530.1 515.4h0M644.5 516.3h0M584.1 513.9h0M658.7 518.1h0M422.8 504.7h0M632.2 517.6h0M423.1 505h0M571.5 516.4h0M604.6 514.3h0M619.3 516.8h0M663.1 515.1h0M486 518.8h0M429.4 508.7h0M499.3 516.9h0M533.1 514.6h0M425.8 501.7h0M646.6 513.6h0M637.6 517h0M495.6 517.9h0M517.8 516.1h0M548.3 518.7h0M533.9 516.8h0M651.1 513.5h0M541.7 517.8h0M427.5 500.4h0M455.8 515.2h0M481.8 515.2h0M492.1 515.4h0M566.5 514.5h0M493.5 515.3h0M443.3 510.6h0M567.5 515.2h0M437.9 510.8h0M551.2 516.6h0M478.8 517.9h0M644.1 514.2h0M651.1 516.2h0M494.6 518h0M447.5 516.9h0M612.1 514.2h0M659.8 513.3h0M594.6 514.6h0M643 514.6h0M537.6 513.8h0M651.2 516.5h0M656.1 514.5h0M495.9 515h0M431.7 513.6h0M444.1 511.2h0M486.4 514.3h0M604.4 516.3h0M599.5 514.3h0M522 516.5h0M509.1 514.5h0M496.4 515.2h0M648.5 517.1h0M481.7 513.9h0M593.7 515h0M574.5 514.5h0M443.3 512.6h0M597.3 518.2h0M422.2 498.5h0M494 516.2h0M557.7 517.7h0M554.7 514.9h0M577.7 515.9h0M617.3 518.4h0M421.6 502.6h0M608.6 515.2h0M493 515.9h0M475.6 516.1h0M484 516.4h0M435.8 513.9h0M463.1 517.2h0M442.3 513.4h0M498.7 515.1h0M544.1 518.1h0M443.9 516.5h0M661 515h0M526.1 514.1h0M604.5 518.5h0M567.6 516.8h0M456 518.1h0M658.8 515.3h0M509.1 516.3h0M513 515.4h0M640.9 513.7h0M661.6 513.4h0M436.5 506.5h0M429.2 505.5h0M651.3 516.3h0M478.6 518.5h0M427.3 505.2h0M433.3 507h0M531.5 514.2h0M590.5 514.4h0M582.6 513.8h0M661.6 516.3h0M596.9 515.4h0M484.5 514.5h0M513.3 518.6h0M530 514.6h0M671.3 515.5h0M580.5 514.3h0M483.8 518h0M559.3 517.8h0M578 516.3h0M442.5 511.7h0M491.1 515.4h0M493.4 517h0M458.2 514.5h0M524.4 517.6h0M631.5 518.4h0M451.7 514.3h0M625 515.6h0M423.7 504.2h0M428.2 501.9h0M643.5 516h0M444.4 516.4h0M433.7 513.7h0M532.2 518.1h0M539.8 517.8h0M432.9 504.3h0M419.7 501.7h0M660.2 516.9h0M470.5 514.4h0M513.5 516.8h0M486.8 514.4h0M446.3 514.6h0M541.4 514.3h0M434.2 508h0M516.5 517.9h0M664.3 516.6h0M434.1 509.9h0M505 516h0M566.7 518.7h0M448.9 512.3h0M611.5 515.4h0M623.9 517.1h0M416.7 496.9h0M424.9 499.2h0M435.4 514.9h0M549.4 518.5h0M438 516.3h0M541.2 514.1h0M590.5 515h0M525.8 515h0M555.8 515.5h0M450.5 518.6h0M446.1 512.3h0M475.3 515.1h0M495.8 516.4h0M569 517.2h0M435.4 506.9h0M512.1 518.4h0M541 518.1h0M471 516.5h0M642.3 514.2h0M618.1 516.2h0M447.5 516.8h0M520.6 515h0M559.1 514.2h0M456.6 514h0M558.1 516h0M435.2 511.9h0M513.2 513.9h0M627.3 514.2h0M624 514.2h0M500.6 514.5h0M470.4 516.5h0M570.1 515h0M600 513.8h0M514.3 513.8h0M432.3 508.3h0M487.1 516.7h0M597.4 517.3h0M662.6 513.7h0M602.6 517.6h0M480.1 519.1h0M584.7 515.4h0M624.9 514.4h0M488.5 515.4h0M476.2 514h0M578.6 517.2h0M473.3 514h0M646.9 516.1h0M583.4 515.9h0M452.5 517.8h0M451.9 515h0M461.5 515.5h0M604.9 518.6h0M420.3 499.5h0M492.2 514.6h0M549.7 517.4h0M597.9 515h0M481.3 515.3h0M537.2 515.8h0M636.8 514.3h0M429.9 507.9h0M422 502.2h0M541.1 515h0M537.4 515.4h0M665.7 516.6h0M578.5 514h0M594.5 517.6h0M503.3 514h0M557.3 518.2h0M546.9 515.2h0M595.8 518.1h0M566.4 517.4h0M449.5 513.6h0M454.1 514.1h0M578.8 517.5h0M439.8 511h0M550.8 515.3h0M623.1 514.5h0M431 512.6h0M640.5 515.9h0M449.8 512.7h0M441.9 510.2h0M426 499.4h0M646.1 514.1h0M467.5 518.9h0M490.2 514.9h0M522.8 515.1h0M480.1 514.3h0M566.8 515.9h0M664.8 515.1h0M516.9 515.5h0M452.9 516.3h0M534.9 514.2h0M447 517.2h0M490.5 515.6h0M513.7 517.7h0M425.3 506.7h0M609.1 516.8h0M537.5 513.8h0M609.7 517.7h0M503.7 517.5h0M665.9 516.8h0M517.4 514.4h0M519.6 517.9h0M427.8 503.6h0M538.4 514.1h0M504.8 514.7h0M512.2 515.1h0M462.4 517.8h0M444.4 510.3h0M489 514.8h0M458.6 514.7h0M506.3 518.5h0M441.1 510.7h0M640.8 515.7h0M442.6 514h0M552.3 515.4h0M576.1 518.5h0M442.8 514.4h0M440.8 509.8h0M647.3 516.6h0M528.5 516.7h0M426.2 500.6h0M443.2 511.9h0M645.7 518.1h0M453.8 513.4h0M526 515.7h0M644.6 514.3h0M442.7 517.9h0M429.6 509h0M573.7 514.3h0M530.2 515.7h0M604.2 518.1h0M421.4 499.7h0M492.5 514.4h0M617.5 517.2h0M565 516.3h0M662.4 513.7h0M657.8 514.8h0M644.8 517h0M566.7 515.7h0M431.4 512.8h0M453.3 517.4h0M627.1 514.6h0" stroke="#787878" stroke-width="1.5" stroke-linecap="square" fill="none" opacity="1"/>
<path d="M558.2 468.8h0M462.4 462.9h0M451.8 466h0M518.8 468.5h0M618.1 455.8h0M622.7 464.7h0M516.2 461.8h0M521.8 469.1h0M613.6 467h0M463.5 454.9h0M605.8 465.7h0M638.3 463.7h0M464.3 466.9h0M447 456.1h0M467.3 463.5h0M645.6 461.1h0M516.2 465.2h0M610.4 466.2h0M642.8 456.9h0M580.1 467.4h0M541.8 463h0M448.7 467h0M633.9 470h0M660.1 468.5h0M481.7 468.8h0M529.1 457.9h0M657.9 470.9h0M567.6 466.2h0M614.6 468.1h0M502.4 467.9h0M668.1 462.1h0M585.8 468.8h0M582 469.4h0M512.9 467.8h0M510.9 469.2h0M443.7 470.6h0M455.7 469.2h0M479.1 466.3h0M503.2 457.4h0M444.7 466.9h0M499.7 467.6h0M491.3 468.6h0M446.3 470.3h0M459.7 466.2h0M580 468.6h0M432.8 475.5h0M441.3 469.4h0M418.4 490.9h0M504.9 458.9h0M619 469.3h0M641 467.2h0M559.2 462.9h0M513.2 459.5h0M532.4 462.2h0M588.6 466.4h0M562.6 468.6h0M490.9 453.1h0M619 467.5h0M455.8 465.8h0M667 470.2h0M475 467.4h0M672.3 466.6h0M575.1 469.8h0M615.3 465.9h0M496.6 469.1h0M597 463.2h0M539 466.6h0M663.5 470.4h0M602.7 467.9h0M446.7 470h0M608.1 468.2h0M513.9 469.8h0M602.4 464.7h0M539.8 465.4h0M464.2 468.7h0M666.3 468.3h0M601.6 466.7h0M541.5 469.5h0M616.1 468.6h0M504.1 464.3h0M431 472.7h0M499.6 467h0M602.1 467.9h0M493.2 466h0M603.8 469.4h0M521.4 460.6h0M597.3 469.7h0M448.2 462.8h0M661.7 470.6h0M512.4 463.6h0M555.3 466.6h0M547.4 468.8h0M514.5 456.2h0M567.3 458.5h0M564.6 468.1h0M494.9 469.6h0M434.9 472.4h0M542.8 454.4h0M426 482.3h0M597.2 459.8h0M598.1 468.6h0M494.3 465.9h0M552.8 465.5h0M627.3 467h0M608.9 468.7h0M492.2 461.1h0M638.2 468.4h0M490.1 468.7h0M507.3 468h0M501.4 467.9h0M570.7 467.7h0M538.1 469.2h0M652.5 459h0M571.4 469.3h0M654.7 467.8h0M430.7 465.6h0M472.3 469h0M574.2 466.9h0M577.9 469h0M553.9 464.6h0M442.9 456.9h0M501.7 465.6h0M561.1 468.8h0M580 464.2h0M638.2 468.2h0M473.5 464.8h0M658.6 458.6h0M558.3 468.7h0M479.9 468.6h0M647 467.2h0M493 466.1h0M490.8 469.1h0M631.6 470.5h0M458.9 468h0M501.8 462.5h0M661.8 469.9h0M447.8 469.1h0M510.1 469.6h0M506.5 465.7h0M597.9 457.3h0M597.3 464.8h0M490.4 467.5h0M531.7 468.6h0M466.4 462h0M493.1 468.8h0M615.5 463.8h0M500.6 469.5h0M486.4 467.6h0M521.4 455.6h0M592.2 469.2h0M539.3 456.9h0M469.4 466.5h0M456.2 466.5h0M655.2 461.6h0M529.5 468.3h0M441.7 465.6h0M577.6 464.6h0M659 466.5h0M628.6 467.4h0M500 468.4h0M543.5 464.4h0M476.8 463.2h0M592.4 459.6h0M416.1 493.6h0M608.6 465h0M515.8 468.2h0M498.8 469h0M514.9 468h0M485.6 468.5h0M627 469.3h0M511.6 458.9h0M548.5 469.8h0M497.8 467.5h0M457.4 464.4h0M449.3 459h0M600.6 468.5h0M617.7 460.8h0M430.8 477.2h0M629.2 469.4h0M611.7 470.2h0M505.3 465.4h0M640.7 467.8h0M453.3 469h0M660.4 463h0M417.3 488h0M481.8 466.8h0M663.3 470.8h0M567.5 467.6h0M510.6 467.2h0M558.4 469.2h0M662.5 464.6h0M467.6 468h0M654 470.1h0M559 466.7h0M635.7 469.1h0M450.8 465.5h0M549.5 467.9h0M461 469h0M426.6 481.8h0M534.9 468.5h0M441.2 462.5h0M425.7 480.2h0M552.5 469.8h0M628.2 467.2h0M480.1 461.3h0M428 480.7h0M469 468.4h0M597.4 469.8h0M586.9 466h0M646.5 469.8h0M647.7 464h0M485.7 465.2h0M570.9 468.4h0M466.9 468.8h0M611.1 468.2h0M632.6 461.5h0M562.4 469.7h0M671.8 469.1h0M659.6 469.5h0M473.7 457.2h0M455.6 467h0M456.1 467.4h0M470.3 469h0M495.9 462.4h0M448.9 460.8h0M461.7 450.9h0M645.7 470.5h0M579.7 467.1h0M552.5 466.3h0M595.7 469h0M568 468.6h0M597.3 469.7h0M441.3 469h0M572.8 469.1h0M450.7 454.3h0M517.3 462.1h0M512.8 463.2h0" stroke="#787878" stroke-width="1.5" stroke-linecap="square" fill="none" opacity="1"/>
<path d="M580.2 519.6h0M509.9 523.3h0M568.3 519.9h0M592 520.3h0M503.6 522.3h0M580.5 519.5h0M529.5 523.1h0M592.4 522.4h0M584.5 519.9h0M435.3 516.8h0M606.5 522.2h0M637.5 519.6h0M492 522.3h0M670.1 520.1h0M516.7 520.2h0M500.9 523.4h0M458.1 525.6h0M549.2 520.9h0M469.9 521.1h0M475.5 521.3h0M555.1 520.2h0M494.8 520.1h0M493.4 521.4h0M603.7 520h0M445.8 524h0M617.8 519.9h0M425.8 510.2h0M666.7 519.1h0M647.6 522.4h0M583 520.4h0M589.8 520.1h0M447.5 521.1h0M598.9 519.9h0M477.6 521.5h0M461.9 523.9h0M492.5 527.4h0M525.8 520.1h0M419.2 506.5h0M647.2 520.5h0M536.4 528.4h0M461.1 520.9h0M498.2 525.8h0M562.1 521h0M606.1 524.7h0M587 525.4h0M503.2 523.2h0M560.6 522.8h0M469.1 520.9h0M543.9 529.2h0M541.9 522h0M665.3 524.2h0M507.4 523.3h0M582.1 519.9h0M462.9 521.6h0M546.8 523.2h0M528.3 522.8h0M497 520h0M618.4 524.3h0M453.9 525h0M522.8 523.2h0M457.4 526.6h0M545.9 519.8h0M583.5 520.8h0M645.9 519.6h0M575.9 520.6h0M638.3 521.8h0M508.9 520.1h0M652.7 519.5h0M515.1 520.1h0M661 522.1h0M500.4 520.5h0M592.1 521.4h0M502.2 521.9h0M508.9 520.1h0M574.2 523.7h0M627.1 520.8h0M455.7 521.7h0M436.8 518.9h0M517.6 521.3h0M584.5 519.7h0M588.9 521.7h0M649.3 521.5h0M667.5 520.1h0M533.4 524.9h0M657.1 519.2h0M660.5 520.2h0M534.6 521.3h0M533.2 526.9h0M499.8 526.6h0M619.6 520.3h0M571 523.4h0M515.9 520.3h0M482.7 523h0M581.5 520.3h0M457.5 521.4h0M645.2 519.3h0M663.5 525.3h0M548.3 520.7h0M601.1 524.9h0M499.6 520.8h0M641.6 519.4h0M561.9 521.6h0M428.1 512.9h0M459.8 520.1h0M614.8 520.9h0M596.9 521.7h0M562.5 528.4h0M596.4 520.6h0M533.7 522.4h0M648.9 519.6h0M632.7 521.7h0M479 521h0M522.4 520.6h0M436.4 520.9h0M660.7 521h0M455.7 526.4h0M563.8 521h0M596.4 520.8h0M567.3 520.4h0M469.4 526.1h0M562.9 525.5h0M465.5 523.2h0M423.7 508.2h0M497.1 522.5h0M472.8 523.3h0M552 521.9h0M500.4 522h0M632.5 523h0M509.9 521.4h0M519 522.1h0M619.8 519.6h0M576.3 520.7h0M537.6 520.8h0M479 523.1h0M671.3 521.4h0M519.9 520.4h0M485.7 521.6h0M511 521.3h0M537.3 519.8h0M574 521h0M442.5 521.5h0" stroke="#787878" stroke-width="1.5" stroke-linecap="square" fill="none" opacity="1"/>
<path d="M606.1 480.7h0M455.2 496.4h0M593.1 512.8h0M622.7 511.1h0M662.8 511.8h0M627.7 496.5h0M628.9 503.5h0M457.3 496.3h0M487.2 510.9h0M548.6 501.4h0M539.8 508.4h0M454.2 513h0M575 479.3h0M575.1 496.5h0M479.2 496.2h0M562.2 513.9h0M595.7 487.5h0M484.2 502.7h0M608.7 481.4h0M489.9 496.3h0M651.8 510.7h0M638.7 480.1h0M439.8 487.7h0M580.6 508.2h0M595.4 478.6h0M454.9 499.3h0M527.5 493.6h0M499.7 501.7h0M664.9 511.3h0M434.4 490.4h0M527.8 491.1h0M522.9 512.2h0M501 495h0M637.7 501.2h0M455.2 513.6h0M502 508.5h0M506 509.1h0M650.3 485.4h0M504.6 514h0M636.4 513.3h0M631.9 481h0M648.3 484.2h0M584.2 483.4h0M652.3 496.5h0M539.1 488.9h0M447.3 481.3h0M463.2 507.4h0M538.7 490.9h0M574.4 487.1h0M436.6 501.4h0M630.7 482.3h0M556.7 498h0M598 503.6h0M594.4 514.4h0M556.6 503.6h0M452.5 491.5h0M518.6 500.9h0M469 485.1h0M461.8 498h0M473.2 483.9h0M613.1 505h0M635.7 512.6h0M513 485.7h0M467.9 478h0M651.8 479.1h0M563.7 484.1h0M563.7 503h0M507.5 481h0M575.6 496.5h0M534.6 505.9h0M602.8 485.4h0M652.6 496.5h0M475.2 496.2h0M589.2 478.8h0M593.5 512.5h0M633.4 494h0M511.2 513.4h0M556.5 494.6h0M544.4 513.1h0M621.4 492.8h0M572.5 496.5h0M605.3 496.5h0M583.9 504.8h0M630.8 505.1h0M614.4 513.6h0M563.2 494.2h0M568.2 496.5h0M559.4 481.2h0M491.9 513.5h0M653.3 508.4h0M483.6 481.4h0M547.6 501.4h0M507.7 507.1h0M457.8 496.3h0M625.5 500.1h0M531.4 479.4h0M563.1 486.6h0M631 502.5h0M438.7 504.2h0M507.3 510.4h0M610.2 479.9h0M510.9 510.6h0M545.6 481.7h0M665.5 502.1h0M544.4 483.7h0M642.6 482.1h0M447.9 496.5h0M670 496.5h0M603.1 481.5h0M587.2 483.9h0M587.2 496.5h0M545.8 488.9h0M443.9 510.1h0M512.6 501.2h0M585 483.1h0M548.3 486.3h0M575.7 480.3h0M567 496.5h0M520.6 488.1h0M542.7 510h0M485.1 484.1h0M566.6 489.7h0M541.1 509.3h0M430.8 494.8h0M559.8 510.4h0M533.3 508.4h0M554 479.9h0M449.1 499.4h0M526.4 483.7h0M468.3 514h0M464.5 496.2h0M453 496.4h0M434.9 494.3h0M646 510.8h0M575.7 491.7h0M632.9 487h0M520.6 495.2h0M560.4 501.6h0M457.9 496.3h0M515.2 508.9h0M492 502.9h0M605.2 496.5h0M610.8 479.8h0M641.3 479.1h0M448.8 493.7h0M573 504.5h0M600 489.6h0M439.7 498.4h0M640 512.4h0M525.5 492.2h0M670.2 490.1h0M493.2 487.1h0M585.5 491h0M590.9 511.3h0M501.8 479.7h0M513.5 503.1h0M608.2 495.4h0M565.6 486.4h0M647 506.9h0M635.5 514.1h0M460.1 492h0M617.2 514h0M629 506.1h0M640.3 503.4h0M589.2 514.3h0M490.8 496.3h0M451.9 504.8h0M640.1 509.2h0M620.6 510h0M533.9 497.1h0M635.4 496.5h0M452.4 485.7h0M648.8 496.5h0M571.4 493.5h0M574.2 512.8h0M662.3 508.9h0M642 494.8h0M471.4 511.1h0M623 479h0M473.8 508.1h0M575.9 486.5h0M539.9 485h0M549 478.5h0M582.5 488.3h0M627.7 489h0M531 484.1h0M652.4 496.5h0M455.4 508h0M470.5 513.1h0M632.3 487.8h0M585.6 496.5h0M654.7 481.9h0M580.5 511.2h0M477.8 479h0M545.2 498.5h0M429.3 501.4h0M661.2 481.9h0M653.1 512h0M439.1 504.4h0M538.5 493.1h0M500.6 499.7h0M548.6 499.8h0M523.5 499.4h0M637.9 489.5h0M510.2 483.8h0M482.4 511.5h0M665 483.2h0M504 478.7h0M599.8 485.8h0M556.3 488.7h0M606 487.3h0M566.6 512.7h0M625.6 479.6h0M473 478.2h0M658.1 489.4h0M496 478.8h0M650.4 495.4h0M431.3 493.8h0M561.3 501.4h0M527.5 482.6h0M460.4 497h0M609.5 496.6h0M597.2 500.3h0M598.4 511.5h0M548 505.9h0M566.2 496.5h0M556 488.8h0M508.6 503h0M564.1 492.5h0M634.3 513.4h0M628.9 508.9h0M451.7 479.9h0M616.4 479.8h0M545.5 504.3h0M595.4 491.9h0M544.3 503.3h0M496.8 488.7h0M665.6 497.5h0M662.8 496.5h0M600.7 492.5h0M472.7 483h0M447.4 501.1h0M591.6 503.6h0M599.6 512.3h0M459.8 495.4h0M535.6 481.4h0M603.9 487h0M663.5 482.3h0M638.6 496.5h0M625.7 510.1h0M460.4 511.5h0M650.7 503.8h0M552.4 511.9h0M539.9 490.4h0M568.3 510.2h0M576.6 501.4h0M632.2 497.4h0M433.8 494h0M444.3 510.2h0M542.5 482.4h0M633.9 505.7h0M459 478.8h0M585.9 513.3h0M531.5 507.3h0M661.3 495.5h0M618.8 494.1h0M483.2 496.3h0M670.8 513.5h0M653.4 489.8h0M474.9 496.2h0M612.9 496.5h0M559.6 496.3h0M552.9 481.5h0M534.7 505.6h0M539.2 486h0M573.3 496.5h0M670 510.4h0M650.3 479.1h0M519.4 499.3h0M528.7 486.5h0M634.2 484.7h0M509.6 497.9h0M529.8 496.5h0M597.6 507.3h0M453.9 512.9h0M623.5 484.3h0M484.8 485.9h0M554.2 483.4h0M499.4 509.5h0M562.9 478.8h0M505.5 510.5h0M536.2 499.8h0M574.4 511.8h0M648.8 496.5h0M508.5 488.6h0M651.6 511.1h0M668.2 502h0M639 480.7h0M511.9 501.3h0M578.4 513.9h0" stroke="#fff" stroke-width="1.0" stroke-linecap="square" fill="none" opacity="0.85"/>
<path d="M465 472V517M533.4 476V518M536.7 478V516M603.3 476V517M668 478V516M671.7 479V515" stroke="#7f7f7f" stroke-width="1.3" fill="none"/>
<path d="M399.5 488.5h0M403 488h0M400 501.5h0M408 482h0M410 503h0M407 512h0M413 478h0M405 494h0M411 497h0M415 485h0M417 507h0M409 493h0M416 472h0M418 514h0M412 500h0" stroke="#787878" stroke-width="1.5" stroke-linecap="square" fill="none" opacity="1"/>
<path d="M463.4 474V518" stroke="#fff" stroke-width="1.04" opacity="0.6"/>
<path d="M467.8 474V518" stroke="#fff" stroke-width="1.04" opacity="0.6"/>
<path d="M531 474V518" stroke="#fff" stroke-width="0.96" opacity="0.6"/>
<path d="M534.8 474V518" stroke="#fff" stroke-width="0.96" opacity="0.6"/>
<path d="M536.8 474V518" stroke="#fff" stroke-width="0.6400000000000001" opacity="0.6"/>
<path d="M600.3 474V518" stroke="#fff" stroke-width="0.96" opacity="0.6"/>
<path d="M603.5 474V518" stroke="#fff" stroke-width="0.8" opacity="0.6"/>
<path d="M605.3 474V518" stroke="#fff" stroke-width="0.7200000000000001" opacity="0.6"/>
<path d="M668.3 474V518" stroke="#fff" stroke-width="0.8" opacity="0.6"/>
<path d="M670 474V518" stroke="#fff" stroke-width="0.6400000000000001" opacity="0.6"/>
<path d="M400 496.9 L671.8 496.9" stroke="#0b89ff" stroke-width="2.3" fill="none" stroke-linecap="round" stroke-linejoin="round"/>
<rect x="389.5" y="444.5" width="294" height="92" fill="none" stroke="#404040" stroke-width="1"/>
<path d="M395.6 536.5v5M464.7 536.5v5M533.8 536.5v5M602.9 536.5v5M672 536.5v5M389.5 445.4h-5M389.5 466.4h-5M389.5 487.5h-5M389.5 508.6h-5M389.5 529.6h-5" stroke="#404040" stroke-width="1" fill="none"/>
<text x="395.6" y="554" text-anchor="middle">1</text>
<text x="464.7" y="554" text-anchor="middle">2</text>
<text x="533.8" y="554" text-anchor="middle">3</text>
<text x="602.9" y="554" text-anchor="middle">4</text>
<text x="672" y="554" text-anchor="middle">5</text>
<text x="379.2" y="448.3" text-anchor="end">1.0</text>
<text x="379.2" y="469.3" text-anchor="end">0.5</text>
<text x="379.2" y="490.4" text-anchor="end">0.0</text>
<text x="379.2" y="511.4" text-anchor="end">-0.5</text>
<text x="379.2" y="532.5" text-anchor="end">-1.0</text>
<text x="536" y="573" text-anchor="middle">Concreteness</text>
<text transform="translate(359.8 491) rotate(-90)" text-anchor="middle">I_Zscore</text>
</g>
</svg>
</body></html>
